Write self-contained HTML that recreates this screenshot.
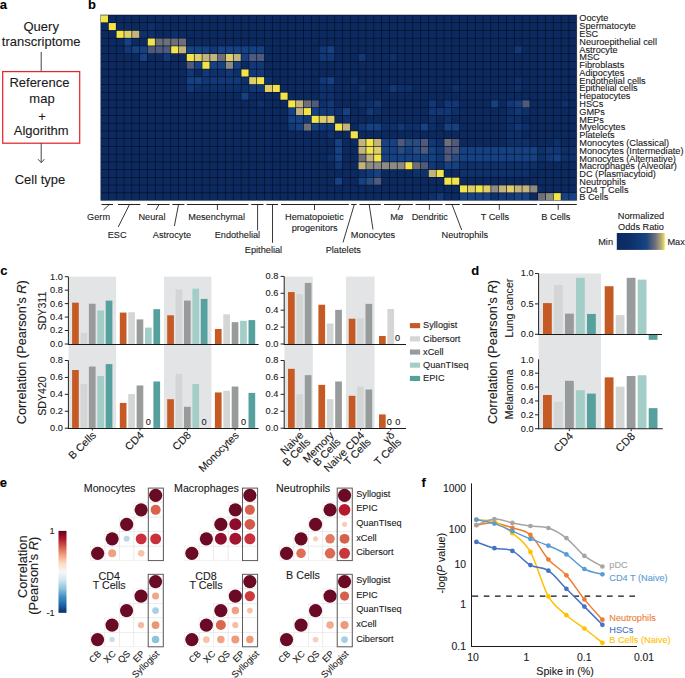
<!DOCTYPE html>
<html><head><meta charset="utf-8"><style>
html,body{margin:0;padding:0;background:#fff;}
body{width:685px;height:678px;overflow:hidden;}
svg{display:block;font-family:"Liberation Sans", sans-serif;}
</style></head><body>
<svg width="685" height="678" viewBox="0 0 685 678">
<rect width="685" height="678" fill="#fff"/>
<text x="-0.30" y="9.30" font-size="13" text-anchor="start" fill="#000" stroke="#000" stroke-width="0.1" font-weight="bold">a</text>
<text x="41.20" y="30.70" font-size="13.0" text-anchor="middle" fill="#1a1a1a" stroke="#1a1a1a" stroke-width="0.1">Query</text>
<text x="41.20" y="46.40" font-size="13.0" text-anchor="middle" fill="#1a1a1a" stroke="#1a1a1a" stroke-width="0.1">transcriptome</text>
<line x1="41.20" y1="51.90" x2="41.20" y2="71.50" stroke="#444" stroke-width="1"/>
<rect x="2.7" y="71.6" width="77.0" height="71.6" fill="none" stroke="#e3262b" stroke-width="1.25"/>
<text x="39.40" y="87.30" font-size="13.0" text-anchor="middle" fill="#1a1a1a" stroke="#1a1a1a" stroke-width="0.1">Reference</text>
<text x="42.00" y="102.50" font-size="13.0" text-anchor="middle" fill="#1a1a1a" stroke="#1a1a1a" stroke-width="0.1">map</text>
<text x="42.00" y="120.60" font-size="13.0" text-anchor="middle" fill="#1a1a1a" stroke="#1a1a1a" stroke-width="0.1">+</text>
<text x="41.20" y="135.30" font-size="13.0" text-anchor="middle" fill="#1a1a1a" stroke="#1a1a1a" stroke-width="0.1">Algorithm</text>
<line x1="41.20" y1="143.00" x2="41.20" y2="162.50" stroke="#444" stroke-width="1"/>
<polyline points="38.00,159.2 41.20,162.6 44.40,159.2" fill="none" stroke="#444" stroke-width="1"/>
<text x="40.00" y="184.00" font-size="13.0" text-anchor="middle" fill="#1a1a1a" stroke="#1a1a1a" stroke-width="0.1">Cell type</text>
<text x="87.90" y="9.40" font-size="13" text-anchor="start" fill="#000" stroke="#000" stroke-width="0.1" font-weight="bold">b</text>
<rect x="100.30" y="14.70" width="476.70" height="186.12" fill="#050e24" stroke="#c4c8d4" stroke-width="0.6"/>
<rect x="100.92" y="15.32" width="7.17" height="7.09" fill="#f3e44a"/>
<rect x="108.72" y="15.32" width="7.17" height="7.09" fill="#0c2a60"/>
<rect x="116.53" y="15.32" width="7.17" height="7.09" fill="#0c2a60"/>
<rect x="124.33" y="15.32" width="7.17" height="7.09" fill="#0c2a60"/>
<rect x="132.14" y="15.32" width="7.17" height="7.09" fill="#0c2a60"/>
<rect x="139.94" y="15.32" width="7.17" height="7.09" fill="#0c2a60"/>
<rect x="147.75" y="15.32" width="7.17" height="7.09" fill="#0c2a60"/>
<rect x="155.55" y="15.32" width="7.17" height="7.09" fill="#0c2a60"/>
<rect x="163.36" y="15.32" width="7.17" height="7.09" fill="#0c2a60"/>
<rect x="171.16" y="15.32" width="7.17" height="7.09" fill="#0c2a60"/>
<rect x="178.97" y="15.32" width="7.17" height="7.09" fill="#0c2a60"/>
<rect x="186.77" y="15.32" width="7.17" height="7.09" fill="#0c2a60"/>
<rect x="194.58" y="15.32" width="7.17" height="7.09" fill="#0c2a60"/>
<rect x="202.38" y="15.32" width="7.17" height="7.09" fill="#0c2a60"/>
<rect x="210.19" y="15.32" width="7.17" height="7.09" fill="#0c2a60"/>
<rect x="217.99" y="15.32" width="7.17" height="7.09" fill="#0c2a60"/>
<rect x="225.80" y="15.32" width="7.17" height="7.09" fill="#0c2a60"/>
<rect x="233.60" y="15.32" width="7.17" height="7.09" fill="#0c2a60"/>
<rect x="241.41" y="15.32" width="7.17" height="7.09" fill="#0c2a60"/>
<rect x="249.21" y="15.32" width="7.17" height="7.09" fill="#0c2a60"/>
<rect x="257.02" y="15.32" width="7.17" height="7.09" fill="#0c2a60"/>
<rect x="264.82" y="15.32" width="7.17" height="7.09" fill="#0c2a60"/>
<rect x="272.63" y="15.32" width="7.17" height="7.09" fill="#0c2a60"/>
<rect x="280.44" y="15.32" width="7.17" height="7.09" fill="#0c2a60"/>
<rect x="288.24" y="15.32" width="7.17" height="7.09" fill="#0c2a60"/>
<rect x="296.05" y="15.32" width="7.17" height="7.09" fill="#0c2a60"/>
<rect x="303.85" y="15.32" width="7.17" height="7.09" fill="#0c2a60"/>
<rect x="311.65" y="15.32" width="7.17" height="7.09" fill="#0c2a60"/>
<rect x="319.46" y="15.32" width="7.17" height="7.09" fill="#0c2a60"/>
<rect x="327.26" y="15.32" width="7.17" height="7.09" fill="#0c2a60"/>
<rect x="335.07" y="15.32" width="7.17" height="7.09" fill="#0c2a60"/>
<rect x="342.87" y="15.32" width="7.17" height="7.09" fill="#0c2a60"/>
<rect x="350.68" y="15.32" width="7.17" height="7.09" fill="#0c2a60"/>
<rect x="358.48" y="15.32" width="7.17" height="7.09" fill="#0c2a60"/>
<rect x="366.29" y="15.32" width="7.17" height="7.09" fill="#0c2a60"/>
<rect x="374.09" y="15.32" width="7.17" height="7.09" fill="#0c2a60"/>
<rect x="381.90" y="15.32" width="7.17" height="7.09" fill="#0c2a60"/>
<rect x="389.70" y="15.32" width="7.17" height="7.09" fill="#0c2a60"/>
<rect x="397.51" y="15.32" width="7.17" height="7.09" fill="#0c2a60"/>
<rect x="405.31" y="15.32" width="7.17" height="7.09" fill="#0c2a60"/>
<rect x="413.12" y="15.32" width="7.17" height="7.09" fill="#0c2a60"/>
<rect x="420.93" y="15.32" width="7.17" height="7.09" fill="#0c2a60"/>
<rect x="428.73" y="15.32" width="7.17" height="7.09" fill="#0c2a60"/>
<rect x="436.54" y="15.32" width="7.17" height="7.09" fill="#0c2a60"/>
<rect x="444.34" y="15.32" width="7.17" height="7.09" fill="#0c2a60"/>
<rect x="452.14" y="15.32" width="7.17" height="7.09" fill="#0c2a60"/>
<rect x="459.95" y="15.32" width="7.17" height="7.09" fill="#0c2a60"/>
<rect x="467.75" y="15.32" width="7.17" height="7.09" fill="#0c2a60"/>
<rect x="475.56" y="15.32" width="7.17" height="7.09" fill="#0c2a60"/>
<rect x="483.36" y="15.32" width="7.17" height="7.09" fill="#0c2a60"/>
<rect x="491.17" y="15.32" width="7.17" height="7.09" fill="#0c2a60"/>
<rect x="498.97" y="15.32" width="7.17" height="7.09" fill="#0c2a60"/>
<rect x="506.78" y="15.32" width="7.17" height="7.09" fill="#0c2a60"/>
<rect x="514.59" y="15.32" width="7.17" height="7.09" fill="#0c2a60"/>
<rect x="522.39" y="15.32" width="7.17" height="7.09" fill="#0c2a60"/>
<rect x="530.20" y="15.32" width="7.17" height="7.09" fill="#0c2a60"/>
<rect x="538.00" y="15.32" width="7.17" height="7.09" fill="#0c2a60"/>
<rect x="545.81" y="15.32" width="7.17" height="7.09" fill="#0c2a60"/>
<rect x="553.61" y="15.32" width="7.17" height="7.09" fill="#0c2a60"/>
<rect x="561.42" y="15.32" width="7.17" height="7.09" fill="#0c2a60"/>
<rect x="569.22" y="15.32" width="7.17" height="7.09" fill="#0c2a60"/>
<rect x="100.92" y="23.05" width="7.17" height="7.09" fill="#0c2a60"/>
<rect x="108.72" y="23.05" width="7.17" height="7.09" fill="#f3e44a"/>
<rect x="116.53" y="23.05" width="7.17" height="7.09" fill="#0c2a60"/>
<rect x="124.33" y="23.05" width="7.17" height="7.09" fill="#0c2a60"/>
<rect x="132.14" y="23.05" width="7.17" height="7.09" fill="#0c2a60"/>
<rect x="139.94" y="23.05" width="7.17" height="7.09" fill="#0c2a60"/>
<rect x="147.75" y="23.05" width="7.17" height="7.09" fill="#0e306b"/>
<rect x="155.55" y="23.05" width="7.17" height="7.09" fill="#0c2a60"/>
<rect x="163.36" y="23.05" width="7.17" height="7.09" fill="#0c2a60"/>
<rect x="171.16" y="23.05" width="7.17" height="7.09" fill="#0c2a60"/>
<rect x="178.97" y="23.05" width="7.17" height="7.09" fill="#0c2a60"/>
<rect x="186.77" y="23.05" width="7.17" height="7.09" fill="#0c2a60"/>
<rect x="194.58" y="23.05" width="7.17" height="7.09" fill="#0c2a60"/>
<rect x="202.38" y="23.05" width="7.17" height="7.09" fill="#0c2a60"/>
<rect x="210.19" y="23.05" width="7.17" height="7.09" fill="#0c2a60"/>
<rect x="217.99" y="23.05" width="7.17" height="7.09" fill="#0c2a60"/>
<rect x="225.80" y="23.05" width="7.17" height="7.09" fill="#0c2a60"/>
<rect x="233.60" y="23.05" width="7.17" height="7.09" fill="#0c2a60"/>
<rect x="241.41" y="23.05" width="7.17" height="7.09" fill="#0c2a60"/>
<rect x="249.21" y="23.05" width="7.17" height="7.09" fill="#0c2a60"/>
<rect x="257.02" y="23.05" width="7.17" height="7.09" fill="#0c2a60"/>
<rect x="264.82" y="23.05" width="7.17" height="7.09" fill="#0c2a60"/>
<rect x="272.63" y="23.05" width="7.17" height="7.09" fill="#0c2a60"/>
<rect x="280.44" y="23.05" width="7.17" height="7.09" fill="#0c2a60"/>
<rect x="288.24" y="23.05" width="7.17" height="7.09" fill="#0c2a60"/>
<rect x="296.05" y="23.05" width="7.17" height="7.09" fill="#0c2a60"/>
<rect x="303.85" y="23.05" width="7.17" height="7.09" fill="#0c2a60"/>
<rect x="311.65" y="23.05" width="7.17" height="7.09" fill="#0c2a60"/>
<rect x="319.46" y="23.05" width="7.17" height="7.09" fill="#0c2a60"/>
<rect x="327.26" y="23.05" width="7.17" height="7.09" fill="#0c2a60"/>
<rect x="335.07" y="23.05" width="7.17" height="7.09" fill="#0c2a60"/>
<rect x="342.87" y="23.05" width="7.17" height="7.09" fill="#0c2a60"/>
<rect x="350.68" y="23.05" width="7.17" height="7.09" fill="#0c2a60"/>
<rect x="358.48" y="23.05" width="7.17" height="7.09" fill="#0c2a60"/>
<rect x="366.29" y="23.05" width="7.17" height="7.09" fill="#0c2a60"/>
<rect x="374.09" y="23.05" width="7.17" height="7.09" fill="#0c2a60"/>
<rect x="381.90" y="23.05" width="7.17" height="7.09" fill="#0c2a60"/>
<rect x="389.70" y="23.05" width="7.17" height="7.09" fill="#0c2a60"/>
<rect x="397.51" y="23.05" width="7.17" height="7.09" fill="#0c2a60"/>
<rect x="405.31" y="23.05" width="7.17" height="7.09" fill="#0c2a60"/>
<rect x="413.12" y="23.05" width="7.17" height="7.09" fill="#0c2a60"/>
<rect x="420.93" y="23.05" width="7.17" height="7.09" fill="#0c2a60"/>
<rect x="428.73" y="23.05" width="7.17" height="7.09" fill="#0c2a60"/>
<rect x="436.54" y="23.05" width="7.17" height="7.09" fill="#0c2a60"/>
<rect x="444.34" y="23.05" width="7.17" height="7.09" fill="#0c2a60"/>
<rect x="452.14" y="23.05" width="7.17" height="7.09" fill="#0c2a60"/>
<rect x="459.95" y="23.05" width="7.17" height="7.09" fill="#0c2a60"/>
<rect x="467.75" y="23.05" width="7.17" height="7.09" fill="#0c2a60"/>
<rect x="475.56" y="23.05" width="7.17" height="7.09" fill="#0c2a60"/>
<rect x="483.36" y="23.05" width="7.17" height="7.09" fill="#0c2a60"/>
<rect x="491.17" y="23.05" width="7.17" height="7.09" fill="#0c2a60"/>
<rect x="498.97" y="23.05" width="7.17" height="7.09" fill="#0c2a60"/>
<rect x="506.78" y="23.05" width="7.17" height="7.09" fill="#0c2a60"/>
<rect x="514.59" y="23.05" width="7.17" height="7.09" fill="#0c2a60"/>
<rect x="522.39" y="23.05" width="7.17" height="7.09" fill="#0c2a60"/>
<rect x="530.20" y="23.05" width="7.17" height="7.09" fill="#0c2a60"/>
<rect x="538.00" y="23.05" width="7.17" height="7.09" fill="#0c2a60"/>
<rect x="545.81" y="23.05" width="7.17" height="7.09" fill="#0c2a60"/>
<rect x="553.61" y="23.05" width="7.17" height="7.09" fill="#0c2a60"/>
<rect x="561.42" y="23.05" width="7.17" height="7.09" fill="#0c2a60"/>
<rect x="569.22" y="23.05" width="7.17" height="7.09" fill="#0c2a60"/>
<rect x="100.92" y="30.78" width="7.17" height="7.09" fill="#0c2a60"/>
<rect x="108.72" y="30.78" width="7.17" height="7.09" fill="#0c2a60"/>
<rect x="116.53" y="30.78" width="7.17" height="7.09" fill="#f3e44a"/>
<rect x="124.33" y="30.78" width="7.17" height="7.09" fill="#e0ce68"/>
<rect x="132.14" y="30.78" width="7.17" height="7.09" fill="#c2b47a"/>
<rect x="139.94" y="30.78" width="7.17" height="7.09" fill="#0e306b"/>
<rect x="147.75" y="30.78" width="7.17" height="7.09" fill="#0e306b"/>
<rect x="155.55" y="30.78" width="7.17" height="7.09" fill="#0c2a60"/>
<rect x="163.36" y="30.78" width="7.17" height="7.09" fill="#0c2a60"/>
<rect x="171.16" y="30.78" width="7.17" height="7.09" fill="#0e306b"/>
<rect x="178.97" y="30.78" width="7.17" height="7.09" fill="#0c2a60"/>
<rect x="186.77" y="30.78" width="7.17" height="7.09" fill="#0c2a60"/>
<rect x="194.58" y="30.78" width="7.17" height="7.09" fill="#0c2a60"/>
<rect x="202.38" y="30.78" width="7.17" height="7.09" fill="#0c2a60"/>
<rect x="210.19" y="30.78" width="7.17" height="7.09" fill="#0c2a60"/>
<rect x="217.99" y="30.78" width="7.17" height="7.09" fill="#0c2a60"/>
<rect x="225.80" y="30.78" width="7.17" height="7.09" fill="#0c2a60"/>
<rect x="233.60" y="30.78" width="7.17" height="7.09" fill="#0c2a60"/>
<rect x="241.41" y="30.78" width="7.17" height="7.09" fill="#0c2a60"/>
<rect x="249.21" y="30.78" width="7.17" height="7.09" fill="#0c2a60"/>
<rect x="257.02" y="30.78" width="7.17" height="7.09" fill="#0c2a60"/>
<rect x="264.82" y="30.78" width="7.17" height="7.09" fill="#0c2a60"/>
<rect x="272.63" y="30.78" width="7.17" height="7.09" fill="#0c2a60"/>
<rect x="280.44" y="30.78" width="7.17" height="7.09" fill="#0c2a60"/>
<rect x="288.24" y="30.78" width="7.17" height="7.09" fill="#0c2a60"/>
<rect x="296.05" y="30.78" width="7.17" height="7.09" fill="#0c2a60"/>
<rect x="303.85" y="30.78" width="7.17" height="7.09" fill="#0c2a60"/>
<rect x="311.65" y="30.78" width="7.17" height="7.09" fill="#0c2a60"/>
<rect x="319.46" y="30.78" width="7.17" height="7.09" fill="#0c2a60"/>
<rect x="327.26" y="30.78" width="7.17" height="7.09" fill="#0c2a60"/>
<rect x="335.07" y="30.78" width="7.17" height="7.09" fill="#0c2a60"/>
<rect x="342.87" y="30.78" width="7.17" height="7.09" fill="#0c2a60"/>
<rect x="350.68" y="30.78" width="7.17" height="7.09" fill="#0c2a60"/>
<rect x="358.48" y="30.78" width="7.17" height="7.09" fill="#0c2a60"/>
<rect x="366.29" y="30.78" width="7.17" height="7.09" fill="#0c2a60"/>
<rect x="374.09" y="30.78" width="7.17" height="7.09" fill="#0c2a60"/>
<rect x="381.90" y="30.78" width="7.17" height="7.09" fill="#0c2a60"/>
<rect x="389.70" y="30.78" width="7.17" height="7.09" fill="#0c2a60"/>
<rect x="397.51" y="30.78" width="7.17" height="7.09" fill="#0c2a60"/>
<rect x="405.31" y="30.78" width="7.17" height="7.09" fill="#0c2a60"/>
<rect x="413.12" y="30.78" width="7.17" height="7.09" fill="#0c2a60"/>
<rect x="420.93" y="30.78" width="7.17" height="7.09" fill="#0c2a60"/>
<rect x="428.73" y="30.78" width="7.17" height="7.09" fill="#0c2a60"/>
<rect x="436.54" y="30.78" width="7.17" height="7.09" fill="#0c2a60"/>
<rect x="444.34" y="30.78" width="7.17" height="7.09" fill="#0c2a60"/>
<rect x="452.14" y="30.78" width="7.17" height="7.09" fill="#0c2a60"/>
<rect x="459.95" y="30.78" width="7.17" height="7.09" fill="#0c2a60"/>
<rect x="467.75" y="30.78" width="7.17" height="7.09" fill="#0c2a60"/>
<rect x="475.56" y="30.78" width="7.17" height="7.09" fill="#0c2a60"/>
<rect x="483.36" y="30.78" width="7.17" height="7.09" fill="#0c2a60"/>
<rect x="491.17" y="30.78" width="7.17" height="7.09" fill="#0c2a60"/>
<rect x="498.97" y="30.78" width="7.17" height="7.09" fill="#0c2a60"/>
<rect x="506.78" y="30.78" width="7.17" height="7.09" fill="#0c2a60"/>
<rect x="514.59" y="30.78" width="7.17" height="7.09" fill="#0c2a60"/>
<rect x="522.39" y="30.78" width="7.17" height="7.09" fill="#0c2a60"/>
<rect x="530.20" y="30.78" width="7.17" height="7.09" fill="#0c2a60"/>
<rect x="538.00" y="30.78" width="7.17" height="7.09" fill="#0c2a60"/>
<rect x="545.81" y="30.78" width="7.17" height="7.09" fill="#0c2a60"/>
<rect x="553.61" y="30.78" width="7.17" height="7.09" fill="#0c2a60"/>
<rect x="561.42" y="30.78" width="7.17" height="7.09" fill="#0c2a60"/>
<rect x="569.22" y="30.78" width="7.17" height="7.09" fill="#0c2a60"/>
<rect x="100.92" y="38.51" width="7.17" height="7.09" fill="#0c2a60"/>
<rect x="108.72" y="38.51" width="7.17" height="7.09" fill="#0c2a60"/>
<rect x="116.53" y="38.51" width="7.17" height="7.09" fill="#0c2a60"/>
<rect x="124.33" y="38.51" width="7.17" height="7.09" fill="#164283"/>
<rect x="132.14" y="38.51" width="7.17" height="7.09" fill="#0c2a60"/>
<rect x="139.94" y="38.51" width="7.17" height="7.09" fill="#0c2a60"/>
<rect x="147.75" y="38.51" width="7.17" height="7.09" fill="#f3e44a"/>
<rect x="155.55" y="38.51" width="7.17" height="7.09" fill="#6e7079"/>
<rect x="163.36" y="38.51" width="7.17" height="7.09" fill="#6e7079"/>
<rect x="171.16" y="38.51" width="7.17" height="7.09" fill="#6e7079"/>
<rect x="178.97" y="38.51" width="7.17" height="7.09" fill="#6e7079"/>
<rect x="186.77" y="38.51" width="7.17" height="7.09" fill="#0c2a60"/>
<rect x="194.58" y="38.51" width="7.17" height="7.09" fill="#0c2a60"/>
<rect x="202.38" y="38.51" width="7.17" height="7.09" fill="#0c2a60"/>
<rect x="210.19" y="38.51" width="7.17" height="7.09" fill="#0c2a60"/>
<rect x="217.99" y="38.51" width="7.17" height="7.09" fill="#0c2a60"/>
<rect x="225.80" y="38.51" width="7.17" height="7.09" fill="#0c2a60"/>
<rect x="233.60" y="38.51" width="7.17" height="7.09" fill="#0c2a60"/>
<rect x="241.41" y="38.51" width="7.17" height="7.09" fill="#0c2a60"/>
<rect x="249.21" y="38.51" width="7.17" height="7.09" fill="#0c2a60"/>
<rect x="257.02" y="38.51" width="7.17" height="7.09" fill="#0c2a60"/>
<rect x="264.82" y="38.51" width="7.17" height="7.09" fill="#0c2a60"/>
<rect x="272.63" y="38.51" width="7.17" height="7.09" fill="#0c2a60"/>
<rect x="280.44" y="38.51" width="7.17" height="7.09" fill="#0c2a60"/>
<rect x="288.24" y="38.51" width="7.17" height="7.09" fill="#0c2a60"/>
<rect x="296.05" y="38.51" width="7.17" height="7.09" fill="#0c2a60"/>
<rect x="303.85" y="38.51" width="7.17" height="7.09" fill="#0c2a60"/>
<rect x="311.65" y="38.51" width="7.17" height="7.09" fill="#0c2a60"/>
<rect x="319.46" y="38.51" width="7.17" height="7.09" fill="#0c2a60"/>
<rect x="327.26" y="38.51" width="7.17" height="7.09" fill="#0c2a60"/>
<rect x="335.07" y="38.51" width="7.17" height="7.09" fill="#0c2a60"/>
<rect x="342.87" y="38.51" width="7.17" height="7.09" fill="#0c2a60"/>
<rect x="350.68" y="38.51" width="7.17" height="7.09" fill="#0c2a60"/>
<rect x="358.48" y="38.51" width="7.17" height="7.09" fill="#0c2a60"/>
<rect x="366.29" y="38.51" width="7.17" height="7.09" fill="#0c2a60"/>
<rect x="374.09" y="38.51" width="7.17" height="7.09" fill="#0c2a60"/>
<rect x="381.90" y="38.51" width="7.17" height="7.09" fill="#0c2a60"/>
<rect x="389.70" y="38.51" width="7.17" height="7.09" fill="#0c2a60"/>
<rect x="397.51" y="38.51" width="7.17" height="7.09" fill="#0c2a60"/>
<rect x="405.31" y="38.51" width="7.17" height="7.09" fill="#0c2a60"/>
<rect x="413.12" y="38.51" width="7.17" height="7.09" fill="#0c2a60"/>
<rect x="420.93" y="38.51" width="7.17" height="7.09" fill="#0c2a60"/>
<rect x="428.73" y="38.51" width="7.17" height="7.09" fill="#0c2a60"/>
<rect x="436.54" y="38.51" width="7.17" height="7.09" fill="#0c2a60"/>
<rect x="444.34" y="38.51" width="7.17" height="7.09" fill="#0c2a60"/>
<rect x="452.14" y="38.51" width="7.17" height="7.09" fill="#0c2a60"/>
<rect x="459.95" y="38.51" width="7.17" height="7.09" fill="#0c2a60"/>
<rect x="467.75" y="38.51" width="7.17" height="7.09" fill="#0c2a60"/>
<rect x="475.56" y="38.51" width="7.17" height="7.09" fill="#0c2a60"/>
<rect x="483.36" y="38.51" width="7.17" height="7.09" fill="#0c2a60"/>
<rect x="491.17" y="38.51" width="7.17" height="7.09" fill="#0c2a60"/>
<rect x="498.97" y="38.51" width="7.17" height="7.09" fill="#0c2a60"/>
<rect x="506.78" y="38.51" width="7.17" height="7.09" fill="#0c2a60"/>
<rect x="514.59" y="38.51" width="7.17" height="7.09" fill="#0c2a60"/>
<rect x="522.39" y="38.51" width="7.17" height="7.09" fill="#0c2a60"/>
<rect x="530.20" y="38.51" width="7.17" height="7.09" fill="#0c2a60"/>
<rect x="538.00" y="38.51" width="7.17" height="7.09" fill="#0c2a60"/>
<rect x="545.81" y="38.51" width="7.17" height="7.09" fill="#0c2a60"/>
<rect x="553.61" y="38.51" width="7.17" height="7.09" fill="#0c2a60"/>
<rect x="561.42" y="38.51" width="7.17" height="7.09" fill="#0c2a60"/>
<rect x="569.22" y="38.51" width="7.17" height="7.09" fill="#0c2a60"/>
<rect x="100.92" y="46.24" width="7.17" height="7.09" fill="#0c2a60"/>
<rect x="108.72" y="46.24" width="7.17" height="7.09" fill="#0c2a60"/>
<rect x="116.53" y="46.24" width="7.17" height="7.09" fill="#0c2a60"/>
<rect x="124.33" y="46.24" width="7.17" height="7.09" fill="#123877"/>
<rect x="132.14" y="46.24" width="7.17" height="7.09" fill="#164283"/>
<rect x="139.94" y="46.24" width="7.17" height="7.09" fill="#164283"/>
<rect x="147.75" y="46.24" width="7.17" height="7.09" fill="#4f5b7e"/>
<rect x="155.55" y="46.24" width="7.17" height="7.09" fill="#4f5b7e"/>
<rect x="163.36" y="46.24" width="7.17" height="7.09" fill="#4f5b7e"/>
<rect x="171.16" y="46.24" width="7.17" height="7.09" fill="#f3e44a"/>
<rect x="178.97" y="46.24" width="7.17" height="7.09" fill="#c2b47a"/>
<rect x="186.77" y="46.24" width="7.17" height="7.09" fill="#164283"/>
<rect x="194.58" y="46.24" width="7.17" height="7.09" fill="#164283"/>
<rect x="202.38" y="46.24" width="7.17" height="7.09" fill="#164283"/>
<rect x="210.19" y="46.24" width="7.17" height="7.09" fill="#123877"/>
<rect x="217.99" y="46.24" width="7.17" height="7.09" fill="#164283"/>
<rect x="225.80" y="46.24" width="7.17" height="7.09" fill="#164283"/>
<rect x="233.60" y="46.24" width="7.17" height="7.09" fill="#164283"/>
<rect x="241.41" y="46.24" width="7.17" height="7.09" fill="#164283"/>
<rect x="249.21" y="46.24" width="7.17" height="7.09" fill="#164283"/>
<rect x="257.02" y="46.24" width="7.17" height="7.09" fill="#164283"/>
<rect x="264.82" y="46.24" width="7.17" height="7.09" fill="#0c2a60"/>
<rect x="272.63" y="46.24" width="7.17" height="7.09" fill="#0c2a60"/>
<rect x="280.44" y="46.24" width="7.17" height="7.09" fill="#0c2a60"/>
<rect x="288.24" y="46.24" width="7.17" height="7.09" fill="#0c2a60"/>
<rect x="296.05" y="46.24" width="7.17" height="7.09" fill="#0c2a60"/>
<rect x="303.85" y="46.24" width="7.17" height="7.09" fill="#0c2a60"/>
<rect x="311.65" y="46.24" width="7.17" height="7.09" fill="#0c2a60"/>
<rect x="319.46" y="46.24" width="7.17" height="7.09" fill="#123877"/>
<rect x="327.26" y="46.24" width="7.17" height="7.09" fill="#164283"/>
<rect x="335.07" y="46.24" width="7.17" height="7.09" fill="#0c2a60"/>
<rect x="342.87" y="46.24" width="7.17" height="7.09" fill="#0c2a60"/>
<rect x="350.68" y="46.24" width="7.17" height="7.09" fill="#0c2a60"/>
<rect x="358.48" y="46.24" width="7.17" height="7.09" fill="#0c2a60"/>
<rect x="366.29" y="46.24" width="7.17" height="7.09" fill="#0c2a60"/>
<rect x="374.09" y="46.24" width="7.17" height="7.09" fill="#0c2a60"/>
<rect x="381.90" y="46.24" width="7.17" height="7.09" fill="#0c2a60"/>
<rect x="389.70" y="46.24" width="7.17" height="7.09" fill="#0c2a60"/>
<rect x="397.51" y="46.24" width="7.17" height="7.09" fill="#0c2a60"/>
<rect x="405.31" y="46.24" width="7.17" height="7.09" fill="#0c2a60"/>
<rect x="413.12" y="46.24" width="7.17" height="7.09" fill="#0c2a60"/>
<rect x="420.93" y="46.24" width="7.17" height="7.09" fill="#0c2a60"/>
<rect x="428.73" y="46.24" width="7.17" height="7.09" fill="#0c2a60"/>
<rect x="436.54" y="46.24" width="7.17" height="7.09" fill="#0c2a60"/>
<rect x="444.34" y="46.24" width="7.17" height="7.09" fill="#0c2a60"/>
<rect x="452.14" y="46.24" width="7.17" height="7.09" fill="#0c2a60"/>
<rect x="459.95" y="46.24" width="7.17" height="7.09" fill="#0c2a60"/>
<rect x="467.75" y="46.24" width="7.17" height="7.09" fill="#0c2a60"/>
<rect x="475.56" y="46.24" width="7.17" height="7.09" fill="#0c2a60"/>
<rect x="483.36" y="46.24" width="7.17" height="7.09" fill="#0c2a60"/>
<rect x="491.17" y="46.24" width="7.17" height="7.09" fill="#0c2a60"/>
<rect x="498.97" y="46.24" width="7.17" height="7.09" fill="#0c2a60"/>
<rect x="506.78" y="46.24" width="7.17" height="7.09" fill="#0c2a60"/>
<rect x="514.59" y="46.24" width="7.17" height="7.09" fill="#123877"/>
<rect x="522.39" y="46.24" width="7.17" height="7.09" fill="#0c2a60"/>
<rect x="530.20" y="46.24" width="7.17" height="7.09" fill="#0c2a60"/>
<rect x="538.00" y="46.24" width="7.17" height="7.09" fill="#0c2a60"/>
<rect x="545.81" y="46.24" width="7.17" height="7.09" fill="#0c2a60"/>
<rect x="553.61" y="46.24" width="7.17" height="7.09" fill="#0c2a60"/>
<rect x="561.42" y="46.24" width="7.17" height="7.09" fill="#0c2a60"/>
<rect x="569.22" y="46.24" width="7.17" height="7.09" fill="#0c2a60"/>
<rect x="100.92" y="53.97" width="7.17" height="7.09" fill="#0c2a60"/>
<rect x="108.72" y="53.97" width="7.17" height="7.09" fill="#0c2a60"/>
<rect x="116.53" y="53.97" width="7.17" height="7.09" fill="#0c2a60"/>
<rect x="124.33" y="53.97" width="7.17" height="7.09" fill="#0c2a60"/>
<rect x="132.14" y="53.97" width="7.17" height="7.09" fill="#0c2a60"/>
<rect x="139.94" y="53.97" width="7.17" height="7.09" fill="#164283"/>
<rect x="147.75" y="53.97" width="7.17" height="7.09" fill="#0c2a60"/>
<rect x="155.55" y="53.97" width="7.17" height="7.09" fill="#0c2a60"/>
<rect x="163.36" y="53.97" width="7.17" height="7.09" fill="#123877"/>
<rect x="171.16" y="53.97" width="7.17" height="7.09" fill="#0c2a60"/>
<rect x="178.97" y="53.97" width="7.17" height="7.09" fill="#0c2a60"/>
<rect x="186.77" y="53.97" width="7.17" height="7.09" fill="#f3e44a"/>
<rect x="194.58" y="53.97" width="7.17" height="7.09" fill="#e0ce68"/>
<rect x="202.38" y="53.97" width="7.17" height="7.09" fill="#c2b47a"/>
<rect x="210.19" y="53.97" width="7.17" height="7.09" fill="#c2b47a"/>
<rect x="217.99" y="53.97" width="7.17" height="7.09" fill="#6e7079"/>
<rect x="225.80" y="53.97" width="7.17" height="7.09" fill="#e0ce68"/>
<rect x="233.60" y="53.97" width="7.17" height="7.09" fill="#c2b47a"/>
<rect x="241.41" y="53.97" width="7.17" height="7.09" fill="#164283"/>
<rect x="249.21" y="53.97" width="7.17" height="7.09" fill="#4f5b7e"/>
<rect x="257.02" y="53.97" width="7.17" height="7.09" fill="#4f5b7e"/>
<rect x="264.82" y="53.97" width="7.17" height="7.09" fill="#0c2a60"/>
<rect x="272.63" y="53.97" width="7.17" height="7.09" fill="#0c2a60"/>
<rect x="280.44" y="53.97" width="7.17" height="7.09" fill="#0c2a60"/>
<rect x="288.24" y="53.97" width="7.17" height="7.09" fill="#0c2a60"/>
<rect x="296.05" y="53.97" width="7.17" height="7.09" fill="#0c2a60"/>
<rect x="303.85" y="53.97" width="7.17" height="7.09" fill="#0c2a60"/>
<rect x="311.65" y="53.97" width="7.17" height="7.09" fill="#0c2a60"/>
<rect x="319.46" y="53.97" width="7.17" height="7.09" fill="#123877"/>
<rect x="327.26" y="53.97" width="7.17" height="7.09" fill="#123877"/>
<rect x="335.07" y="53.97" width="7.17" height="7.09" fill="#0c2a60"/>
<rect x="342.87" y="53.97" width="7.17" height="7.09" fill="#0c2a60"/>
<rect x="350.68" y="53.97" width="7.17" height="7.09" fill="#0c2a60"/>
<rect x="358.48" y="53.97" width="7.17" height="7.09" fill="#123877"/>
<rect x="366.29" y="53.97" width="7.17" height="7.09" fill="#0c2a60"/>
<rect x="374.09" y="53.97" width="7.17" height="7.09" fill="#0c2a60"/>
<rect x="381.90" y="53.97" width="7.17" height="7.09" fill="#0c2a60"/>
<rect x="389.70" y="53.97" width="7.17" height="7.09" fill="#0e306b"/>
<rect x="397.51" y="53.97" width="7.17" height="7.09" fill="#0c2a60"/>
<rect x="405.31" y="53.97" width="7.17" height="7.09" fill="#0c2a60"/>
<rect x="413.12" y="53.97" width="7.17" height="7.09" fill="#0c2a60"/>
<rect x="420.93" y="53.97" width="7.17" height="7.09" fill="#0c2a60"/>
<rect x="428.73" y="53.97" width="7.17" height="7.09" fill="#0c2a60"/>
<rect x="436.54" y="53.97" width="7.17" height="7.09" fill="#0c2a60"/>
<rect x="444.34" y="53.97" width="7.17" height="7.09" fill="#0c2a60"/>
<rect x="452.14" y="53.97" width="7.17" height="7.09" fill="#0c2a60"/>
<rect x="459.95" y="53.97" width="7.17" height="7.09" fill="#0c2a60"/>
<rect x="467.75" y="53.97" width="7.17" height="7.09" fill="#0c2a60"/>
<rect x="475.56" y="53.97" width="7.17" height="7.09" fill="#0c2a60"/>
<rect x="483.36" y="53.97" width="7.17" height="7.09" fill="#0c2a60"/>
<rect x="491.17" y="53.97" width="7.17" height="7.09" fill="#0c2a60"/>
<rect x="498.97" y="53.97" width="7.17" height="7.09" fill="#0c2a60"/>
<rect x="506.78" y="53.97" width="7.17" height="7.09" fill="#0c2a60"/>
<rect x="514.59" y="53.97" width="7.17" height="7.09" fill="#0c2a60"/>
<rect x="522.39" y="53.97" width="7.17" height="7.09" fill="#0c2a60"/>
<rect x="530.20" y="53.97" width="7.17" height="7.09" fill="#0c2a60"/>
<rect x="538.00" y="53.97" width="7.17" height="7.09" fill="#0c2a60"/>
<rect x="545.81" y="53.97" width="7.17" height="7.09" fill="#0c2a60"/>
<rect x="553.61" y="53.97" width="7.17" height="7.09" fill="#0c2a60"/>
<rect x="561.42" y="53.97" width="7.17" height="7.09" fill="#0c2a60"/>
<rect x="569.22" y="53.97" width="7.17" height="7.09" fill="#0c2a60"/>
<rect x="100.92" y="61.70" width="7.17" height="7.09" fill="#0c2a60"/>
<rect x="108.72" y="61.70" width="7.17" height="7.09" fill="#0c2a60"/>
<rect x="116.53" y="61.70" width="7.17" height="7.09" fill="#0c2a60"/>
<rect x="124.33" y="61.70" width="7.17" height="7.09" fill="#0c2a60"/>
<rect x="132.14" y="61.70" width="7.17" height="7.09" fill="#0c2a60"/>
<rect x="139.94" y="61.70" width="7.17" height="7.09" fill="#0c2a60"/>
<rect x="147.75" y="61.70" width="7.17" height="7.09" fill="#0c2a60"/>
<rect x="155.55" y="61.70" width="7.17" height="7.09" fill="#0c2a60"/>
<rect x="163.36" y="61.70" width="7.17" height="7.09" fill="#0c2a60"/>
<rect x="171.16" y="61.70" width="7.17" height="7.09" fill="#0c2a60"/>
<rect x="178.97" y="61.70" width="7.17" height="7.09" fill="#0c2a60"/>
<rect x="186.77" y="61.70" width="7.17" height="7.09" fill="#4f5b7e"/>
<rect x="194.58" y="61.70" width="7.17" height="7.09" fill="#164283"/>
<rect x="202.38" y="61.70" width="7.17" height="7.09" fill="#f3e44a"/>
<rect x="210.19" y="61.70" width="7.17" height="7.09" fill="#164283"/>
<rect x="217.99" y="61.70" width="7.17" height="7.09" fill="#164283"/>
<rect x="225.80" y="61.70" width="7.17" height="7.09" fill="#8c8b84"/>
<rect x="233.60" y="61.70" width="7.17" height="7.09" fill="#164283"/>
<rect x="241.41" y="61.70" width="7.17" height="7.09" fill="#0c2a60"/>
<rect x="249.21" y="61.70" width="7.17" height="7.09" fill="#123877"/>
<rect x="257.02" y="61.70" width="7.17" height="7.09" fill="#123877"/>
<rect x="264.82" y="61.70" width="7.17" height="7.09" fill="#0c2a60"/>
<rect x="272.63" y="61.70" width="7.17" height="7.09" fill="#0c2a60"/>
<rect x="280.44" y="61.70" width="7.17" height="7.09" fill="#0c2a60"/>
<rect x="288.24" y="61.70" width="7.17" height="7.09" fill="#0c2a60"/>
<rect x="296.05" y="61.70" width="7.17" height="7.09" fill="#0c2a60"/>
<rect x="303.85" y="61.70" width="7.17" height="7.09" fill="#0c2a60"/>
<rect x="311.65" y="61.70" width="7.17" height="7.09" fill="#0c2a60"/>
<rect x="319.46" y="61.70" width="7.17" height="7.09" fill="#0c2a60"/>
<rect x="327.26" y="61.70" width="7.17" height="7.09" fill="#0c2a60"/>
<rect x="335.07" y="61.70" width="7.17" height="7.09" fill="#0c2a60"/>
<rect x="342.87" y="61.70" width="7.17" height="7.09" fill="#0c2a60"/>
<rect x="350.68" y="61.70" width="7.17" height="7.09" fill="#0c2a60"/>
<rect x="358.48" y="61.70" width="7.17" height="7.09" fill="#0c2a60"/>
<rect x="366.29" y="61.70" width="7.17" height="7.09" fill="#0c2a60"/>
<rect x="374.09" y="61.70" width="7.17" height="7.09" fill="#0c2a60"/>
<rect x="381.90" y="61.70" width="7.17" height="7.09" fill="#0c2a60"/>
<rect x="389.70" y="61.70" width="7.17" height="7.09" fill="#0c2a60"/>
<rect x="397.51" y="61.70" width="7.17" height="7.09" fill="#0c2a60"/>
<rect x="405.31" y="61.70" width="7.17" height="7.09" fill="#0c2a60"/>
<rect x="413.12" y="61.70" width="7.17" height="7.09" fill="#0c2a60"/>
<rect x="420.93" y="61.70" width="7.17" height="7.09" fill="#0c2a60"/>
<rect x="428.73" y="61.70" width="7.17" height="7.09" fill="#0c2a60"/>
<rect x="436.54" y="61.70" width="7.17" height="7.09" fill="#0c2a60"/>
<rect x="444.34" y="61.70" width="7.17" height="7.09" fill="#0c2a60"/>
<rect x="452.14" y="61.70" width="7.17" height="7.09" fill="#0c2a60"/>
<rect x="459.95" y="61.70" width="7.17" height="7.09" fill="#0c2a60"/>
<rect x="467.75" y="61.70" width="7.17" height="7.09" fill="#0c2a60"/>
<rect x="475.56" y="61.70" width="7.17" height="7.09" fill="#0c2a60"/>
<rect x="483.36" y="61.70" width="7.17" height="7.09" fill="#0c2a60"/>
<rect x="491.17" y="61.70" width="7.17" height="7.09" fill="#0c2a60"/>
<rect x="498.97" y="61.70" width="7.17" height="7.09" fill="#0c2a60"/>
<rect x="506.78" y="61.70" width="7.17" height="7.09" fill="#0c2a60"/>
<rect x="514.59" y="61.70" width="7.17" height="7.09" fill="#0c2a60"/>
<rect x="522.39" y="61.70" width="7.17" height="7.09" fill="#0c2a60"/>
<rect x="530.20" y="61.70" width="7.17" height="7.09" fill="#0c2a60"/>
<rect x="538.00" y="61.70" width="7.17" height="7.09" fill="#0c2a60"/>
<rect x="545.81" y="61.70" width="7.17" height="7.09" fill="#0c2a60"/>
<rect x="553.61" y="61.70" width="7.17" height="7.09" fill="#0c2a60"/>
<rect x="561.42" y="61.70" width="7.17" height="7.09" fill="#0c2a60"/>
<rect x="569.22" y="61.70" width="7.17" height="7.09" fill="#0c2a60"/>
<rect x="100.92" y="69.43" width="7.17" height="7.09" fill="#0c2a60"/>
<rect x="108.72" y="69.43" width="7.17" height="7.09" fill="#0c2a60"/>
<rect x="116.53" y="69.43" width="7.17" height="7.09" fill="#0c2a60"/>
<rect x="124.33" y="69.43" width="7.17" height="7.09" fill="#0c2a60"/>
<rect x="132.14" y="69.43" width="7.17" height="7.09" fill="#0c2a60"/>
<rect x="139.94" y="69.43" width="7.17" height="7.09" fill="#0c2a60"/>
<rect x="147.75" y="69.43" width="7.17" height="7.09" fill="#0c2a60"/>
<rect x="155.55" y="69.43" width="7.17" height="7.09" fill="#0c2a60"/>
<rect x="163.36" y="69.43" width="7.17" height="7.09" fill="#0c2a60"/>
<rect x="171.16" y="69.43" width="7.17" height="7.09" fill="#0c2a60"/>
<rect x="178.97" y="69.43" width="7.17" height="7.09" fill="#0c2a60"/>
<rect x="186.77" y="69.43" width="7.17" height="7.09" fill="#123877"/>
<rect x="194.58" y="69.43" width="7.17" height="7.09" fill="#0c2a60"/>
<rect x="202.38" y="69.43" width="7.17" height="7.09" fill="#123877"/>
<rect x="210.19" y="69.43" width="7.17" height="7.09" fill="#0e306b"/>
<rect x="217.99" y="69.43" width="7.17" height="7.09" fill="#0e306b"/>
<rect x="225.80" y="69.43" width="7.17" height="7.09" fill="#123877"/>
<rect x="233.60" y="69.43" width="7.17" height="7.09" fill="#0e306b"/>
<rect x="241.41" y="69.43" width="7.17" height="7.09" fill="#f3e44a"/>
<rect x="249.21" y="69.43" width="7.17" height="7.09" fill="#123877"/>
<rect x="257.02" y="69.43" width="7.17" height="7.09" fill="#123877"/>
<rect x="264.82" y="69.43" width="7.17" height="7.09" fill="#0c2a60"/>
<rect x="272.63" y="69.43" width="7.17" height="7.09" fill="#0c2a60"/>
<rect x="280.44" y="69.43" width="7.17" height="7.09" fill="#0c2a60"/>
<rect x="288.24" y="69.43" width="7.17" height="7.09" fill="#0c2a60"/>
<rect x="296.05" y="69.43" width="7.17" height="7.09" fill="#0c2a60"/>
<rect x="303.85" y="69.43" width="7.17" height="7.09" fill="#0c2a60"/>
<rect x="311.65" y="69.43" width="7.17" height="7.09" fill="#0c2a60"/>
<rect x="319.46" y="69.43" width="7.17" height="7.09" fill="#0c2a60"/>
<rect x="327.26" y="69.43" width="7.17" height="7.09" fill="#0c2a60"/>
<rect x="335.07" y="69.43" width="7.17" height="7.09" fill="#0c2a60"/>
<rect x="342.87" y="69.43" width="7.17" height="7.09" fill="#0c2a60"/>
<rect x="350.68" y="69.43" width="7.17" height="7.09" fill="#0c2a60"/>
<rect x="358.48" y="69.43" width="7.17" height="7.09" fill="#0c2a60"/>
<rect x="366.29" y="69.43" width="7.17" height="7.09" fill="#0c2a60"/>
<rect x="374.09" y="69.43" width="7.17" height="7.09" fill="#0c2a60"/>
<rect x="381.90" y="69.43" width="7.17" height="7.09" fill="#0c2a60"/>
<rect x="389.70" y="69.43" width="7.17" height="7.09" fill="#0c2a60"/>
<rect x="397.51" y="69.43" width="7.17" height="7.09" fill="#0c2a60"/>
<rect x="405.31" y="69.43" width="7.17" height="7.09" fill="#0c2a60"/>
<rect x="413.12" y="69.43" width="7.17" height="7.09" fill="#0c2a60"/>
<rect x="420.93" y="69.43" width="7.17" height="7.09" fill="#0c2a60"/>
<rect x="428.73" y="69.43" width="7.17" height="7.09" fill="#0c2a60"/>
<rect x="436.54" y="69.43" width="7.17" height="7.09" fill="#0c2a60"/>
<rect x="444.34" y="69.43" width="7.17" height="7.09" fill="#0c2a60"/>
<rect x="452.14" y="69.43" width="7.17" height="7.09" fill="#0c2a60"/>
<rect x="459.95" y="69.43" width="7.17" height="7.09" fill="#0c2a60"/>
<rect x="467.75" y="69.43" width="7.17" height="7.09" fill="#0c2a60"/>
<rect x="475.56" y="69.43" width="7.17" height="7.09" fill="#0c2a60"/>
<rect x="483.36" y="69.43" width="7.17" height="7.09" fill="#0c2a60"/>
<rect x="491.17" y="69.43" width="7.17" height="7.09" fill="#0c2a60"/>
<rect x="498.97" y="69.43" width="7.17" height="7.09" fill="#0c2a60"/>
<rect x="506.78" y="69.43" width="7.17" height="7.09" fill="#0c2a60"/>
<rect x="514.59" y="69.43" width="7.17" height="7.09" fill="#0c2a60"/>
<rect x="522.39" y="69.43" width="7.17" height="7.09" fill="#0c2a60"/>
<rect x="530.20" y="69.43" width="7.17" height="7.09" fill="#0c2a60"/>
<rect x="538.00" y="69.43" width="7.17" height="7.09" fill="#0c2a60"/>
<rect x="545.81" y="69.43" width="7.17" height="7.09" fill="#0c2a60"/>
<rect x="553.61" y="69.43" width="7.17" height="7.09" fill="#0c2a60"/>
<rect x="561.42" y="69.43" width="7.17" height="7.09" fill="#0c2a60"/>
<rect x="569.22" y="69.43" width="7.17" height="7.09" fill="#0c2a60"/>
<rect x="100.92" y="77.16" width="7.17" height="7.09" fill="#0c2a60"/>
<rect x="108.72" y="77.16" width="7.17" height="7.09" fill="#0c2a60"/>
<rect x="116.53" y="77.16" width="7.17" height="7.09" fill="#0c2a60"/>
<rect x="124.33" y="77.16" width="7.17" height="7.09" fill="#0c2a60"/>
<rect x="132.14" y="77.16" width="7.17" height="7.09" fill="#0c2a60"/>
<rect x="139.94" y="77.16" width="7.17" height="7.09" fill="#0c2a60"/>
<rect x="147.75" y="77.16" width="7.17" height="7.09" fill="#0c2a60"/>
<rect x="155.55" y="77.16" width="7.17" height="7.09" fill="#0c2a60"/>
<rect x="163.36" y="77.16" width="7.17" height="7.09" fill="#0c2a60"/>
<rect x="171.16" y="77.16" width="7.17" height="7.09" fill="#0c2a60"/>
<rect x="178.97" y="77.16" width="7.17" height="7.09" fill="#0c2a60"/>
<rect x="186.77" y="77.16" width="7.17" height="7.09" fill="#164283"/>
<rect x="194.58" y="77.16" width="7.17" height="7.09" fill="#164283"/>
<rect x="202.38" y="77.16" width="7.17" height="7.09" fill="#123877"/>
<rect x="210.19" y="77.16" width="7.17" height="7.09" fill="#123877"/>
<rect x="217.99" y="77.16" width="7.17" height="7.09" fill="#123877"/>
<rect x="225.80" y="77.16" width="7.17" height="7.09" fill="#123877"/>
<rect x="233.60" y="77.16" width="7.17" height="7.09" fill="#123877"/>
<rect x="241.41" y="77.16" width="7.17" height="7.09" fill="#0e306b"/>
<rect x="249.21" y="77.16" width="7.17" height="7.09" fill="#e0ce68"/>
<rect x="257.02" y="77.16" width="7.17" height="7.09" fill="#f3e44a"/>
<rect x="264.82" y="77.16" width="7.17" height="7.09" fill="#0e306b"/>
<rect x="272.63" y="77.16" width="7.17" height="7.09" fill="#0c2a60"/>
<rect x="280.44" y="77.16" width="7.17" height="7.09" fill="#0c2a60"/>
<rect x="288.24" y="77.16" width="7.17" height="7.09" fill="#0c2a60"/>
<rect x="296.05" y="77.16" width="7.17" height="7.09" fill="#0c2a60"/>
<rect x="303.85" y="77.16" width="7.17" height="7.09" fill="#0c2a60"/>
<rect x="311.65" y="77.16" width="7.17" height="7.09" fill="#0c2a60"/>
<rect x="319.46" y="77.16" width="7.17" height="7.09" fill="#123877"/>
<rect x="327.26" y="77.16" width="7.17" height="7.09" fill="#164283"/>
<rect x="335.07" y="77.16" width="7.17" height="7.09" fill="#0c2a60"/>
<rect x="342.87" y="77.16" width="7.17" height="7.09" fill="#0c2a60"/>
<rect x="350.68" y="77.16" width="7.17" height="7.09" fill="#0e306b"/>
<rect x="358.48" y="77.16" width="7.17" height="7.09" fill="#0c2a60"/>
<rect x="366.29" y="77.16" width="7.17" height="7.09" fill="#0c2a60"/>
<rect x="374.09" y="77.16" width="7.17" height="7.09" fill="#0c2a60"/>
<rect x="381.90" y="77.16" width="7.17" height="7.09" fill="#0c2a60"/>
<rect x="389.70" y="77.16" width="7.17" height="7.09" fill="#0c2a60"/>
<rect x="397.51" y="77.16" width="7.17" height="7.09" fill="#0c2a60"/>
<rect x="405.31" y="77.16" width="7.17" height="7.09" fill="#0c2a60"/>
<rect x="413.12" y="77.16" width="7.17" height="7.09" fill="#0c2a60"/>
<rect x="420.93" y="77.16" width="7.17" height="7.09" fill="#0c2a60"/>
<rect x="428.73" y="77.16" width="7.17" height="7.09" fill="#0c2a60"/>
<rect x="436.54" y="77.16" width="7.17" height="7.09" fill="#0c2a60"/>
<rect x="444.34" y="77.16" width="7.17" height="7.09" fill="#0c2a60"/>
<rect x="452.14" y="77.16" width="7.17" height="7.09" fill="#0c2a60"/>
<rect x="459.95" y="77.16" width="7.17" height="7.09" fill="#0c2a60"/>
<rect x="467.75" y="77.16" width="7.17" height="7.09" fill="#0c2a60"/>
<rect x="475.56" y="77.16" width="7.17" height="7.09" fill="#0c2a60"/>
<rect x="483.36" y="77.16" width="7.17" height="7.09" fill="#0c2a60"/>
<rect x="491.17" y="77.16" width="7.17" height="7.09" fill="#0c2a60"/>
<rect x="498.97" y="77.16" width="7.17" height="7.09" fill="#0c2a60"/>
<rect x="506.78" y="77.16" width="7.17" height="7.09" fill="#0c2a60"/>
<rect x="514.59" y="77.16" width="7.17" height="7.09" fill="#0e306b"/>
<rect x="522.39" y="77.16" width="7.17" height="7.09" fill="#0c2a60"/>
<rect x="530.20" y="77.16" width="7.17" height="7.09" fill="#0c2a60"/>
<rect x="538.00" y="77.16" width="7.17" height="7.09" fill="#0c2a60"/>
<rect x="545.81" y="77.16" width="7.17" height="7.09" fill="#0c2a60"/>
<rect x="553.61" y="77.16" width="7.17" height="7.09" fill="#0c2a60"/>
<rect x="561.42" y="77.16" width="7.17" height="7.09" fill="#0c2a60"/>
<rect x="569.22" y="77.16" width="7.17" height="7.09" fill="#0c2a60"/>
<rect x="100.92" y="84.89" width="7.17" height="7.09" fill="#0c2a60"/>
<rect x="108.72" y="84.89" width="7.17" height="7.09" fill="#0c2a60"/>
<rect x="116.53" y="84.89" width="7.17" height="7.09" fill="#0c2a60"/>
<rect x="124.33" y="84.89" width="7.17" height="7.09" fill="#0c2a60"/>
<rect x="132.14" y="84.89" width="7.17" height="7.09" fill="#0c2a60"/>
<rect x="139.94" y="84.89" width="7.17" height="7.09" fill="#0c2a60"/>
<rect x="147.75" y="84.89" width="7.17" height="7.09" fill="#0c2a60"/>
<rect x="155.55" y="84.89" width="7.17" height="7.09" fill="#0c2a60"/>
<rect x="163.36" y="84.89" width="7.17" height="7.09" fill="#0c2a60"/>
<rect x="171.16" y="84.89" width="7.17" height="7.09" fill="#0c2a60"/>
<rect x="178.97" y="84.89" width="7.17" height="7.09" fill="#0c2a60"/>
<rect x="186.77" y="84.89" width="7.17" height="7.09" fill="#123877"/>
<rect x="194.58" y="84.89" width="7.17" height="7.09" fill="#0e306b"/>
<rect x="202.38" y="84.89" width="7.17" height="7.09" fill="#0e306b"/>
<rect x="210.19" y="84.89" width="7.17" height="7.09" fill="#0e306b"/>
<rect x="217.99" y="84.89" width="7.17" height="7.09" fill="#0e306b"/>
<rect x="225.80" y="84.89" width="7.17" height="7.09" fill="#0e306b"/>
<rect x="233.60" y="84.89" width="7.17" height="7.09" fill="#0e306b"/>
<rect x="241.41" y="84.89" width="7.17" height="7.09" fill="#0e306b"/>
<rect x="249.21" y="84.89" width="7.17" height="7.09" fill="#123877"/>
<rect x="257.02" y="84.89" width="7.17" height="7.09" fill="#123877"/>
<rect x="264.82" y="84.89" width="7.17" height="7.09" fill="#e0ce68"/>
<rect x="272.63" y="84.89" width="7.17" height="7.09" fill="#f3e44a"/>
<rect x="280.44" y="84.89" width="7.17" height="7.09" fill="#0c2a60"/>
<rect x="288.24" y="84.89" width="7.17" height="7.09" fill="#0c2a60"/>
<rect x="296.05" y="84.89" width="7.17" height="7.09" fill="#0c2a60"/>
<rect x="303.85" y="84.89" width="7.17" height="7.09" fill="#0c2a60"/>
<rect x="311.65" y="84.89" width="7.17" height="7.09" fill="#0c2a60"/>
<rect x="319.46" y="84.89" width="7.17" height="7.09" fill="#0e306b"/>
<rect x="327.26" y="84.89" width="7.17" height="7.09" fill="#0e306b"/>
<rect x="335.07" y="84.89" width="7.17" height="7.09" fill="#0c2a60"/>
<rect x="342.87" y="84.89" width="7.17" height="7.09" fill="#0c2a60"/>
<rect x="350.68" y="84.89" width="7.17" height="7.09" fill="#0c2a60"/>
<rect x="358.48" y="84.89" width="7.17" height="7.09" fill="#0e306b"/>
<rect x="366.29" y="84.89" width="7.17" height="7.09" fill="#0c2a60"/>
<rect x="374.09" y="84.89" width="7.17" height="7.09" fill="#0c2a60"/>
<rect x="381.90" y="84.89" width="7.17" height="7.09" fill="#0c2a60"/>
<rect x="389.70" y="84.89" width="7.17" height="7.09" fill="#123877"/>
<rect x="397.51" y="84.89" width="7.17" height="7.09" fill="#0e306b"/>
<rect x="405.31" y="84.89" width="7.17" height="7.09" fill="#0e306b"/>
<rect x="413.12" y="84.89" width="7.17" height="7.09" fill="#0c2a60"/>
<rect x="420.93" y="84.89" width="7.17" height="7.09" fill="#0c2a60"/>
<rect x="428.73" y="84.89" width="7.17" height="7.09" fill="#0c2a60"/>
<rect x="436.54" y="84.89" width="7.17" height="7.09" fill="#0c2a60"/>
<rect x="444.34" y="84.89" width="7.17" height="7.09" fill="#0c2a60"/>
<rect x="452.14" y="84.89" width="7.17" height="7.09" fill="#0e306b"/>
<rect x="459.95" y="84.89" width="7.17" height="7.09" fill="#0c2a60"/>
<rect x="467.75" y="84.89" width="7.17" height="7.09" fill="#0c2a60"/>
<rect x="475.56" y="84.89" width="7.17" height="7.09" fill="#0c2a60"/>
<rect x="483.36" y="84.89" width="7.17" height="7.09" fill="#0c2a60"/>
<rect x="491.17" y="84.89" width="7.17" height="7.09" fill="#0c2a60"/>
<rect x="498.97" y="84.89" width="7.17" height="7.09" fill="#0c2a60"/>
<rect x="506.78" y="84.89" width="7.17" height="7.09" fill="#0c2a60"/>
<rect x="514.59" y="84.89" width="7.17" height="7.09" fill="#0e306b"/>
<rect x="522.39" y="84.89" width="7.17" height="7.09" fill="#0c2a60"/>
<rect x="530.20" y="84.89" width="7.17" height="7.09" fill="#0c2a60"/>
<rect x="538.00" y="84.89" width="7.17" height="7.09" fill="#0c2a60"/>
<rect x="545.81" y="84.89" width="7.17" height="7.09" fill="#0c2a60"/>
<rect x="553.61" y="84.89" width="7.17" height="7.09" fill="#0c2a60"/>
<rect x="561.42" y="84.89" width="7.17" height="7.09" fill="#0c2a60"/>
<rect x="569.22" y="84.89" width="7.17" height="7.09" fill="#0c2a60"/>
<rect x="100.92" y="92.62" width="7.17" height="7.09" fill="#0c2a60"/>
<rect x="108.72" y="92.62" width="7.17" height="7.09" fill="#0c2a60"/>
<rect x="116.53" y="92.62" width="7.17" height="7.09" fill="#0c2a60"/>
<rect x="124.33" y="92.62" width="7.17" height="7.09" fill="#0c2a60"/>
<rect x="132.14" y="92.62" width="7.17" height="7.09" fill="#0c2a60"/>
<rect x="139.94" y="92.62" width="7.17" height="7.09" fill="#0c2a60"/>
<rect x="147.75" y="92.62" width="7.17" height="7.09" fill="#0c2a60"/>
<rect x="155.55" y="92.62" width="7.17" height="7.09" fill="#0c2a60"/>
<rect x="163.36" y="92.62" width="7.17" height="7.09" fill="#0c2a60"/>
<rect x="171.16" y="92.62" width="7.17" height="7.09" fill="#0c2a60"/>
<rect x="178.97" y="92.62" width="7.17" height="7.09" fill="#0c2a60"/>
<rect x="186.77" y="92.62" width="7.17" height="7.09" fill="#0c2a60"/>
<rect x="194.58" y="92.62" width="7.17" height="7.09" fill="#0c2a60"/>
<rect x="202.38" y="92.62" width="7.17" height="7.09" fill="#0c2a60"/>
<rect x="210.19" y="92.62" width="7.17" height="7.09" fill="#0c2a60"/>
<rect x="217.99" y="92.62" width="7.17" height="7.09" fill="#0c2a60"/>
<rect x="225.80" y="92.62" width="7.17" height="7.09" fill="#0c2a60"/>
<rect x="233.60" y="92.62" width="7.17" height="7.09" fill="#0c2a60"/>
<rect x="241.41" y="92.62" width="7.17" height="7.09" fill="#164283"/>
<rect x="249.21" y="92.62" width="7.17" height="7.09" fill="#0c2a60"/>
<rect x="257.02" y="92.62" width="7.17" height="7.09" fill="#0c2a60"/>
<rect x="264.82" y="92.62" width="7.17" height="7.09" fill="#0c2a60"/>
<rect x="272.63" y="92.62" width="7.17" height="7.09" fill="#0c2a60"/>
<rect x="280.44" y="92.62" width="7.17" height="7.09" fill="#f3e44a"/>
<rect x="288.24" y="92.62" width="7.17" height="7.09" fill="#0c2a60"/>
<rect x="296.05" y="92.62" width="7.17" height="7.09" fill="#0c2a60"/>
<rect x="303.85" y="92.62" width="7.17" height="7.09" fill="#0c2a60"/>
<rect x="311.65" y="92.62" width="7.17" height="7.09" fill="#0c2a60"/>
<rect x="319.46" y="92.62" width="7.17" height="7.09" fill="#0e306b"/>
<rect x="327.26" y="92.62" width="7.17" height="7.09" fill="#0e306b"/>
<rect x="335.07" y="92.62" width="7.17" height="7.09" fill="#0c2a60"/>
<rect x="342.87" y="92.62" width="7.17" height="7.09" fill="#0c2a60"/>
<rect x="350.68" y="92.62" width="7.17" height="7.09" fill="#0c2a60"/>
<rect x="358.48" y="92.62" width="7.17" height="7.09" fill="#0c2a60"/>
<rect x="366.29" y="92.62" width="7.17" height="7.09" fill="#0c2a60"/>
<rect x="374.09" y="92.62" width="7.17" height="7.09" fill="#0c2a60"/>
<rect x="381.90" y="92.62" width="7.17" height="7.09" fill="#0c2a60"/>
<rect x="389.70" y="92.62" width="7.17" height="7.09" fill="#0c2a60"/>
<rect x="397.51" y="92.62" width="7.17" height="7.09" fill="#0c2a60"/>
<rect x="405.31" y="92.62" width="7.17" height="7.09" fill="#0c2a60"/>
<rect x="413.12" y="92.62" width="7.17" height="7.09" fill="#0c2a60"/>
<rect x="420.93" y="92.62" width="7.17" height="7.09" fill="#0c2a60"/>
<rect x="428.73" y="92.62" width="7.17" height="7.09" fill="#0c2a60"/>
<rect x="436.54" y="92.62" width="7.17" height="7.09" fill="#0c2a60"/>
<rect x="444.34" y="92.62" width="7.17" height="7.09" fill="#0c2a60"/>
<rect x="452.14" y="92.62" width="7.17" height="7.09" fill="#0c2a60"/>
<rect x="459.95" y="92.62" width="7.17" height="7.09" fill="#0c2a60"/>
<rect x="467.75" y="92.62" width="7.17" height="7.09" fill="#0c2a60"/>
<rect x="475.56" y="92.62" width="7.17" height="7.09" fill="#0c2a60"/>
<rect x="483.36" y="92.62" width="7.17" height="7.09" fill="#0c2a60"/>
<rect x="491.17" y="92.62" width="7.17" height="7.09" fill="#0c2a60"/>
<rect x="498.97" y="92.62" width="7.17" height="7.09" fill="#0c2a60"/>
<rect x="506.78" y="92.62" width="7.17" height="7.09" fill="#0c2a60"/>
<rect x="514.59" y="92.62" width="7.17" height="7.09" fill="#0c2a60"/>
<rect x="522.39" y="92.62" width="7.17" height="7.09" fill="#0c2a60"/>
<rect x="530.20" y="92.62" width="7.17" height="7.09" fill="#0c2a60"/>
<rect x="538.00" y="92.62" width="7.17" height="7.09" fill="#0c2a60"/>
<rect x="545.81" y="92.62" width="7.17" height="7.09" fill="#0c2a60"/>
<rect x="553.61" y="92.62" width="7.17" height="7.09" fill="#0c2a60"/>
<rect x="561.42" y="92.62" width="7.17" height="7.09" fill="#0c2a60"/>
<rect x="569.22" y="92.62" width="7.17" height="7.09" fill="#0c2a60"/>
<rect x="100.92" y="100.35" width="7.17" height="7.09" fill="#0c2a60"/>
<rect x="108.72" y="100.35" width="7.17" height="7.09" fill="#0c2a60"/>
<rect x="116.53" y="100.35" width="7.17" height="7.09" fill="#0c2a60"/>
<rect x="124.33" y="100.35" width="7.17" height="7.09" fill="#0c2a60"/>
<rect x="132.14" y="100.35" width="7.17" height="7.09" fill="#0c2a60"/>
<rect x="139.94" y="100.35" width="7.17" height="7.09" fill="#0c2a60"/>
<rect x="147.75" y="100.35" width="7.17" height="7.09" fill="#0c2a60"/>
<rect x="155.55" y="100.35" width="7.17" height="7.09" fill="#0c2a60"/>
<rect x="163.36" y="100.35" width="7.17" height="7.09" fill="#0c2a60"/>
<rect x="171.16" y="100.35" width="7.17" height="7.09" fill="#0c2a60"/>
<rect x="178.97" y="100.35" width="7.17" height="7.09" fill="#0c2a60"/>
<rect x="186.77" y="100.35" width="7.17" height="7.09" fill="#0c2a60"/>
<rect x="194.58" y="100.35" width="7.17" height="7.09" fill="#0c2a60"/>
<rect x="202.38" y="100.35" width="7.17" height="7.09" fill="#0c2a60"/>
<rect x="210.19" y="100.35" width="7.17" height="7.09" fill="#0c2a60"/>
<rect x="217.99" y="100.35" width="7.17" height="7.09" fill="#0c2a60"/>
<rect x="225.80" y="100.35" width="7.17" height="7.09" fill="#0c2a60"/>
<rect x="233.60" y="100.35" width="7.17" height="7.09" fill="#0c2a60"/>
<rect x="241.41" y="100.35" width="7.17" height="7.09" fill="#0c2a60"/>
<rect x="249.21" y="100.35" width="7.17" height="7.09" fill="#0c2a60"/>
<rect x="257.02" y="100.35" width="7.17" height="7.09" fill="#0e306b"/>
<rect x="264.82" y="100.35" width="7.17" height="7.09" fill="#0c2a60"/>
<rect x="272.63" y="100.35" width="7.17" height="7.09" fill="#0c2a60"/>
<rect x="280.44" y="100.35" width="7.17" height="7.09" fill="#0c2a60"/>
<rect x="288.24" y="100.35" width="7.17" height="7.09" fill="#f3e44a"/>
<rect x="296.05" y="100.35" width="7.17" height="7.09" fill="#c2b47a"/>
<rect x="303.85" y="100.35" width="7.17" height="7.09" fill="#6e7079"/>
<rect x="311.65" y="100.35" width="7.17" height="7.09" fill="#4f5b7e"/>
<rect x="319.46" y="100.35" width="7.17" height="7.09" fill="#0e306b"/>
<rect x="327.26" y="100.35" width="7.17" height="7.09" fill="#123877"/>
<rect x="335.07" y="100.35" width="7.17" height="7.09" fill="#0c2a60"/>
<rect x="342.87" y="100.35" width="7.17" height="7.09" fill="#0c2a60"/>
<rect x="350.68" y="100.35" width="7.17" height="7.09" fill="#0c2a60"/>
<rect x="358.48" y="100.35" width="7.17" height="7.09" fill="#0e306b"/>
<rect x="366.29" y="100.35" width="7.17" height="7.09" fill="#0e306b"/>
<rect x="374.09" y="100.35" width="7.17" height="7.09" fill="#123877"/>
<rect x="381.90" y="100.35" width="7.17" height="7.09" fill="#0c2a60"/>
<rect x="389.70" y="100.35" width="7.17" height="7.09" fill="#0c2a60"/>
<rect x="397.51" y="100.35" width="7.17" height="7.09" fill="#0c2a60"/>
<rect x="405.31" y="100.35" width="7.17" height="7.09" fill="#0c2a60"/>
<rect x="413.12" y="100.35" width="7.17" height="7.09" fill="#0c2a60"/>
<rect x="420.93" y="100.35" width="7.17" height="7.09" fill="#0c2a60"/>
<rect x="428.73" y="100.35" width="7.17" height="7.09" fill="#123877"/>
<rect x="436.54" y="100.35" width="7.17" height="7.09" fill="#0c2a60"/>
<rect x="444.34" y="100.35" width="7.17" height="7.09" fill="#123877"/>
<rect x="452.14" y="100.35" width="7.17" height="7.09" fill="#123877"/>
<rect x="459.95" y="100.35" width="7.17" height="7.09" fill="#0c2a60"/>
<rect x="467.75" y="100.35" width="7.17" height="7.09" fill="#0c2a60"/>
<rect x="475.56" y="100.35" width="7.17" height="7.09" fill="#0c2a60"/>
<rect x="483.36" y="100.35" width="7.17" height="7.09" fill="#0c2a60"/>
<rect x="491.17" y="100.35" width="7.17" height="7.09" fill="#164283"/>
<rect x="498.97" y="100.35" width="7.17" height="7.09" fill="#0c2a60"/>
<rect x="506.78" y="100.35" width="7.17" height="7.09" fill="#123877"/>
<rect x="514.59" y="100.35" width="7.17" height="7.09" fill="#164283"/>
<rect x="522.39" y="100.35" width="7.17" height="7.09" fill="#4f5b7e"/>
<rect x="530.20" y="100.35" width="7.17" height="7.09" fill="#0c2a60"/>
<rect x="538.00" y="100.35" width="7.17" height="7.09" fill="#0c2a60"/>
<rect x="545.81" y="100.35" width="7.17" height="7.09" fill="#0c2a60"/>
<rect x="553.61" y="100.35" width="7.17" height="7.09" fill="#0c2a60"/>
<rect x="561.42" y="100.35" width="7.17" height="7.09" fill="#0e306b"/>
<rect x="569.22" y="100.35" width="7.17" height="7.09" fill="#0c2a60"/>
<rect x="100.92" y="108.08" width="7.17" height="7.09" fill="#0c2a60"/>
<rect x="108.72" y="108.08" width="7.17" height="7.09" fill="#0c2a60"/>
<rect x="116.53" y="108.08" width="7.17" height="7.09" fill="#0c2a60"/>
<rect x="124.33" y="108.08" width="7.17" height="7.09" fill="#0c2a60"/>
<rect x="132.14" y="108.08" width="7.17" height="7.09" fill="#0c2a60"/>
<rect x="139.94" y="108.08" width="7.17" height="7.09" fill="#0c2a60"/>
<rect x="147.75" y="108.08" width="7.17" height="7.09" fill="#0c2a60"/>
<rect x="155.55" y="108.08" width="7.17" height="7.09" fill="#0c2a60"/>
<rect x="163.36" y="108.08" width="7.17" height="7.09" fill="#0c2a60"/>
<rect x="171.16" y="108.08" width="7.17" height="7.09" fill="#0c2a60"/>
<rect x="178.97" y="108.08" width="7.17" height="7.09" fill="#0c2a60"/>
<rect x="186.77" y="108.08" width="7.17" height="7.09" fill="#0c2a60"/>
<rect x="194.58" y="108.08" width="7.17" height="7.09" fill="#0c2a60"/>
<rect x="202.38" y="108.08" width="7.17" height="7.09" fill="#0c2a60"/>
<rect x="210.19" y="108.08" width="7.17" height="7.09" fill="#0c2a60"/>
<rect x="217.99" y="108.08" width="7.17" height="7.09" fill="#0c2a60"/>
<rect x="225.80" y="108.08" width="7.17" height="7.09" fill="#0c2a60"/>
<rect x="233.60" y="108.08" width="7.17" height="7.09" fill="#0c2a60"/>
<rect x="241.41" y="108.08" width="7.17" height="7.09" fill="#0c2a60"/>
<rect x="249.21" y="108.08" width="7.17" height="7.09" fill="#0c2a60"/>
<rect x="257.02" y="108.08" width="7.17" height="7.09" fill="#0c2a60"/>
<rect x="264.82" y="108.08" width="7.17" height="7.09" fill="#0c2a60"/>
<rect x="272.63" y="108.08" width="7.17" height="7.09" fill="#0c2a60"/>
<rect x="280.44" y="108.08" width="7.17" height="7.09" fill="#0c2a60"/>
<rect x="288.24" y="108.08" width="7.17" height="7.09" fill="#164283"/>
<rect x="296.05" y="108.08" width="7.17" height="7.09" fill="#c2b47a"/>
<rect x="303.85" y="108.08" width="7.17" height="7.09" fill="#f3e44a"/>
<rect x="311.65" y="108.08" width="7.17" height="7.09" fill="#164283"/>
<rect x="319.46" y="108.08" width="7.17" height="7.09" fill="#123877"/>
<rect x="327.26" y="108.08" width="7.17" height="7.09" fill="#123877"/>
<rect x="335.07" y="108.08" width="7.17" height="7.09" fill="#0e306b"/>
<rect x="342.87" y="108.08" width="7.17" height="7.09" fill="#164283"/>
<rect x="350.68" y="108.08" width="7.17" height="7.09" fill="#0c2a60"/>
<rect x="358.48" y="108.08" width="7.17" height="7.09" fill="#0c2a60"/>
<rect x="366.29" y="108.08" width="7.17" height="7.09" fill="#123877"/>
<rect x="374.09" y="108.08" width="7.17" height="7.09" fill="#0e306b"/>
<rect x="381.90" y="108.08" width="7.17" height="7.09" fill="#0c2a60"/>
<rect x="389.70" y="108.08" width="7.17" height="7.09" fill="#0c2a60"/>
<rect x="397.51" y="108.08" width="7.17" height="7.09" fill="#0c2a60"/>
<rect x="405.31" y="108.08" width="7.17" height="7.09" fill="#0c2a60"/>
<rect x="413.12" y="108.08" width="7.17" height="7.09" fill="#0c2a60"/>
<rect x="420.93" y="108.08" width="7.17" height="7.09" fill="#0c2a60"/>
<rect x="428.73" y="108.08" width="7.17" height="7.09" fill="#123877"/>
<rect x="436.54" y="108.08" width="7.17" height="7.09" fill="#123877"/>
<rect x="444.34" y="108.08" width="7.17" height="7.09" fill="#123877"/>
<rect x="452.14" y="108.08" width="7.17" height="7.09" fill="#0e306b"/>
<rect x="459.95" y="108.08" width="7.17" height="7.09" fill="#0c2a60"/>
<rect x="467.75" y="108.08" width="7.17" height="7.09" fill="#0c2a60"/>
<rect x="475.56" y="108.08" width="7.17" height="7.09" fill="#0c2a60"/>
<rect x="483.36" y="108.08" width="7.17" height="7.09" fill="#0c2a60"/>
<rect x="491.17" y="108.08" width="7.17" height="7.09" fill="#0c2a60"/>
<rect x="498.97" y="108.08" width="7.17" height="7.09" fill="#0c2a60"/>
<rect x="506.78" y="108.08" width="7.17" height="7.09" fill="#0e306b"/>
<rect x="514.59" y="108.08" width="7.17" height="7.09" fill="#123877"/>
<rect x="522.39" y="108.08" width="7.17" height="7.09" fill="#0e306b"/>
<rect x="530.20" y="108.08" width="7.17" height="7.09" fill="#0c2a60"/>
<rect x="538.00" y="108.08" width="7.17" height="7.09" fill="#0c2a60"/>
<rect x="545.81" y="108.08" width="7.17" height="7.09" fill="#0c2a60"/>
<rect x="553.61" y="108.08" width="7.17" height="7.09" fill="#0c2a60"/>
<rect x="561.42" y="108.08" width="7.17" height="7.09" fill="#0c2a60"/>
<rect x="569.22" y="108.08" width="7.17" height="7.09" fill="#0c2a60"/>
<rect x="100.92" y="115.81" width="7.17" height="7.09" fill="#0c2a60"/>
<rect x="108.72" y="115.81" width="7.17" height="7.09" fill="#0c2a60"/>
<rect x="116.53" y="115.81" width="7.17" height="7.09" fill="#0c2a60"/>
<rect x="124.33" y="115.81" width="7.17" height="7.09" fill="#0c2a60"/>
<rect x="132.14" y="115.81" width="7.17" height="7.09" fill="#0c2a60"/>
<rect x="139.94" y="115.81" width="7.17" height="7.09" fill="#0c2a60"/>
<rect x="147.75" y="115.81" width="7.17" height="7.09" fill="#0c2a60"/>
<rect x="155.55" y="115.81" width="7.17" height="7.09" fill="#0c2a60"/>
<rect x="163.36" y="115.81" width="7.17" height="7.09" fill="#0c2a60"/>
<rect x="171.16" y="115.81" width="7.17" height="7.09" fill="#0c2a60"/>
<rect x="178.97" y="115.81" width="7.17" height="7.09" fill="#0c2a60"/>
<rect x="186.77" y="115.81" width="7.17" height="7.09" fill="#0c2a60"/>
<rect x="194.58" y="115.81" width="7.17" height="7.09" fill="#0c2a60"/>
<rect x="202.38" y="115.81" width="7.17" height="7.09" fill="#0c2a60"/>
<rect x="210.19" y="115.81" width="7.17" height="7.09" fill="#0c2a60"/>
<rect x="217.99" y="115.81" width="7.17" height="7.09" fill="#0c2a60"/>
<rect x="225.80" y="115.81" width="7.17" height="7.09" fill="#0c2a60"/>
<rect x="233.60" y="115.81" width="7.17" height="7.09" fill="#0c2a60"/>
<rect x="241.41" y="115.81" width="7.17" height="7.09" fill="#0c2a60"/>
<rect x="249.21" y="115.81" width="7.17" height="7.09" fill="#0c2a60"/>
<rect x="257.02" y="115.81" width="7.17" height="7.09" fill="#0c2a60"/>
<rect x="264.82" y="115.81" width="7.17" height="7.09" fill="#0c2a60"/>
<rect x="272.63" y="115.81" width="7.17" height="7.09" fill="#0c2a60"/>
<rect x="280.44" y="115.81" width="7.17" height="7.09" fill="#0c2a60"/>
<rect x="288.24" y="115.81" width="7.17" height="7.09" fill="#164283"/>
<rect x="296.05" y="115.81" width="7.17" height="7.09" fill="#164283"/>
<rect x="303.85" y="115.81" width="7.17" height="7.09" fill="#123877"/>
<rect x="311.65" y="115.81" width="7.17" height="7.09" fill="#f3e44a"/>
<rect x="319.46" y="115.81" width="7.17" height="7.09" fill="#e0ce68"/>
<rect x="327.26" y="115.81" width="7.17" height="7.09" fill="#e0ce68"/>
<rect x="335.07" y="115.81" width="7.17" height="7.09" fill="#0c2a60"/>
<rect x="342.87" y="115.81" width="7.17" height="7.09" fill="#0e306b"/>
<rect x="350.68" y="115.81" width="7.17" height="7.09" fill="#0c2a60"/>
<rect x="358.48" y="115.81" width="7.17" height="7.09" fill="#0c2a60"/>
<rect x="366.29" y="115.81" width="7.17" height="7.09" fill="#0c2a60"/>
<rect x="374.09" y="115.81" width="7.17" height="7.09" fill="#0c2a60"/>
<rect x="381.90" y="115.81" width="7.17" height="7.09" fill="#0c2a60"/>
<rect x="389.70" y="115.81" width="7.17" height="7.09" fill="#0c2a60"/>
<rect x="397.51" y="115.81" width="7.17" height="7.09" fill="#0c2a60"/>
<rect x="405.31" y="115.81" width="7.17" height="7.09" fill="#0c2a60"/>
<rect x="413.12" y="115.81" width="7.17" height="7.09" fill="#0c2a60"/>
<rect x="420.93" y="115.81" width="7.17" height="7.09" fill="#0c2a60"/>
<rect x="428.73" y="115.81" width="7.17" height="7.09" fill="#0e306b"/>
<rect x="436.54" y="115.81" width="7.17" height="7.09" fill="#0c2a60"/>
<rect x="444.34" y="115.81" width="7.17" height="7.09" fill="#0e306b"/>
<rect x="452.14" y="115.81" width="7.17" height="7.09" fill="#0c2a60"/>
<rect x="459.95" y="115.81" width="7.17" height="7.09" fill="#0c2a60"/>
<rect x="467.75" y="115.81" width="7.17" height="7.09" fill="#0c2a60"/>
<rect x="475.56" y="115.81" width="7.17" height="7.09" fill="#0c2a60"/>
<rect x="483.36" y="115.81" width="7.17" height="7.09" fill="#0c2a60"/>
<rect x="491.17" y="115.81" width="7.17" height="7.09" fill="#0c2a60"/>
<rect x="498.97" y="115.81" width="7.17" height="7.09" fill="#0c2a60"/>
<rect x="506.78" y="115.81" width="7.17" height="7.09" fill="#0e306b"/>
<rect x="514.59" y="115.81" width="7.17" height="7.09" fill="#0e306b"/>
<rect x="522.39" y="115.81" width="7.17" height="7.09" fill="#0c2a60"/>
<rect x="530.20" y="115.81" width="7.17" height="7.09" fill="#0c2a60"/>
<rect x="538.00" y="115.81" width="7.17" height="7.09" fill="#0c2a60"/>
<rect x="545.81" y="115.81" width="7.17" height="7.09" fill="#0c2a60"/>
<rect x="553.61" y="115.81" width="7.17" height="7.09" fill="#0c2a60"/>
<rect x="561.42" y="115.81" width="7.17" height="7.09" fill="#0c2a60"/>
<rect x="569.22" y="115.81" width="7.17" height="7.09" fill="#0c2a60"/>
<rect x="100.92" y="123.54" width="7.17" height="7.09" fill="#0c2a60"/>
<rect x="108.72" y="123.54" width="7.17" height="7.09" fill="#0c2a60"/>
<rect x="116.53" y="123.54" width="7.17" height="7.09" fill="#0c2a60"/>
<rect x="124.33" y="123.54" width="7.17" height="7.09" fill="#0c2a60"/>
<rect x="132.14" y="123.54" width="7.17" height="7.09" fill="#0c2a60"/>
<rect x="139.94" y="123.54" width="7.17" height="7.09" fill="#0c2a60"/>
<rect x="147.75" y="123.54" width="7.17" height="7.09" fill="#0c2a60"/>
<rect x="155.55" y="123.54" width="7.17" height="7.09" fill="#0c2a60"/>
<rect x="163.36" y="123.54" width="7.17" height="7.09" fill="#0c2a60"/>
<rect x="171.16" y="123.54" width="7.17" height="7.09" fill="#0c2a60"/>
<rect x="178.97" y="123.54" width="7.17" height="7.09" fill="#0c2a60"/>
<rect x="186.77" y="123.54" width="7.17" height="7.09" fill="#0c2a60"/>
<rect x="194.58" y="123.54" width="7.17" height="7.09" fill="#0c2a60"/>
<rect x="202.38" y="123.54" width="7.17" height="7.09" fill="#0c2a60"/>
<rect x="210.19" y="123.54" width="7.17" height="7.09" fill="#0c2a60"/>
<rect x="217.99" y="123.54" width="7.17" height="7.09" fill="#0c2a60"/>
<rect x="225.80" y="123.54" width="7.17" height="7.09" fill="#0c2a60"/>
<rect x="233.60" y="123.54" width="7.17" height="7.09" fill="#0c2a60"/>
<rect x="241.41" y="123.54" width="7.17" height="7.09" fill="#0c2a60"/>
<rect x="249.21" y="123.54" width="7.17" height="7.09" fill="#0c2a60"/>
<rect x="257.02" y="123.54" width="7.17" height="7.09" fill="#0c2a60"/>
<rect x="264.82" y="123.54" width="7.17" height="7.09" fill="#0c2a60"/>
<rect x="272.63" y="123.54" width="7.17" height="7.09" fill="#0c2a60"/>
<rect x="280.44" y="123.54" width="7.17" height="7.09" fill="#0c2a60"/>
<rect x="288.24" y="123.54" width="7.17" height="7.09" fill="#123877"/>
<rect x="296.05" y="123.54" width="7.17" height="7.09" fill="#164283"/>
<rect x="303.85" y="123.54" width="7.17" height="7.09" fill="#6e7079"/>
<rect x="311.65" y="123.54" width="7.17" height="7.09" fill="#164283"/>
<rect x="319.46" y="123.54" width="7.17" height="7.09" fill="#123877"/>
<rect x="327.26" y="123.54" width="7.17" height="7.09" fill="#123877"/>
<rect x="335.07" y="123.54" width="7.17" height="7.09" fill="#f3e44a"/>
<rect x="342.87" y="123.54" width="7.17" height="7.09" fill="#c2b47a"/>
<rect x="350.68" y="123.54" width="7.17" height="7.09" fill="#0c2a60"/>
<rect x="358.48" y="123.54" width="7.17" height="7.09" fill="#123877"/>
<rect x="366.29" y="123.54" width="7.17" height="7.09" fill="#164283"/>
<rect x="374.09" y="123.54" width="7.17" height="7.09" fill="#164283"/>
<rect x="381.90" y="123.54" width="7.17" height="7.09" fill="#0e306b"/>
<rect x="389.70" y="123.54" width="7.17" height="7.09" fill="#0e306b"/>
<rect x="397.51" y="123.54" width="7.17" height="7.09" fill="#123877"/>
<rect x="405.31" y="123.54" width="7.17" height="7.09" fill="#0e306b"/>
<rect x="413.12" y="123.54" width="7.17" height="7.09" fill="#0e306b"/>
<rect x="420.93" y="123.54" width="7.17" height="7.09" fill="#164283"/>
<rect x="428.73" y="123.54" width="7.17" height="7.09" fill="#0e306b"/>
<rect x="436.54" y="123.54" width="7.17" height="7.09" fill="#0c2a60"/>
<rect x="444.34" y="123.54" width="7.17" height="7.09" fill="#164283"/>
<rect x="452.14" y="123.54" width="7.17" height="7.09" fill="#164283"/>
<rect x="459.95" y="123.54" width="7.17" height="7.09" fill="#0c2a60"/>
<rect x="467.75" y="123.54" width="7.17" height="7.09" fill="#0c2a60"/>
<rect x="475.56" y="123.54" width="7.17" height="7.09" fill="#0c2a60"/>
<rect x="483.36" y="123.54" width="7.17" height="7.09" fill="#0c2a60"/>
<rect x="491.17" y="123.54" width="7.17" height="7.09" fill="#0c2a60"/>
<rect x="498.97" y="123.54" width="7.17" height="7.09" fill="#0c2a60"/>
<rect x="506.78" y="123.54" width="7.17" height="7.09" fill="#0e306b"/>
<rect x="514.59" y="123.54" width="7.17" height="7.09" fill="#123877"/>
<rect x="522.39" y="123.54" width="7.17" height="7.09" fill="#0e306b"/>
<rect x="530.20" y="123.54" width="7.17" height="7.09" fill="#0c2a60"/>
<rect x="538.00" y="123.54" width="7.17" height="7.09" fill="#0c2a60"/>
<rect x="545.81" y="123.54" width="7.17" height="7.09" fill="#0c2a60"/>
<rect x="553.61" y="123.54" width="7.17" height="7.09" fill="#0c2a60"/>
<rect x="561.42" y="123.54" width="7.17" height="7.09" fill="#0c2a60"/>
<rect x="569.22" y="123.54" width="7.17" height="7.09" fill="#0c2a60"/>
<rect x="100.92" y="131.27" width="7.17" height="7.09" fill="#0c2a60"/>
<rect x="108.72" y="131.27" width="7.17" height="7.09" fill="#0c2a60"/>
<rect x="116.53" y="131.27" width="7.17" height="7.09" fill="#0c2a60"/>
<rect x="124.33" y="131.27" width="7.17" height="7.09" fill="#0c2a60"/>
<rect x="132.14" y="131.27" width="7.17" height="7.09" fill="#0c2a60"/>
<rect x="139.94" y="131.27" width="7.17" height="7.09" fill="#0c2a60"/>
<rect x="147.75" y="131.27" width="7.17" height="7.09" fill="#0c2a60"/>
<rect x="155.55" y="131.27" width="7.17" height="7.09" fill="#0c2a60"/>
<rect x="163.36" y="131.27" width="7.17" height="7.09" fill="#0c2a60"/>
<rect x="171.16" y="131.27" width="7.17" height="7.09" fill="#0c2a60"/>
<rect x="178.97" y="131.27" width="7.17" height="7.09" fill="#0c2a60"/>
<rect x="186.77" y="131.27" width="7.17" height="7.09" fill="#0c2a60"/>
<rect x="194.58" y="131.27" width="7.17" height="7.09" fill="#0c2a60"/>
<rect x="202.38" y="131.27" width="7.17" height="7.09" fill="#0c2a60"/>
<rect x="210.19" y="131.27" width="7.17" height="7.09" fill="#0c2a60"/>
<rect x="217.99" y="131.27" width="7.17" height="7.09" fill="#0c2a60"/>
<rect x="225.80" y="131.27" width="7.17" height="7.09" fill="#0c2a60"/>
<rect x="233.60" y="131.27" width="7.17" height="7.09" fill="#0c2a60"/>
<rect x="241.41" y="131.27" width="7.17" height="7.09" fill="#0c2a60"/>
<rect x="249.21" y="131.27" width="7.17" height="7.09" fill="#0c2a60"/>
<rect x="257.02" y="131.27" width="7.17" height="7.09" fill="#0c2a60"/>
<rect x="264.82" y="131.27" width="7.17" height="7.09" fill="#0c2a60"/>
<rect x="272.63" y="131.27" width="7.17" height="7.09" fill="#0c2a60"/>
<rect x="280.44" y="131.27" width="7.17" height="7.09" fill="#0c2a60"/>
<rect x="288.24" y="131.27" width="7.17" height="7.09" fill="#0c2a60"/>
<rect x="296.05" y="131.27" width="7.17" height="7.09" fill="#0c2a60"/>
<rect x="303.85" y="131.27" width="7.17" height="7.09" fill="#0c2a60"/>
<rect x="311.65" y="131.27" width="7.17" height="7.09" fill="#0c2a60"/>
<rect x="319.46" y="131.27" width="7.17" height="7.09" fill="#0c2a60"/>
<rect x="327.26" y="131.27" width="7.17" height="7.09" fill="#0e306b"/>
<rect x="335.07" y="131.27" width="7.17" height="7.09" fill="#0c2a60"/>
<rect x="342.87" y="131.27" width="7.17" height="7.09" fill="#0c2a60"/>
<rect x="350.68" y="131.27" width="7.17" height="7.09" fill="#f3e44a"/>
<rect x="358.48" y="131.27" width="7.17" height="7.09" fill="#0c2a60"/>
<rect x="366.29" y="131.27" width="7.17" height="7.09" fill="#0c2a60"/>
<rect x="374.09" y="131.27" width="7.17" height="7.09" fill="#0c2a60"/>
<rect x="381.90" y="131.27" width="7.17" height="7.09" fill="#0c2a60"/>
<rect x="389.70" y="131.27" width="7.17" height="7.09" fill="#0c2a60"/>
<rect x="397.51" y="131.27" width="7.17" height="7.09" fill="#0c2a60"/>
<rect x="405.31" y="131.27" width="7.17" height="7.09" fill="#0c2a60"/>
<rect x="413.12" y="131.27" width="7.17" height="7.09" fill="#0c2a60"/>
<rect x="420.93" y="131.27" width="7.17" height="7.09" fill="#0c2a60"/>
<rect x="428.73" y="131.27" width="7.17" height="7.09" fill="#0c2a60"/>
<rect x="436.54" y="131.27" width="7.17" height="7.09" fill="#0c2a60"/>
<rect x="444.34" y="131.27" width="7.17" height="7.09" fill="#0c2a60"/>
<rect x="452.14" y="131.27" width="7.17" height="7.09" fill="#0c2a60"/>
<rect x="459.95" y="131.27" width="7.17" height="7.09" fill="#0c2a60"/>
<rect x="467.75" y="131.27" width="7.17" height="7.09" fill="#0c2a60"/>
<rect x="475.56" y="131.27" width="7.17" height="7.09" fill="#0c2a60"/>
<rect x="483.36" y="131.27" width="7.17" height="7.09" fill="#0c2a60"/>
<rect x="491.17" y="131.27" width="7.17" height="7.09" fill="#0c2a60"/>
<rect x="498.97" y="131.27" width="7.17" height="7.09" fill="#0c2a60"/>
<rect x="506.78" y="131.27" width="7.17" height="7.09" fill="#0e306b"/>
<rect x="514.59" y="131.27" width="7.17" height="7.09" fill="#0e306b"/>
<rect x="522.39" y="131.27" width="7.17" height="7.09" fill="#0c2a60"/>
<rect x="530.20" y="131.27" width="7.17" height="7.09" fill="#0c2a60"/>
<rect x="538.00" y="131.27" width="7.17" height="7.09" fill="#0c2a60"/>
<rect x="545.81" y="131.27" width="7.17" height="7.09" fill="#0c2a60"/>
<rect x="553.61" y="131.27" width="7.17" height="7.09" fill="#0c2a60"/>
<rect x="561.42" y="131.27" width="7.17" height="7.09" fill="#0c2a60"/>
<rect x="569.22" y="131.27" width="7.17" height="7.09" fill="#0c2a60"/>
<rect x="100.92" y="139.00" width="7.17" height="7.09" fill="#0c2a60"/>
<rect x="108.72" y="139.00" width="7.17" height="7.09" fill="#0c2a60"/>
<rect x="116.53" y="139.00" width="7.17" height="7.09" fill="#0c2a60"/>
<rect x="124.33" y="139.00" width="7.17" height="7.09" fill="#0c2a60"/>
<rect x="132.14" y="139.00" width="7.17" height="7.09" fill="#0c2a60"/>
<rect x="139.94" y="139.00" width="7.17" height="7.09" fill="#0c2a60"/>
<rect x="147.75" y="139.00" width="7.17" height="7.09" fill="#0c2a60"/>
<rect x="155.55" y="139.00" width="7.17" height="7.09" fill="#0c2a60"/>
<rect x="163.36" y="139.00" width="7.17" height="7.09" fill="#0c2a60"/>
<rect x="171.16" y="139.00" width="7.17" height="7.09" fill="#0c2a60"/>
<rect x="178.97" y="139.00" width="7.17" height="7.09" fill="#0c2a60"/>
<rect x="186.77" y="139.00" width="7.17" height="7.09" fill="#0c2a60"/>
<rect x="194.58" y="139.00" width="7.17" height="7.09" fill="#0c2a60"/>
<rect x="202.38" y="139.00" width="7.17" height="7.09" fill="#0c2a60"/>
<rect x="210.19" y="139.00" width="7.17" height="7.09" fill="#0c2a60"/>
<rect x="217.99" y="139.00" width="7.17" height="7.09" fill="#0c2a60"/>
<rect x="225.80" y="139.00" width="7.17" height="7.09" fill="#0c2a60"/>
<rect x="233.60" y="139.00" width="7.17" height="7.09" fill="#0c2a60"/>
<rect x="241.41" y="139.00" width="7.17" height="7.09" fill="#0c2a60"/>
<rect x="249.21" y="139.00" width="7.17" height="7.09" fill="#0c2a60"/>
<rect x="257.02" y="139.00" width="7.17" height="7.09" fill="#0c2a60"/>
<rect x="264.82" y="139.00" width="7.17" height="7.09" fill="#0c2a60"/>
<rect x="272.63" y="139.00" width="7.17" height="7.09" fill="#0c2a60"/>
<rect x="280.44" y="139.00" width="7.17" height="7.09" fill="#0c2a60"/>
<rect x="288.24" y="139.00" width="7.17" height="7.09" fill="#0c2a60"/>
<rect x="296.05" y="139.00" width="7.17" height="7.09" fill="#0c2a60"/>
<rect x="303.85" y="139.00" width="7.17" height="7.09" fill="#0c2a60"/>
<rect x="311.65" y="139.00" width="7.17" height="7.09" fill="#0c2a60"/>
<rect x="319.46" y="139.00" width="7.17" height="7.09" fill="#0c2a60"/>
<rect x="327.26" y="139.00" width="7.17" height="7.09" fill="#0c2a60"/>
<rect x="335.07" y="139.00" width="7.17" height="7.09" fill="#164283"/>
<rect x="342.87" y="139.00" width="7.17" height="7.09" fill="#0c2a60"/>
<rect x="350.68" y="139.00" width="7.17" height="7.09" fill="#0c2a60"/>
<rect x="358.48" y="139.00" width="7.17" height="7.09" fill="#c2b47a"/>
<rect x="366.29" y="139.00" width="7.17" height="7.09" fill="#f3e44a"/>
<rect x="374.09" y="139.00" width="7.17" height="7.09" fill="#c2b47a"/>
<rect x="381.90" y="139.00" width="7.17" height="7.09" fill="#164283"/>
<rect x="389.70" y="139.00" width="7.17" height="7.09" fill="#164283"/>
<rect x="397.51" y="139.00" width="7.17" height="7.09" fill="#4f5b7e"/>
<rect x="405.31" y="139.00" width="7.17" height="7.09" fill="#284d80"/>
<rect x="413.12" y="139.00" width="7.17" height="7.09" fill="#284d80"/>
<rect x="420.93" y="139.00" width="7.17" height="7.09" fill="#4f5b7e"/>
<rect x="428.73" y="139.00" width="7.17" height="7.09" fill="#123877"/>
<rect x="436.54" y="139.00" width="7.17" height="7.09" fill="#0e306b"/>
<rect x="444.34" y="139.00" width="7.17" height="7.09" fill="#6e7079"/>
<rect x="452.14" y="139.00" width="7.17" height="7.09" fill="#4f5b7e"/>
<rect x="459.95" y="139.00" width="7.17" height="7.09" fill="#0c2a60"/>
<rect x="467.75" y="139.00" width="7.17" height="7.09" fill="#0c2a60"/>
<rect x="475.56" y="139.00" width="7.17" height="7.09" fill="#0c2a60"/>
<rect x="483.36" y="139.00" width="7.17" height="7.09" fill="#0c2a60"/>
<rect x="491.17" y="139.00" width="7.17" height="7.09" fill="#0c2a60"/>
<rect x="498.97" y="139.00" width="7.17" height="7.09" fill="#0c2a60"/>
<rect x="506.78" y="139.00" width="7.17" height="7.09" fill="#0e306b"/>
<rect x="514.59" y="139.00" width="7.17" height="7.09" fill="#0e306b"/>
<rect x="522.39" y="139.00" width="7.17" height="7.09" fill="#0e306b"/>
<rect x="530.20" y="139.00" width="7.17" height="7.09" fill="#0c2a60"/>
<rect x="538.00" y="139.00" width="7.17" height="7.09" fill="#0c2a60"/>
<rect x="545.81" y="139.00" width="7.17" height="7.09" fill="#0c2a60"/>
<rect x="553.61" y="139.00" width="7.17" height="7.09" fill="#0e306b"/>
<rect x="561.42" y="139.00" width="7.17" height="7.09" fill="#0c2a60"/>
<rect x="569.22" y="139.00" width="7.17" height="7.09" fill="#0c2a60"/>
<rect x="100.92" y="146.73" width="7.17" height="7.09" fill="#0c2a60"/>
<rect x="108.72" y="146.73" width="7.17" height="7.09" fill="#0c2a60"/>
<rect x="116.53" y="146.73" width="7.17" height="7.09" fill="#0c2a60"/>
<rect x="124.33" y="146.73" width="7.17" height="7.09" fill="#0c2a60"/>
<rect x="132.14" y="146.73" width="7.17" height="7.09" fill="#0c2a60"/>
<rect x="139.94" y="146.73" width="7.17" height="7.09" fill="#0c2a60"/>
<rect x="147.75" y="146.73" width="7.17" height="7.09" fill="#0c2a60"/>
<rect x="155.55" y="146.73" width="7.17" height="7.09" fill="#0c2a60"/>
<rect x="163.36" y="146.73" width="7.17" height="7.09" fill="#0c2a60"/>
<rect x="171.16" y="146.73" width="7.17" height="7.09" fill="#0c2a60"/>
<rect x="178.97" y="146.73" width="7.17" height="7.09" fill="#0c2a60"/>
<rect x="186.77" y="146.73" width="7.17" height="7.09" fill="#0c2a60"/>
<rect x="194.58" y="146.73" width="7.17" height="7.09" fill="#0c2a60"/>
<rect x="202.38" y="146.73" width="7.17" height="7.09" fill="#0c2a60"/>
<rect x="210.19" y="146.73" width="7.17" height="7.09" fill="#0c2a60"/>
<rect x="217.99" y="146.73" width="7.17" height="7.09" fill="#0c2a60"/>
<rect x="225.80" y="146.73" width="7.17" height="7.09" fill="#0c2a60"/>
<rect x="233.60" y="146.73" width="7.17" height="7.09" fill="#0c2a60"/>
<rect x="241.41" y="146.73" width="7.17" height="7.09" fill="#0c2a60"/>
<rect x="249.21" y="146.73" width="7.17" height="7.09" fill="#0c2a60"/>
<rect x="257.02" y="146.73" width="7.17" height="7.09" fill="#0c2a60"/>
<rect x="264.82" y="146.73" width="7.17" height="7.09" fill="#0c2a60"/>
<rect x="272.63" y="146.73" width="7.17" height="7.09" fill="#0c2a60"/>
<rect x="280.44" y="146.73" width="7.17" height="7.09" fill="#0c2a60"/>
<rect x="288.24" y="146.73" width="7.17" height="7.09" fill="#0c2a60"/>
<rect x="296.05" y="146.73" width="7.17" height="7.09" fill="#0c2a60"/>
<rect x="303.85" y="146.73" width="7.17" height="7.09" fill="#0c2a60"/>
<rect x="311.65" y="146.73" width="7.17" height="7.09" fill="#0c2a60"/>
<rect x="319.46" y="146.73" width="7.17" height="7.09" fill="#0c2a60"/>
<rect x="327.26" y="146.73" width="7.17" height="7.09" fill="#0c2a60"/>
<rect x="335.07" y="146.73" width="7.17" height="7.09" fill="#164283"/>
<rect x="342.87" y="146.73" width="7.17" height="7.09" fill="#0c2a60"/>
<rect x="350.68" y="146.73" width="7.17" height="7.09" fill="#0c2a60"/>
<rect x="358.48" y="146.73" width="7.17" height="7.09" fill="#c2b47a"/>
<rect x="366.29" y="146.73" width="7.17" height="7.09" fill="#f3e44a"/>
<rect x="374.09" y="146.73" width="7.17" height="7.09" fill="#e0ce68"/>
<rect x="381.90" y="146.73" width="7.17" height="7.09" fill="#164283"/>
<rect x="389.70" y="146.73" width="7.17" height="7.09" fill="#164283"/>
<rect x="397.51" y="146.73" width="7.17" height="7.09" fill="#284d80"/>
<rect x="405.31" y="146.73" width="7.17" height="7.09" fill="#164283"/>
<rect x="413.12" y="146.73" width="7.17" height="7.09" fill="#284d80"/>
<rect x="420.93" y="146.73" width="7.17" height="7.09" fill="#4f5b7e"/>
<rect x="428.73" y="146.73" width="7.17" height="7.09" fill="#164283"/>
<rect x="436.54" y="146.73" width="7.17" height="7.09" fill="#123877"/>
<rect x="444.34" y="146.73" width="7.17" height="7.09" fill="#4f5b7e"/>
<rect x="452.14" y="146.73" width="7.17" height="7.09" fill="#4f5b7e"/>
<rect x="459.95" y="146.73" width="7.17" height="7.09" fill="#164283"/>
<rect x="467.75" y="146.73" width="7.17" height="7.09" fill="#164283"/>
<rect x="475.56" y="146.73" width="7.17" height="7.09" fill="#164283"/>
<rect x="483.36" y="146.73" width="7.17" height="7.09" fill="#164283"/>
<rect x="491.17" y="146.73" width="7.17" height="7.09" fill="#164283"/>
<rect x="498.97" y="146.73" width="7.17" height="7.09" fill="#164283"/>
<rect x="506.78" y="146.73" width="7.17" height="7.09" fill="#164283"/>
<rect x="514.59" y="146.73" width="7.17" height="7.09" fill="#164283"/>
<rect x="522.39" y="146.73" width="7.17" height="7.09" fill="#164283"/>
<rect x="530.20" y="146.73" width="7.17" height="7.09" fill="#164283"/>
<rect x="538.00" y="146.73" width="7.17" height="7.09" fill="#0e306b"/>
<rect x="545.81" y="146.73" width="7.17" height="7.09" fill="#123877"/>
<rect x="553.61" y="146.73" width="7.17" height="7.09" fill="#123877"/>
<rect x="561.42" y="146.73" width="7.17" height="7.09" fill="#0e306b"/>
<rect x="569.22" y="146.73" width="7.17" height="7.09" fill="#0e306b"/>
<rect x="100.92" y="154.46" width="7.17" height="7.09" fill="#0c2a60"/>
<rect x="108.72" y="154.46" width="7.17" height="7.09" fill="#0c2a60"/>
<rect x="116.53" y="154.46" width="7.17" height="7.09" fill="#0c2a60"/>
<rect x="124.33" y="154.46" width="7.17" height="7.09" fill="#0c2a60"/>
<rect x="132.14" y="154.46" width="7.17" height="7.09" fill="#0c2a60"/>
<rect x="139.94" y="154.46" width="7.17" height="7.09" fill="#0c2a60"/>
<rect x="147.75" y="154.46" width="7.17" height="7.09" fill="#0c2a60"/>
<rect x="155.55" y="154.46" width="7.17" height="7.09" fill="#0c2a60"/>
<rect x="163.36" y="154.46" width="7.17" height="7.09" fill="#0c2a60"/>
<rect x="171.16" y="154.46" width="7.17" height="7.09" fill="#0c2a60"/>
<rect x="178.97" y="154.46" width="7.17" height="7.09" fill="#0c2a60"/>
<rect x="186.77" y="154.46" width="7.17" height="7.09" fill="#0c2a60"/>
<rect x="194.58" y="154.46" width="7.17" height="7.09" fill="#0c2a60"/>
<rect x="202.38" y="154.46" width="7.17" height="7.09" fill="#0c2a60"/>
<rect x="210.19" y="154.46" width="7.17" height="7.09" fill="#0c2a60"/>
<rect x="217.99" y="154.46" width="7.17" height="7.09" fill="#0c2a60"/>
<rect x="225.80" y="154.46" width="7.17" height="7.09" fill="#0c2a60"/>
<rect x="233.60" y="154.46" width="7.17" height="7.09" fill="#0c2a60"/>
<rect x="241.41" y="154.46" width="7.17" height="7.09" fill="#0c2a60"/>
<rect x="249.21" y="154.46" width="7.17" height="7.09" fill="#0c2a60"/>
<rect x="257.02" y="154.46" width="7.17" height="7.09" fill="#0c2a60"/>
<rect x="264.82" y="154.46" width="7.17" height="7.09" fill="#0c2a60"/>
<rect x="272.63" y="154.46" width="7.17" height="7.09" fill="#0c2a60"/>
<rect x="280.44" y="154.46" width="7.17" height="7.09" fill="#0c2a60"/>
<rect x="288.24" y="154.46" width="7.17" height="7.09" fill="#0c2a60"/>
<rect x="296.05" y="154.46" width="7.17" height="7.09" fill="#0c2a60"/>
<rect x="303.85" y="154.46" width="7.17" height="7.09" fill="#0c2a60"/>
<rect x="311.65" y="154.46" width="7.17" height="7.09" fill="#0c2a60"/>
<rect x="319.46" y="154.46" width="7.17" height="7.09" fill="#0c2a60"/>
<rect x="327.26" y="154.46" width="7.17" height="7.09" fill="#0e306b"/>
<rect x="335.07" y="154.46" width="7.17" height="7.09" fill="#164283"/>
<rect x="342.87" y="154.46" width="7.17" height="7.09" fill="#0c2a60"/>
<rect x="350.68" y="154.46" width="7.17" height="7.09" fill="#0c2a60"/>
<rect x="358.48" y="154.46" width="7.17" height="7.09" fill="#6e7079"/>
<rect x="366.29" y="154.46" width="7.17" height="7.09" fill="#c2b47a"/>
<rect x="374.09" y="154.46" width="7.17" height="7.09" fill="#f3e44a"/>
<rect x="381.90" y="154.46" width="7.17" height="7.09" fill="#164283"/>
<rect x="389.70" y="154.46" width="7.17" height="7.09" fill="#164283"/>
<rect x="397.51" y="154.46" width="7.17" height="7.09" fill="#164283"/>
<rect x="405.31" y="154.46" width="7.17" height="7.09" fill="#164283"/>
<rect x="413.12" y="154.46" width="7.17" height="7.09" fill="#164283"/>
<rect x="420.93" y="154.46" width="7.17" height="7.09" fill="#164283"/>
<rect x="428.73" y="154.46" width="7.17" height="7.09" fill="#164283"/>
<rect x="436.54" y="154.46" width="7.17" height="7.09" fill="#123877"/>
<rect x="444.34" y="154.46" width="7.17" height="7.09" fill="#4f5b7e"/>
<rect x="452.14" y="154.46" width="7.17" height="7.09" fill="#284d80"/>
<rect x="459.95" y="154.46" width="7.17" height="7.09" fill="#164283"/>
<rect x="467.75" y="154.46" width="7.17" height="7.09" fill="#164283"/>
<rect x="475.56" y="154.46" width="7.17" height="7.09" fill="#164283"/>
<rect x="483.36" y="154.46" width="7.17" height="7.09" fill="#164283"/>
<rect x="491.17" y="154.46" width="7.17" height="7.09" fill="#164283"/>
<rect x="498.97" y="154.46" width="7.17" height="7.09" fill="#164283"/>
<rect x="506.78" y="154.46" width="7.17" height="7.09" fill="#164283"/>
<rect x="514.59" y="154.46" width="7.17" height="7.09" fill="#164283"/>
<rect x="522.39" y="154.46" width="7.17" height="7.09" fill="#164283"/>
<rect x="530.20" y="154.46" width="7.17" height="7.09" fill="#164283"/>
<rect x="538.00" y="154.46" width="7.17" height="7.09" fill="#0e306b"/>
<rect x="545.81" y="154.46" width="7.17" height="7.09" fill="#123877"/>
<rect x="553.61" y="154.46" width="7.17" height="7.09" fill="#164283"/>
<rect x="561.42" y="154.46" width="7.17" height="7.09" fill="#0e306b"/>
<rect x="569.22" y="154.46" width="7.17" height="7.09" fill="#0e306b"/>
<rect x="100.92" y="162.19" width="7.17" height="7.09" fill="#0c2a60"/>
<rect x="108.72" y="162.19" width="7.17" height="7.09" fill="#0c2a60"/>
<rect x="116.53" y="162.19" width="7.17" height="7.09" fill="#0c2a60"/>
<rect x="124.33" y="162.19" width="7.17" height="7.09" fill="#0c2a60"/>
<rect x="132.14" y="162.19" width="7.17" height="7.09" fill="#0c2a60"/>
<rect x="139.94" y="162.19" width="7.17" height="7.09" fill="#0c2a60"/>
<rect x="147.75" y="162.19" width="7.17" height="7.09" fill="#0c2a60"/>
<rect x="155.55" y="162.19" width="7.17" height="7.09" fill="#0c2a60"/>
<rect x="163.36" y="162.19" width="7.17" height="7.09" fill="#0c2a60"/>
<rect x="171.16" y="162.19" width="7.17" height="7.09" fill="#0c2a60"/>
<rect x="178.97" y="162.19" width="7.17" height="7.09" fill="#0c2a60"/>
<rect x="186.77" y="162.19" width="7.17" height="7.09" fill="#0c2a60"/>
<rect x="194.58" y="162.19" width="7.17" height="7.09" fill="#0c2a60"/>
<rect x="202.38" y="162.19" width="7.17" height="7.09" fill="#0c2a60"/>
<rect x="210.19" y="162.19" width="7.17" height="7.09" fill="#0c2a60"/>
<rect x="217.99" y="162.19" width="7.17" height="7.09" fill="#0c2a60"/>
<rect x="225.80" y="162.19" width="7.17" height="7.09" fill="#0c2a60"/>
<rect x="233.60" y="162.19" width="7.17" height="7.09" fill="#0c2a60"/>
<rect x="241.41" y="162.19" width="7.17" height="7.09" fill="#0c2a60"/>
<rect x="249.21" y="162.19" width="7.17" height="7.09" fill="#0c2a60"/>
<rect x="257.02" y="162.19" width="7.17" height="7.09" fill="#0c2a60"/>
<rect x="264.82" y="162.19" width="7.17" height="7.09" fill="#0c2a60"/>
<rect x="272.63" y="162.19" width="7.17" height="7.09" fill="#0c2a60"/>
<rect x="280.44" y="162.19" width="7.17" height="7.09" fill="#0c2a60"/>
<rect x="288.24" y="162.19" width="7.17" height="7.09" fill="#0c2a60"/>
<rect x="296.05" y="162.19" width="7.17" height="7.09" fill="#0c2a60"/>
<rect x="303.85" y="162.19" width="7.17" height="7.09" fill="#0c2a60"/>
<rect x="311.65" y="162.19" width="7.17" height="7.09" fill="#0c2a60"/>
<rect x="319.46" y="162.19" width="7.17" height="7.09" fill="#0c2a60"/>
<rect x="327.26" y="162.19" width="7.17" height="7.09" fill="#0c2a60"/>
<rect x="335.07" y="162.19" width="7.17" height="7.09" fill="#123877"/>
<rect x="342.87" y="162.19" width="7.17" height="7.09" fill="#0c2a60"/>
<rect x="350.68" y="162.19" width="7.17" height="7.09" fill="#0c2a60"/>
<rect x="358.48" y="162.19" width="7.17" height="7.09" fill="#c2b47a"/>
<rect x="366.29" y="162.19" width="7.17" height="7.09" fill="#8c8b84"/>
<rect x="374.09" y="162.19" width="7.17" height="7.09" fill="#8c8b84"/>
<rect x="381.90" y="162.19" width="7.17" height="7.09" fill="#8c8b84"/>
<rect x="389.70" y="162.19" width="7.17" height="7.09" fill="#8c8b84"/>
<rect x="397.51" y="162.19" width="7.17" height="7.09" fill="#8c8b84"/>
<rect x="405.31" y="162.19" width="7.17" height="7.09" fill="#f3e44a"/>
<rect x="413.12" y="162.19" width="7.17" height="7.09" fill="#6e7079"/>
<rect x="420.93" y="162.19" width="7.17" height="7.09" fill="#4f5b7e"/>
<rect x="428.73" y="162.19" width="7.17" height="7.09" fill="#123877"/>
<rect x="436.54" y="162.19" width="7.17" height="7.09" fill="#0e306b"/>
<rect x="444.34" y="162.19" width="7.17" height="7.09" fill="#164283"/>
<rect x="452.14" y="162.19" width="7.17" height="7.09" fill="#164283"/>
<rect x="459.95" y="162.19" width="7.17" height="7.09" fill="#0e306b"/>
<rect x="467.75" y="162.19" width="7.17" height="7.09" fill="#0e306b"/>
<rect x="475.56" y="162.19" width="7.17" height="7.09" fill="#0e306b"/>
<rect x="483.36" y="162.19" width="7.17" height="7.09" fill="#0e306b"/>
<rect x="491.17" y="162.19" width="7.17" height="7.09" fill="#0e306b"/>
<rect x="498.97" y="162.19" width="7.17" height="7.09" fill="#0e306b"/>
<rect x="506.78" y="162.19" width="7.17" height="7.09" fill="#0e306b"/>
<rect x="514.59" y="162.19" width="7.17" height="7.09" fill="#0e306b"/>
<rect x="522.39" y="162.19" width="7.17" height="7.09" fill="#0e306b"/>
<rect x="530.20" y="162.19" width="7.17" height="7.09" fill="#0e306b"/>
<rect x="538.00" y="162.19" width="7.17" height="7.09" fill="#0c2a60"/>
<rect x="545.81" y="162.19" width="7.17" height="7.09" fill="#0c2a60"/>
<rect x="553.61" y="162.19" width="7.17" height="7.09" fill="#0c2a60"/>
<rect x="561.42" y="162.19" width="7.17" height="7.09" fill="#0c2a60"/>
<rect x="569.22" y="162.19" width="7.17" height="7.09" fill="#0c2a60"/>
<rect x="100.92" y="169.92" width="7.17" height="7.09" fill="#0c2a60"/>
<rect x="108.72" y="169.92" width="7.17" height="7.09" fill="#0c2a60"/>
<rect x="116.53" y="169.92" width="7.17" height="7.09" fill="#0c2a60"/>
<rect x="124.33" y="169.92" width="7.17" height="7.09" fill="#0c2a60"/>
<rect x="132.14" y="169.92" width="7.17" height="7.09" fill="#0c2a60"/>
<rect x="139.94" y="169.92" width="7.17" height="7.09" fill="#0c2a60"/>
<rect x="147.75" y="169.92" width="7.17" height="7.09" fill="#0c2a60"/>
<rect x="155.55" y="169.92" width="7.17" height="7.09" fill="#0c2a60"/>
<rect x="163.36" y="169.92" width="7.17" height="7.09" fill="#0c2a60"/>
<rect x="171.16" y="169.92" width="7.17" height="7.09" fill="#0c2a60"/>
<rect x="178.97" y="169.92" width="7.17" height="7.09" fill="#0c2a60"/>
<rect x="186.77" y="169.92" width="7.17" height="7.09" fill="#0c2a60"/>
<rect x="194.58" y="169.92" width="7.17" height="7.09" fill="#0c2a60"/>
<rect x="202.38" y="169.92" width="7.17" height="7.09" fill="#0c2a60"/>
<rect x="210.19" y="169.92" width="7.17" height="7.09" fill="#0c2a60"/>
<rect x="217.99" y="169.92" width="7.17" height="7.09" fill="#0c2a60"/>
<rect x="225.80" y="169.92" width="7.17" height="7.09" fill="#0c2a60"/>
<rect x="233.60" y="169.92" width="7.17" height="7.09" fill="#0c2a60"/>
<rect x="241.41" y="169.92" width="7.17" height="7.09" fill="#0c2a60"/>
<rect x="249.21" y="169.92" width="7.17" height="7.09" fill="#0c2a60"/>
<rect x="257.02" y="169.92" width="7.17" height="7.09" fill="#0c2a60"/>
<rect x="264.82" y="169.92" width="7.17" height="7.09" fill="#0c2a60"/>
<rect x="272.63" y="169.92" width="7.17" height="7.09" fill="#0c2a60"/>
<rect x="280.44" y="169.92" width="7.17" height="7.09" fill="#0c2a60"/>
<rect x="288.24" y="169.92" width="7.17" height="7.09" fill="#0c2a60"/>
<rect x="296.05" y="169.92" width="7.17" height="7.09" fill="#0c2a60"/>
<rect x="303.85" y="169.92" width="7.17" height="7.09" fill="#0c2a60"/>
<rect x="311.65" y="169.92" width="7.17" height="7.09" fill="#0c2a60"/>
<rect x="319.46" y="169.92" width="7.17" height="7.09" fill="#0c2a60"/>
<rect x="327.26" y="169.92" width="7.17" height="7.09" fill="#0c2a60"/>
<rect x="335.07" y="169.92" width="7.17" height="7.09" fill="#0c2a60"/>
<rect x="342.87" y="169.92" width="7.17" height="7.09" fill="#0c2a60"/>
<rect x="350.68" y="169.92" width="7.17" height="7.09" fill="#0c2a60"/>
<rect x="358.48" y="169.92" width="7.17" height="7.09" fill="#0e306b"/>
<rect x="366.29" y="169.92" width="7.17" height="7.09" fill="#123877"/>
<rect x="374.09" y="169.92" width="7.17" height="7.09" fill="#164283"/>
<rect x="381.90" y="169.92" width="7.17" height="7.09" fill="#0c2a60"/>
<rect x="389.70" y="169.92" width="7.17" height="7.09" fill="#0c2a60"/>
<rect x="397.51" y="169.92" width="7.17" height="7.09" fill="#0c2a60"/>
<rect x="405.31" y="169.92" width="7.17" height="7.09" fill="#0c2a60"/>
<rect x="413.12" y="169.92" width="7.17" height="7.09" fill="#0e306b"/>
<rect x="420.93" y="169.92" width="7.17" height="7.09" fill="#0e306b"/>
<rect x="428.73" y="169.92" width="7.17" height="7.09" fill="#c2b47a"/>
<rect x="436.54" y="169.92" width="7.17" height="7.09" fill="#f3e44a"/>
<rect x="444.34" y="169.92" width="7.17" height="7.09" fill="#0c2a60"/>
<rect x="452.14" y="169.92" width="7.17" height="7.09" fill="#0c2a60"/>
<rect x="459.95" y="169.92" width="7.17" height="7.09" fill="#0e306b"/>
<rect x="467.75" y="169.92" width="7.17" height="7.09" fill="#0e306b"/>
<rect x="475.56" y="169.92" width="7.17" height="7.09" fill="#0e306b"/>
<rect x="483.36" y="169.92" width="7.17" height="7.09" fill="#0e306b"/>
<rect x="491.17" y="169.92" width="7.17" height="7.09" fill="#0e306b"/>
<rect x="498.97" y="169.92" width="7.17" height="7.09" fill="#0e306b"/>
<rect x="506.78" y="169.92" width="7.17" height="7.09" fill="#0e306b"/>
<rect x="514.59" y="169.92" width="7.17" height="7.09" fill="#0e306b"/>
<rect x="522.39" y="169.92" width="7.17" height="7.09" fill="#0e306b"/>
<rect x="530.20" y="169.92" width="7.17" height="7.09" fill="#0c2a60"/>
<rect x="538.00" y="169.92" width="7.17" height="7.09" fill="#0c2a60"/>
<rect x="545.81" y="169.92" width="7.17" height="7.09" fill="#0c2a60"/>
<rect x="553.61" y="169.92" width="7.17" height="7.09" fill="#0c2a60"/>
<rect x="561.42" y="169.92" width="7.17" height="7.09" fill="#0c2a60"/>
<rect x="569.22" y="169.92" width="7.17" height="7.09" fill="#0c2a60"/>
<rect x="100.92" y="177.65" width="7.17" height="7.09" fill="#0c2a60"/>
<rect x="108.72" y="177.65" width="7.17" height="7.09" fill="#0c2a60"/>
<rect x="116.53" y="177.65" width="7.17" height="7.09" fill="#0c2a60"/>
<rect x="124.33" y="177.65" width="7.17" height="7.09" fill="#0c2a60"/>
<rect x="132.14" y="177.65" width="7.17" height="7.09" fill="#0c2a60"/>
<rect x="139.94" y="177.65" width="7.17" height="7.09" fill="#0c2a60"/>
<rect x="147.75" y="177.65" width="7.17" height="7.09" fill="#0c2a60"/>
<rect x="155.55" y="177.65" width="7.17" height="7.09" fill="#0c2a60"/>
<rect x="163.36" y="177.65" width="7.17" height="7.09" fill="#0c2a60"/>
<rect x="171.16" y="177.65" width="7.17" height="7.09" fill="#0c2a60"/>
<rect x="178.97" y="177.65" width="7.17" height="7.09" fill="#0c2a60"/>
<rect x="186.77" y="177.65" width="7.17" height="7.09" fill="#0c2a60"/>
<rect x="194.58" y="177.65" width="7.17" height="7.09" fill="#0c2a60"/>
<rect x="202.38" y="177.65" width="7.17" height="7.09" fill="#0c2a60"/>
<rect x="210.19" y="177.65" width="7.17" height="7.09" fill="#0c2a60"/>
<rect x="217.99" y="177.65" width="7.17" height="7.09" fill="#0c2a60"/>
<rect x="225.80" y="177.65" width="7.17" height="7.09" fill="#0c2a60"/>
<rect x="233.60" y="177.65" width="7.17" height="7.09" fill="#0c2a60"/>
<rect x="241.41" y="177.65" width="7.17" height="7.09" fill="#0c2a60"/>
<rect x="249.21" y="177.65" width="7.17" height="7.09" fill="#0c2a60"/>
<rect x="257.02" y="177.65" width="7.17" height="7.09" fill="#0c2a60"/>
<rect x="264.82" y="177.65" width="7.17" height="7.09" fill="#0c2a60"/>
<rect x="272.63" y="177.65" width="7.17" height="7.09" fill="#0c2a60"/>
<rect x="280.44" y="177.65" width="7.17" height="7.09" fill="#0c2a60"/>
<rect x="288.24" y="177.65" width="7.17" height="7.09" fill="#0c2a60"/>
<rect x="296.05" y="177.65" width="7.17" height="7.09" fill="#0c2a60"/>
<rect x="303.85" y="177.65" width="7.17" height="7.09" fill="#0c2a60"/>
<rect x="311.65" y="177.65" width="7.17" height="7.09" fill="#0c2a60"/>
<rect x="319.46" y="177.65" width="7.17" height="7.09" fill="#0c2a60"/>
<rect x="327.26" y="177.65" width="7.17" height="7.09" fill="#0c2a60"/>
<rect x="335.07" y="177.65" width="7.17" height="7.09" fill="#164283"/>
<rect x="342.87" y="177.65" width="7.17" height="7.09" fill="#0c2a60"/>
<rect x="350.68" y="177.65" width="7.17" height="7.09" fill="#0c2a60"/>
<rect x="358.48" y="177.65" width="7.17" height="7.09" fill="#164283"/>
<rect x="366.29" y="177.65" width="7.17" height="7.09" fill="#284d80"/>
<rect x="374.09" y="177.65" width="7.17" height="7.09" fill="#4f5b7e"/>
<rect x="381.90" y="177.65" width="7.17" height="7.09" fill="#0c2a60"/>
<rect x="389.70" y="177.65" width="7.17" height="7.09" fill="#0c2a60"/>
<rect x="397.51" y="177.65" width="7.17" height="7.09" fill="#0c2a60"/>
<rect x="405.31" y="177.65" width="7.17" height="7.09" fill="#0c2a60"/>
<rect x="413.12" y="177.65" width="7.17" height="7.09" fill="#0c2a60"/>
<rect x="420.93" y="177.65" width="7.17" height="7.09" fill="#0c2a60"/>
<rect x="428.73" y="177.65" width="7.17" height="7.09" fill="#0c2a60"/>
<rect x="436.54" y="177.65" width="7.17" height="7.09" fill="#0c2a60"/>
<rect x="444.34" y="177.65" width="7.17" height="7.09" fill="#f3e44a"/>
<rect x="452.14" y="177.65" width="7.17" height="7.09" fill="#f3e44a"/>
<rect x="459.95" y="177.65" width="7.17" height="7.09" fill="#0c2a60"/>
<rect x="467.75" y="177.65" width="7.17" height="7.09" fill="#0c2a60"/>
<rect x="475.56" y="177.65" width="7.17" height="7.09" fill="#0c2a60"/>
<rect x="483.36" y="177.65" width="7.17" height="7.09" fill="#0c2a60"/>
<rect x="491.17" y="177.65" width="7.17" height="7.09" fill="#0c2a60"/>
<rect x="498.97" y="177.65" width="7.17" height="7.09" fill="#0c2a60"/>
<rect x="506.78" y="177.65" width="7.17" height="7.09" fill="#0c2a60"/>
<rect x="514.59" y="177.65" width="7.17" height="7.09" fill="#0c2a60"/>
<rect x="522.39" y="177.65" width="7.17" height="7.09" fill="#0c2a60"/>
<rect x="530.20" y="177.65" width="7.17" height="7.09" fill="#0c2a60"/>
<rect x="538.00" y="177.65" width="7.17" height="7.09" fill="#0c2a60"/>
<rect x="545.81" y="177.65" width="7.17" height="7.09" fill="#0c2a60"/>
<rect x="553.61" y="177.65" width="7.17" height="7.09" fill="#0c2a60"/>
<rect x="561.42" y="177.65" width="7.17" height="7.09" fill="#0c2a60"/>
<rect x="569.22" y="177.65" width="7.17" height="7.09" fill="#0c2a60"/>
<rect x="100.92" y="185.38" width="7.17" height="7.09" fill="#0c2a60"/>
<rect x="108.72" y="185.38" width="7.17" height="7.09" fill="#0c2a60"/>
<rect x="116.53" y="185.38" width="7.17" height="7.09" fill="#0c2a60"/>
<rect x="124.33" y="185.38" width="7.17" height="7.09" fill="#0c2a60"/>
<rect x="132.14" y="185.38" width="7.17" height="7.09" fill="#0c2a60"/>
<rect x="139.94" y="185.38" width="7.17" height="7.09" fill="#0c2a60"/>
<rect x="147.75" y="185.38" width="7.17" height="7.09" fill="#0c2a60"/>
<rect x="155.55" y="185.38" width="7.17" height="7.09" fill="#0c2a60"/>
<rect x="163.36" y="185.38" width="7.17" height="7.09" fill="#0c2a60"/>
<rect x="171.16" y="185.38" width="7.17" height="7.09" fill="#0c2a60"/>
<rect x="178.97" y="185.38" width="7.17" height="7.09" fill="#0c2a60"/>
<rect x="186.77" y="185.38" width="7.17" height="7.09" fill="#0c2a60"/>
<rect x="194.58" y="185.38" width="7.17" height="7.09" fill="#0c2a60"/>
<rect x="202.38" y="185.38" width="7.17" height="7.09" fill="#0c2a60"/>
<rect x="210.19" y="185.38" width="7.17" height="7.09" fill="#0c2a60"/>
<rect x="217.99" y="185.38" width="7.17" height="7.09" fill="#0c2a60"/>
<rect x="225.80" y="185.38" width="7.17" height="7.09" fill="#0c2a60"/>
<rect x="233.60" y="185.38" width="7.17" height="7.09" fill="#0c2a60"/>
<rect x="241.41" y="185.38" width="7.17" height="7.09" fill="#0c2a60"/>
<rect x="249.21" y="185.38" width="7.17" height="7.09" fill="#0c2a60"/>
<rect x="257.02" y="185.38" width="7.17" height="7.09" fill="#0c2a60"/>
<rect x="264.82" y="185.38" width="7.17" height="7.09" fill="#0c2a60"/>
<rect x="272.63" y="185.38" width="7.17" height="7.09" fill="#0c2a60"/>
<rect x="280.44" y="185.38" width="7.17" height="7.09" fill="#0c2a60"/>
<rect x="288.24" y="185.38" width="7.17" height="7.09" fill="#0c2a60"/>
<rect x="296.05" y="185.38" width="7.17" height="7.09" fill="#0c2a60"/>
<rect x="303.85" y="185.38" width="7.17" height="7.09" fill="#0c2a60"/>
<rect x="311.65" y="185.38" width="7.17" height="7.09" fill="#0c2a60"/>
<rect x="319.46" y="185.38" width="7.17" height="7.09" fill="#0c2a60"/>
<rect x="327.26" y="185.38" width="7.17" height="7.09" fill="#0c2a60"/>
<rect x="335.07" y="185.38" width="7.17" height="7.09" fill="#0c2a60"/>
<rect x="342.87" y="185.38" width="7.17" height="7.09" fill="#0c2a60"/>
<rect x="350.68" y="185.38" width="7.17" height="7.09" fill="#0c2a60"/>
<rect x="358.48" y="185.38" width="7.17" height="7.09" fill="#0c2a60"/>
<rect x="366.29" y="185.38" width="7.17" height="7.09" fill="#0c2a60"/>
<rect x="374.09" y="185.38" width="7.17" height="7.09" fill="#0c2a60"/>
<rect x="381.90" y="185.38" width="7.17" height="7.09" fill="#0c2a60"/>
<rect x="389.70" y="185.38" width="7.17" height="7.09" fill="#0c2a60"/>
<rect x="397.51" y="185.38" width="7.17" height="7.09" fill="#0c2a60"/>
<rect x="405.31" y="185.38" width="7.17" height="7.09" fill="#0c2a60"/>
<rect x="413.12" y="185.38" width="7.17" height="7.09" fill="#0c2a60"/>
<rect x="420.93" y="185.38" width="7.17" height="7.09" fill="#0c2a60"/>
<rect x="428.73" y="185.38" width="7.17" height="7.09" fill="#0c2a60"/>
<rect x="436.54" y="185.38" width="7.17" height="7.09" fill="#0c2a60"/>
<rect x="444.34" y="185.38" width="7.17" height="7.09" fill="#0c2a60"/>
<rect x="452.14" y="185.38" width="7.17" height="7.09" fill="#0c2a60"/>
<rect x="459.95" y="185.38" width="7.17" height="7.09" fill="#f3e44a"/>
<rect x="467.75" y="185.38" width="7.17" height="7.09" fill="#e0ce68"/>
<rect x="475.56" y="185.38" width="7.17" height="7.09" fill="#f3e44a"/>
<rect x="483.36" y="185.38" width="7.17" height="7.09" fill="#e0ce68"/>
<rect x="491.17" y="185.38" width="7.17" height="7.09" fill="#8c8b84"/>
<rect x="498.97" y="185.38" width="7.17" height="7.09" fill="#c2b47a"/>
<rect x="506.78" y="185.38" width="7.17" height="7.09" fill="#e0ce68"/>
<rect x="514.59" y="185.38" width="7.17" height="7.09" fill="#c2b47a"/>
<rect x="522.39" y="185.38" width="7.17" height="7.09" fill="#c2b47a"/>
<rect x="530.20" y="185.38" width="7.17" height="7.09" fill="#8c8b84"/>
<rect x="538.00" y="185.38" width="7.17" height="7.09" fill="#0c2a60"/>
<rect x="545.81" y="185.38" width="7.17" height="7.09" fill="#0c2a60"/>
<rect x="553.61" y="185.38" width="7.17" height="7.09" fill="#0c2a60"/>
<rect x="561.42" y="185.38" width="7.17" height="7.09" fill="#0c2a60"/>
<rect x="569.22" y="185.38" width="7.17" height="7.09" fill="#0c2a60"/>
<rect x="100.92" y="193.11" width="7.17" height="7.09" fill="#0c2a60"/>
<rect x="108.72" y="193.11" width="7.17" height="7.09" fill="#0c2a60"/>
<rect x="116.53" y="193.11" width="7.17" height="7.09" fill="#0c2a60"/>
<rect x="124.33" y="193.11" width="7.17" height="7.09" fill="#0c2a60"/>
<rect x="132.14" y="193.11" width="7.17" height="7.09" fill="#0c2a60"/>
<rect x="139.94" y="193.11" width="7.17" height="7.09" fill="#0c2a60"/>
<rect x="147.75" y="193.11" width="7.17" height="7.09" fill="#0c2a60"/>
<rect x="155.55" y="193.11" width="7.17" height="7.09" fill="#0c2a60"/>
<rect x="163.36" y="193.11" width="7.17" height="7.09" fill="#0c2a60"/>
<rect x="171.16" y="193.11" width="7.17" height="7.09" fill="#0c2a60"/>
<rect x="178.97" y="193.11" width="7.17" height="7.09" fill="#0c2a60"/>
<rect x="186.77" y="193.11" width="7.17" height="7.09" fill="#0c2a60"/>
<rect x="194.58" y="193.11" width="7.17" height="7.09" fill="#0c2a60"/>
<rect x="202.38" y="193.11" width="7.17" height="7.09" fill="#0c2a60"/>
<rect x="210.19" y="193.11" width="7.17" height="7.09" fill="#0c2a60"/>
<rect x="217.99" y="193.11" width="7.17" height="7.09" fill="#0c2a60"/>
<rect x="225.80" y="193.11" width="7.17" height="7.09" fill="#0c2a60"/>
<rect x="233.60" y="193.11" width="7.17" height="7.09" fill="#0c2a60"/>
<rect x="241.41" y="193.11" width="7.17" height="7.09" fill="#0c2a60"/>
<rect x="249.21" y="193.11" width="7.17" height="7.09" fill="#0c2a60"/>
<rect x="257.02" y="193.11" width="7.17" height="7.09" fill="#0c2a60"/>
<rect x="264.82" y="193.11" width="7.17" height="7.09" fill="#0c2a60"/>
<rect x="272.63" y="193.11" width="7.17" height="7.09" fill="#0c2a60"/>
<rect x="280.44" y="193.11" width="7.17" height="7.09" fill="#0c2a60"/>
<rect x="288.24" y="193.11" width="7.17" height="7.09" fill="#0c2a60"/>
<rect x="296.05" y="193.11" width="7.17" height="7.09" fill="#0c2a60"/>
<rect x="303.85" y="193.11" width="7.17" height="7.09" fill="#0c2a60"/>
<rect x="311.65" y="193.11" width="7.17" height="7.09" fill="#0c2a60"/>
<rect x="319.46" y="193.11" width="7.17" height="7.09" fill="#0c2a60"/>
<rect x="327.26" y="193.11" width="7.17" height="7.09" fill="#0c2a60"/>
<rect x="335.07" y="193.11" width="7.17" height="7.09" fill="#0c2a60"/>
<rect x="342.87" y="193.11" width="7.17" height="7.09" fill="#0c2a60"/>
<rect x="350.68" y="193.11" width="7.17" height="7.09" fill="#0c2a60"/>
<rect x="358.48" y="193.11" width="7.17" height="7.09" fill="#0c2a60"/>
<rect x="366.29" y="193.11" width="7.17" height="7.09" fill="#0c2a60"/>
<rect x="374.09" y="193.11" width="7.17" height="7.09" fill="#0c2a60"/>
<rect x="381.90" y="193.11" width="7.17" height="7.09" fill="#0c2a60"/>
<rect x="389.70" y="193.11" width="7.17" height="7.09" fill="#0c2a60"/>
<rect x="397.51" y="193.11" width="7.17" height="7.09" fill="#0c2a60"/>
<rect x="405.31" y="193.11" width="7.17" height="7.09" fill="#0c2a60"/>
<rect x="413.12" y="193.11" width="7.17" height="7.09" fill="#0c2a60"/>
<rect x="420.93" y="193.11" width="7.17" height="7.09" fill="#0c2a60"/>
<rect x="428.73" y="193.11" width="7.17" height="7.09" fill="#0e306b"/>
<rect x="436.54" y="193.11" width="7.17" height="7.09" fill="#123877"/>
<rect x="444.34" y="193.11" width="7.17" height="7.09" fill="#0c2a60"/>
<rect x="452.14" y="193.11" width="7.17" height="7.09" fill="#0c2a60"/>
<rect x="459.95" y="193.11" width="7.17" height="7.09" fill="#164283"/>
<rect x="467.75" y="193.11" width="7.17" height="7.09" fill="#164283"/>
<rect x="475.56" y="193.11" width="7.17" height="7.09" fill="#164283"/>
<rect x="483.36" y="193.11" width="7.17" height="7.09" fill="#164283"/>
<rect x="491.17" y="193.11" width="7.17" height="7.09" fill="#0e306b"/>
<rect x="498.97" y="193.11" width="7.17" height="7.09" fill="#123877"/>
<rect x="506.78" y="193.11" width="7.17" height="7.09" fill="#123877"/>
<rect x="514.59" y="193.11" width="7.17" height="7.09" fill="#164283"/>
<rect x="522.39" y="193.11" width="7.17" height="7.09" fill="#164283"/>
<rect x="530.20" y="193.11" width="7.17" height="7.09" fill="#0c2a60"/>
<rect x="538.00" y="193.11" width="7.17" height="7.09" fill="#6e7079"/>
<rect x="545.81" y="193.11" width="7.17" height="7.09" fill="#8c8b84"/>
<rect x="553.61" y="193.11" width="7.17" height="7.09" fill="#f3e44a"/>
<rect x="561.42" y="193.11" width="7.17" height="7.09" fill="#164283"/>
<rect x="569.22" y="193.11" width="7.17" height="7.09" fill="#164283"/>
<text x="579.30" y="21.40" font-size="9.2" text-anchor="start" fill="#1a1a1a" stroke="#1a1a1a" stroke-width="0.1">Oocyte</text>
<text x="579.30" y="29.18" font-size="9.2" text-anchor="start" fill="#1a1a1a" stroke="#1a1a1a" stroke-width="0.1">Spermatocyte</text>
<text x="579.30" y="36.97" font-size="9.2" text-anchor="start" fill="#1a1a1a" stroke="#1a1a1a" stroke-width="0.1">ESC</text>
<text x="579.30" y="44.75" font-size="9.2" text-anchor="start" fill="#1a1a1a" stroke="#1a1a1a" stroke-width="0.1">Neuroepithelial cell</text>
<text x="579.30" y="52.54" font-size="9.2" text-anchor="start" fill="#1a1a1a" stroke="#1a1a1a" stroke-width="0.1">Astrocyte</text>
<text x="579.30" y="60.32" font-size="9.2" text-anchor="start" fill="#1a1a1a" stroke="#1a1a1a" stroke-width="0.1">MSC</text>
<text x="579.30" y="68.11" font-size="9.2" text-anchor="start" fill="#1a1a1a" stroke="#1a1a1a" stroke-width="0.1">Fibroblasts</text>
<text x="579.30" y="75.90" font-size="9.2" text-anchor="start" fill="#1a1a1a" stroke="#1a1a1a" stroke-width="0.1">Adipocytes</text>
<text x="579.30" y="83.68" font-size="9.2" text-anchor="start" fill="#1a1a1a" stroke="#1a1a1a" stroke-width="0.1">Endothelial cells</text>
<text x="579.30" y="91.47" font-size="9.2" text-anchor="start" fill="#1a1a1a" stroke="#1a1a1a" stroke-width="0.1">Epithelial cells</text>
<text x="579.30" y="99.25" font-size="9.2" text-anchor="start" fill="#1a1a1a" stroke="#1a1a1a" stroke-width="0.1">Hepatocytes</text>
<text x="579.30" y="107.03" font-size="9.2" text-anchor="start" fill="#1a1a1a" stroke="#1a1a1a" stroke-width="0.1">HSCs</text>
<text x="579.30" y="114.82" font-size="9.2" text-anchor="start" fill="#1a1a1a" stroke="#1a1a1a" stroke-width="0.1">GMPs</text>
<text x="579.30" y="122.60" font-size="9.2" text-anchor="start" fill="#1a1a1a" stroke="#1a1a1a" stroke-width="0.1">MEPs</text>
<text x="579.30" y="130.39" font-size="9.2" text-anchor="start" fill="#1a1a1a" stroke="#1a1a1a" stroke-width="0.1">Myelocytes</text>
<text x="579.30" y="138.18" font-size="9.2" text-anchor="start" fill="#1a1a1a" stroke="#1a1a1a" stroke-width="0.1">Platelets</text>
<text x="579.30" y="145.96" font-size="9.2" text-anchor="start" fill="#1a1a1a" stroke="#1a1a1a" stroke-width="0.1">Monocytes (Classical)</text>
<text x="579.30" y="153.75" font-size="9.2" text-anchor="start" fill="#1a1a1a" stroke="#1a1a1a" stroke-width="0.1">Monocytes (Intermediate)</text>
<text x="579.30" y="161.53" font-size="9.2" text-anchor="start" fill="#1a1a1a" stroke="#1a1a1a" stroke-width="0.1">Monocytes (Alternative)</text>
<text x="579.30" y="169.31" font-size="9.2" text-anchor="start" fill="#1a1a1a" stroke="#1a1a1a" stroke-width="0.1">Macrophages (Alveolar)</text>
<text x="579.30" y="177.10" font-size="9.2" text-anchor="start" fill="#1a1a1a" stroke="#1a1a1a" stroke-width="0.1">DC (Plasmacytoid)</text>
<text x="579.30" y="184.89" font-size="9.2" text-anchor="start" fill="#1a1a1a" stroke="#1a1a1a" stroke-width="0.1">Neutrophils</text>
<text x="579.30" y="192.67" font-size="9.2" text-anchor="start" fill="#1a1a1a" stroke="#1a1a1a" stroke-width="0.1">CD4 T Cells</text>
<text x="579.30" y="200.46" font-size="9.2" text-anchor="start" fill="#1a1a1a" stroke="#1a1a1a" stroke-width="0.1">B Cells</text>
<line x1="101.50" y1="204.50" x2="113.00" y2="204.50" stroke="#222" stroke-width="1.0"/>
<line x1="109.20" y1="204.50" x2="103.50" y2="210.00" stroke="#222" stroke-width="0.9"/>
<text x="98.60" y="219.70" font-size="9.2" text-anchor="middle" fill="#1a1a1a" stroke="#1a1a1a" stroke-width="0.1">Germ</text>
<line x1="118.00" y1="204.50" x2="140.30" y2="204.50" stroke="#222" stroke-width="1.0"/>
<line x1="129.50" y1="204.50" x2="118.20" y2="227.00" stroke="#222" stroke-width="0.9"/>
<text x="117.20" y="238.10" font-size="9.2" text-anchor="middle" fill="#1a1a1a" stroke="#1a1a1a" stroke-width="0.1">ESC</text>
<line x1="147.20" y1="204.50" x2="169.60" y2="204.50" stroke="#222" stroke-width="1.0"/>
<line x1="159.00" y1="204.50" x2="156.00" y2="210.00" stroke="#222" stroke-width="0.9"/>
<text x="152.00" y="219.70" font-size="9.2" text-anchor="middle" fill="#1a1a1a" stroke="#1a1a1a" stroke-width="0.1">Neural</text>
<line x1="172.30" y1="204.50" x2="184.40" y2="204.50" stroke="#222" stroke-width="1.0"/>
<line x1="178.50" y1="204.50" x2="174.40" y2="226.00" stroke="#222" stroke-width="0.9"/>
<text x="171.90" y="238.10" font-size="9.2" text-anchor="middle" fill="#1a1a1a" stroke="#1a1a1a" stroke-width="0.1">Astrocyte</text>
<line x1="186.80" y1="204.50" x2="248.40" y2="204.50" stroke="#222" stroke-width="1.0"/>
<line x1="217.40" y1="204.50" x2="217.40" y2="210.00" stroke="#222" stroke-width="0.9"/>
<text x="216.60" y="219.50" font-size="9.2" text-anchor="middle" fill="#1a1a1a" stroke="#1a1a1a" stroke-width="0.1">Mesenchymal</text>
<line x1="251.20" y1="204.50" x2="263.60" y2="204.50" stroke="#222" stroke-width="1.0"/>
<line x1="257.60" y1="204.50" x2="257.60" y2="230.50" stroke="#222" stroke-width="0.9"/>
<text x="237.40" y="238.00" font-size="9.2" text-anchor="middle" fill="#1a1a1a" stroke="#1a1a1a" stroke-width="0.1">Endothelial</text>
<line x1="266.40" y1="204.50" x2="278.10" y2="204.50" stroke="#222" stroke-width="1.0"/>
<line x1="272.50" y1="204.50" x2="272.50" y2="242.80" stroke="#222" stroke-width="0.9"/>
<text x="263.50" y="252.70" font-size="9.2" text-anchor="middle" fill="#1a1a1a" stroke="#1a1a1a" stroke-width="0.1">Epithelial</text>
<line x1="281.00" y1="204.50" x2="348.90" y2="204.50" stroke="#222" stroke-width="1.0"/>
<line x1="314.50" y1="204.50" x2="314.50" y2="210.00" stroke="#222" stroke-width="0.9"/>
<line x1="351.20" y1="204.50" x2="356.60" y2="204.50" stroke="#222" stroke-width="1.0"/>
<line x1="354.30" y1="204.50" x2="343.00" y2="242.40" stroke="#222" stroke-width="0.9"/>
<text x="343.30" y="252.50" font-size="9.2" text-anchor="middle" fill="#1a1a1a" stroke="#1a1a1a" stroke-width="0.1">Platelets</text>
<line x1="359.40" y1="204.50" x2="380.90" y2="204.50" stroke="#222" stroke-width="1.0"/>
<line x1="369.20" y1="204.50" x2="373.00" y2="229.50" stroke="#222" stroke-width="0.9"/>
<text x="373.00" y="238.00" font-size="9.2" text-anchor="middle" fill="#1a1a1a" stroke="#1a1a1a" stroke-width="0.1">Monocytes</text>
<line x1="384.00" y1="204.50" x2="412.90" y2="204.50" stroke="#222" stroke-width="1.0"/>
<line x1="400.30" y1="204.50" x2="398.00" y2="210.00" stroke="#222" stroke-width="0.9"/>
<text x="396.80" y="220.00" font-size="9.2" text-anchor="middle" fill="#1a1a1a" stroke="#1a1a1a" stroke-width="0.1">Mø</text>
<line x1="415.60" y1="204.50" x2="442.60" y2="204.50" stroke="#222" stroke-width="1.0"/>
<line x1="429.40" y1="204.50" x2="429.40" y2="209.80" stroke="#222" stroke-width="0.9"/>
<text x="429.80" y="219.70" font-size="9.2" text-anchor="middle" fill="#1a1a1a" stroke="#1a1a1a" stroke-width="0.1">Dendritic</text>
<line x1="445.20" y1="204.50" x2="459.90" y2="204.50" stroke="#222" stroke-width="1.0"/>
<line x1="452.00" y1="204.50" x2="461.70" y2="230.00" stroke="#222" stroke-width="0.9"/>
<text x="464.80" y="238.10" font-size="9.2" text-anchor="middle" fill="#1a1a1a" stroke="#1a1a1a" stroke-width="0.1">Neutrophils</text>
<line x1="462.30" y1="204.50" x2="537.20" y2="204.50" stroke="#222" stroke-width="1.0"/>
<line x1="499.30" y1="204.50" x2="499.30" y2="209.80" stroke="#222" stroke-width="0.9"/>
<text x="494.90" y="219.70" font-size="9.2" text-anchor="middle" fill="#1a1a1a" stroke="#1a1a1a" stroke-width="0.1">T Cells</text>
<line x1="539.30" y1="204.50" x2="576.80" y2="204.50" stroke="#222" stroke-width="1.0"/>
<line x1="558.20" y1="204.50" x2="558.20" y2="209.80" stroke="#222" stroke-width="0.9"/>
<text x="555.90" y="219.70" font-size="9.2" text-anchor="middle" fill="#1a1a1a" stroke="#1a1a1a" stroke-width="0.1">B Cells</text>
<text x="314.40" y="219.50" font-size="9.2" text-anchor="middle" fill="#1a1a1a" stroke="#1a1a1a" stroke-width="0.1">Hematopoietic</text>
<text x="314.70" y="231.00" font-size="9.2" text-anchor="middle" fill="#1a1a1a" stroke="#1a1a1a" stroke-width="0.1">progenitors</text>
<text x="641.00" y="219.00" font-size="9.2" text-anchor="middle" fill="#1a1a1a" stroke="#1a1a1a" stroke-width="0.1">Normalized</text>
<text x="641.00" y="229.80" font-size="9.2" text-anchor="middle" fill="#1a1a1a" stroke="#1a1a1a" stroke-width="0.1">Odds Ratio</text>
<defs><linearGradient id="gOR" x1="0" x2="1" y1="0" y2="0"><stop offset="0" stop-color="#0a2a62"/><stop offset="0.25" stop-color="#0d2e68"/><stop offset="0.5" stop-color="#123c7c"/><stop offset="0.62" stop-color="#1a4580"/><stop offset="0.8" stop-color="#6e7079"/><stop offset="0.93" stop-color="#b8ad7a"/><stop offset="1" stop-color="#f5e64a"/></linearGradient><linearGradient id="gRB" x1="0" x2="0" y1="0" y2="1"><stop offset="0" stop-color="#67001f"/><stop offset="0.1" stop-color="#b2182b"/><stop offset="0.2" stop-color="#d6604d"/><stop offset="0.3" stop-color="#f4a582"/><stop offset="0.4" stop-color="#fddbc7"/><stop offset="0.5" stop-color="#f7f7f7"/><stop offset="0.6" stop-color="#d1e5f0"/><stop offset="0.7" stop-color="#92c5de"/><stop offset="0.8" stop-color="#4393c3"/><stop offset="0.9" stop-color="#2166ac"/><stop offset="1" stop-color="#053061"/></linearGradient></defs>
<rect x="616.80" y="233.00" width="48.00" height="16.90" fill="url(#gOR)"/>
<text x="613.00" y="245.10" font-size="9.2" text-anchor="end" fill="#1a1a1a" stroke="#1a1a1a" stroke-width="0.1">Min</text>
<text x="667.40" y="245.10" font-size="9.2" text-anchor="start" fill="#1a1a1a" stroke="#1a1a1a" stroke-width="0.1">Max</text>
<text x="0.20" y="275.10" font-size="13" text-anchor="start" fill="#000" stroke="#000" stroke-width="0.1" font-weight="bold">c</text>
<rect x="68.60" y="276.60" width="47.50" height="151.40" fill="#e3e4e6"/>
<rect x="164.00" y="276.60" width="47.40" height="151.40" fill="#e3e4e6"/>
<rect x="284.40" y="276.60" width="28.40" height="151.40" fill="#e3e4e6"/>
<rect x="345.90" y="276.60" width="28.70" height="151.40" fill="#e3e4e6"/>
<rect x="72.10" y="302.68" width="6.70" height="41.32" fill="#c55a24"/>
<rect x="80.50" y="333.07" width="6.70" height="10.93" fill="#d4d5d5"/>
<rect x="88.90" y="303.70" width="6.70" height="40.30" fill="#989b9c"/>
<rect x="97.30" y="310.53" width="6.70" height="33.47" fill="#a3cdc7"/>
<rect x="105.70" y="300.63" width="6.70" height="43.37" fill="#56a09e"/>
<rect x="119.80" y="312.58" width="6.70" height="31.42" fill="#c55a24"/>
<rect x="128.20" y="312.24" width="6.70" height="31.76" fill="#d4d5d5"/>
<rect x="136.60" y="319.41" width="6.70" height="24.59" fill="#989b9c"/>
<rect x="145.00" y="327.61" width="6.70" height="16.39" fill="#a3cdc7"/>
<rect x="153.40" y="309.17" width="6.70" height="34.83" fill="#56a09e"/>
<rect x="167.20" y="315.31" width="6.70" height="28.69" fill="#c55a24"/>
<rect x="175.60" y="289.36" width="6.70" height="54.64" fill="#d4d5d5"/>
<rect x="184.00" y="300.63" width="6.70" height="43.37" fill="#989b9c"/>
<rect x="192.40" y="288.68" width="6.70" height="55.32" fill="#a3cdc7"/>
<rect x="200.80" y="298.92" width="6.70" height="45.08" fill="#56a09e"/>
<rect x="214.90" y="328.97" width="6.70" height="15.03" fill="#c55a24"/>
<rect x="223.30" y="314.29" width="6.70" height="29.71" fill="#d4d5d5"/>
<rect x="231.70" y="322.14" width="6.70" height="21.86" fill="#989b9c"/>
<rect x="240.10" y="320.78" width="6.70" height="23.22" fill="#a3cdc7"/>
<rect x="248.50" y="320.10" width="6.70" height="23.90" fill="#56a09e"/>
<line x1="68.40" y1="276.70" x2="68.40" y2="344.50" stroke="#222" stroke-width="1"/>
<line x1="64.80" y1="344.00" x2="68.40" y2="344.00" stroke="#222" stroke-width="1"/>
<text x="62.80" y="346.90" font-size="9.2" text-anchor="end" fill="#1a1a1a" stroke="#1a1a1a" stroke-width="0.1">0.0</text>
<line x1="64.80" y1="330.54" x2="68.40" y2="330.54" stroke="#222" stroke-width="1"/>
<text x="62.80" y="333.44" font-size="9.2" text-anchor="end" fill="#1a1a1a" stroke="#1a1a1a" stroke-width="0.1">0.2</text>
<line x1="64.80" y1="317.08" x2="68.40" y2="317.08" stroke="#222" stroke-width="1"/>
<text x="62.80" y="319.98" font-size="9.2" text-anchor="end" fill="#1a1a1a" stroke="#1a1a1a" stroke-width="0.1">0.4</text>
<line x1="64.80" y1="303.62" x2="68.40" y2="303.62" stroke="#222" stroke-width="1"/>
<text x="62.80" y="306.52" font-size="9.2" text-anchor="end" fill="#1a1a1a" stroke="#1a1a1a" stroke-width="0.1">0.6</text>
<line x1="64.80" y1="290.16" x2="68.40" y2="290.16" stroke="#222" stroke-width="1"/>
<text x="62.80" y="293.06" font-size="9.2" text-anchor="end" fill="#1a1a1a" stroke="#1a1a1a" stroke-width="0.1">0.8</text>
<line x1="64.80" y1="276.70" x2="68.40" y2="276.70" stroke="#222" stroke-width="1"/>
<text x="62.80" y="279.60" font-size="9.2" text-anchor="end" fill="#1a1a1a" stroke="#1a1a1a" stroke-width="0.1">1.0</text>
<line x1="67.90" y1="344.50" x2="258.60" y2="344.50" stroke="#1a1a1a" stroke-width="1.0"/>
<rect x="72.10" y="370.00" width="6.70" height="57.90" fill="#c55a24"/>
<rect x="80.50" y="384.01" width="6.70" height="43.89" fill="#d4d5d5"/>
<rect x="88.90" y="366.54" width="6.70" height="61.36" fill="#989b9c"/>
<rect x="97.30" y="376.08" width="6.70" height="51.82" fill="#a3cdc7"/>
<rect x="105.70" y="364.09" width="6.70" height="63.81" fill="#56a09e"/>
<rect x="119.80" y="402.92" width="6.70" height="24.98" fill="#c55a24"/>
<rect x="128.20" y="394.06" width="6.70" height="33.84" fill="#d4d5d5"/>
<rect x="136.60" y="385.45" width="6.70" height="42.45" fill="#989b9c"/>
<text x="148.35" y="425.30" font-size="9.2" text-anchor="middle" fill="#1a1a1a" stroke="#1a1a1a" stroke-width="0.1">0</text>
<rect x="153.40" y="381.48" width="6.70" height="46.42" fill="#56a09e"/>
<rect x="167.20" y="399.20" width="6.70" height="28.70" fill="#c55a24"/>
<rect x="175.60" y="373.88" width="6.70" height="54.02" fill="#d4d5d5"/>
<rect x="184.00" y="406.80" width="6.70" height="21.10" fill="#989b9c"/>
<rect x="192.40" y="384.01" width="6.70" height="43.89" fill="#a3cdc7"/>
<text x="204.15" y="425.30" font-size="9.2" text-anchor="middle" fill="#1a1a1a" stroke="#1a1a1a" stroke-width="0.1">0</text>
<rect x="214.90" y="392.45" width="6.70" height="35.45" fill="#c55a24"/>
<rect x="223.30" y="390.76" width="6.70" height="37.14" fill="#d4d5d5"/>
<rect x="231.70" y="386.54" width="6.70" height="41.36" fill="#989b9c"/>
<text x="243.45" y="425.30" font-size="9.2" text-anchor="middle" fill="#1a1a1a" stroke="#1a1a1a" stroke-width="0.1">0</text>
<rect x="248.50" y="392.87" width="6.70" height="35.03" fill="#56a09e"/>
<line x1="68.40" y1="360.50" x2="68.40" y2="428.70" stroke="#222" stroke-width="1"/>
<line x1="64.80" y1="428.20" x2="68.40" y2="428.20" stroke="#222" stroke-width="1"/>
<text x="62.80" y="431.10" font-size="9.2" text-anchor="end" fill="#1a1a1a" stroke="#1a1a1a" stroke-width="0.1">0.0</text>
<line x1="64.80" y1="411.28" x2="68.40" y2="411.28" stroke="#222" stroke-width="1"/>
<text x="62.80" y="414.18" font-size="9.2" text-anchor="end" fill="#1a1a1a" stroke="#1a1a1a" stroke-width="0.1">0.2</text>
<line x1="64.80" y1="394.36" x2="68.40" y2="394.36" stroke="#222" stroke-width="1"/>
<text x="62.80" y="397.26" font-size="9.2" text-anchor="end" fill="#1a1a1a" stroke="#1a1a1a" stroke-width="0.1">0.4</text>
<line x1="64.80" y1="377.44" x2="68.40" y2="377.44" stroke="#222" stroke-width="1"/>
<text x="62.80" y="380.34" font-size="9.2" text-anchor="end" fill="#1a1a1a" stroke="#1a1a1a" stroke-width="0.1">0.6</text>
<line x1="64.80" y1="360.52" x2="68.40" y2="360.52" stroke="#222" stroke-width="1"/>
<text x="62.80" y="363.42" font-size="9.2" text-anchor="end" fill="#1a1a1a" stroke="#1a1a1a" stroke-width="0.1">0.8</text>
<line x1="67.90" y1="428.50" x2="258.60" y2="428.50" stroke="#1a1a1a" stroke-width="1.0"/>
<rect x="288.00" y="292.08" width="6.70" height="51.92" fill="#c55a24"/>
<rect x="296.40" y="294.04" width="6.70" height="49.96" fill="#d4d5d5"/>
<rect x="304.80" y="282.94" width="6.70" height="61.06" fill="#989b9c"/>
<rect x="318.40" y="304.72" width="6.70" height="39.28" fill="#c55a24"/>
<rect x="326.80" y="323.50" width="6.70" height="20.50" fill="#d4d5d5"/>
<rect x="335.20" y="309.84" width="6.70" height="34.16" fill="#989b9c"/>
<rect x="348.70" y="318.72" width="6.70" height="25.28" fill="#c55a24"/>
<rect x="357.10" y="318.38" width="6.70" height="25.62" fill="#d4d5d5"/>
<rect x="365.50" y="303.86" width="6.70" height="40.14" fill="#989b9c"/>
<rect x="379.00" y="335.97" width="6.70" height="8.03" fill="#c55a24"/>
<rect x="387.40" y="308.99" width="6.70" height="35.01" fill="#d4d5d5"/>
<text x="397.55" y="341.40" font-size="9.2" text-anchor="middle" fill="#1a1a1a" stroke="#1a1a1a" stroke-width="0.1">0</text>
<line x1="284.20" y1="276.40" x2="284.20" y2="344.50" stroke="#222" stroke-width="1"/>
<line x1="280.60" y1="344.00" x2="284.20" y2="344.00" stroke="#222" stroke-width="1"/>
<text x="278.40" y="346.90" font-size="9.2" text-anchor="end" fill="#1a1a1a" stroke="#1a1a1a" stroke-width="0.1">0.0</text>
<line x1="280.60" y1="327.10" x2="284.20" y2="327.10" stroke="#222" stroke-width="1"/>
<text x="278.40" y="330.00" font-size="9.2" text-anchor="end" fill="#1a1a1a" stroke="#1a1a1a" stroke-width="0.1">0.2</text>
<line x1="280.60" y1="310.20" x2="284.20" y2="310.20" stroke="#222" stroke-width="1"/>
<text x="278.40" y="313.10" font-size="9.2" text-anchor="end" fill="#1a1a1a" stroke="#1a1a1a" stroke-width="0.1">0.4</text>
<line x1="280.60" y1="293.30" x2="284.20" y2="293.30" stroke="#222" stroke-width="1"/>
<text x="278.40" y="296.20" font-size="9.2" text-anchor="end" fill="#1a1a1a" stroke="#1a1a1a" stroke-width="0.1">0.6</text>
<line x1="280.60" y1="276.40" x2="284.20" y2="276.40" stroke="#222" stroke-width="1"/>
<text x="278.40" y="279.30" font-size="9.2" text-anchor="end" fill="#1a1a1a" stroke="#1a1a1a" stroke-width="0.1">0.8</text>
<line x1="283.70" y1="344.50" x2="406.00" y2="344.50" stroke="#1a1a1a" stroke-width="1.0"/>
<rect x="288.00" y="368.82" width="6.70" height="59.08" fill="#c55a24"/>
<rect x="296.40" y="394.14" width="6.70" height="33.76" fill="#d4d5d5"/>
<rect x="304.80" y="375.15" width="6.70" height="52.75" fill="#989b9c"/>
<rect x="318.40" y="384.86" width="6.70" height="43.04" fill="#c55a24"/>
<rect x="326.80" y="399.20" width="6.70" height="28.70" fill="#d4d5d5"/>
<rect x="335.20" y="381.48" width="6.70" height="46.42" fill="#989b9c"/>
<rect x="348.70" y="395.83" width="6.70" height="32.07" fill="#c55a24"/>
<rect x="357.10" y="386.54" width="6.70" height="41.36" fill="#d4d5d5"/>
<rect x="365.50" y="389.50" width="6.70" height="38.40" fill="#989b9c"/>
<rect x="379.00" y="414.40" width="6.70" height="13.50" fill="#c55a24"/>
<text x="389.35" y="425.30" font-size="9.2" text-anchor="middle" fill="#1a1a1a" stroke="#1a1a1a" stroke-width="0.1">0</text>
<text x="397.75" y="425.30" font-size="9.2" text-anchor="middle" fill="#1a1a1a" stroke="#1a1a1a" stroke-width="0.1">0</text>
<line x1="284.20" y1="360.50" x2="284.20" y2="428.70" stroke="#222" stroke-width="1"/>
<line x1="280.60" y1="428.20" x2="284.20" y2="428.20" stroke="#222" stroke-width="1"/>
<text x="278.40" y="431.10" font-size="9.2" text-anchor="end" fill="#1a1a1a" stroke="#1a1a1a" stroke-width="0.1">0.0</text>
<line x1="280.60" y1="411.28" x2="284.20" y2="411.28" stroke="#222" stroke-width="1"/>
<text x="278.40" y="414.18" font-size="9.2" text-anchor="end" fill="#1a1a1a" stroke="#1a1a1a" stroke-width="0.1">0.2</text>
<line x1="280.60" y1="394.36" x2="284.20" y2="394.36" stroke="#222" stroke-width="1"/>
<text x="278.40" y="397.26" font-size="9.2" text-anchor="end" fill="#1a1a1a" stroke="#1a1a1a" stroke-width="0.1">0.4</text>
<line x1="280.60" y1="377.44" x2="284.20" y2="377.44" stroke="#222" stroke-width="1"/>
<text x="278.40" y="380.34" font-size="9.2" text-anchor="end" fill="#1a1a1a" stroke="#1a1a1a" stroke-width="0.1">0.6</text>
<line x1="280.60" y1="360.52" x2="284.20" y2="360.52" stroke="#222" stroke-width="1"/>
<text x="278.40" y="363.42" font-size="9.2" text-anchor="end" fill="#1a1a1a" stroke="#1a1a1a" stroke-width="0.1">0.8</text>
<line x1="283.70" y1="428.50" x2="406.00" y2="428.50" stroke="#1a1a1a" stroke-width="1.0"/>
<line x1="92.30" y1="428.40" x2="92.30" y2="430.40" stroke="#222" stroke-width="1"/>
<line x1="140.00" y1="428.40" x2="140.00" y2="430.40" stroke="#222" stroke-width="1"/>
<line x1="187.40" y1="428.40" x2="187.40" y2="430.40" stroke="#222" stroke-width="1"/>
<line x1="235.10" y1="428.40" x2="235.10" y2="430.40" stroke="#222" stroke-width="1"/>
<line x1="299.75" y1="428.40" x2="299.75" y2="430.40" stroke="#222" stroke-width="1"/>
<line x1="330.15" y1="428.40" x2="330.15" y2="430.40" stroke="#222" stroke-width="1"/>
<line x1="360.45" y1="428.40" x2="360.45" y2="430.40" stroke="#222" stroke-width="1"/>
<line x1="390.75" y1="428.40" x2="390.75" y2="430.40" stroke="#222" stroke-width="1"/>
<text x="0" y="0" font-size="10.7" text-anchor="end" fill="#1a1a1a" stroke="#1a1a1a" stroke-width="0.1" transform="translate(96.70 435.90) rotate(-45)">B Cells</text>
<text x="0" y="0" font-size="10.7" text-anchor="end" fill="#1a1a1a" stroke="#1a1a1a" stroke-width="0.1" transform="translate(144.40 435.90) rotate(-45)">CD4</text>
<text x="0" y="0" font-size="10.7" text-anchor="end" fill="#1a1a1a" stroke="#1a1a1a" stroke-width="0.1" transform="translate(191.80 435.90) rotate(-45)">CD8</text>
<text x="0" y="0" font-size="10.7" text-anchor="end" fill="#1a1a1a" stroke="#1a1a1a" stroke-width="0.1" transform="translate(239.50 435.90) rotate(-45)">Monocytes</text>
<text x="0" y="0" font-size="10.7" text-anchor="end" fill="#1a1a1a" stroke="#1a1a1a" stroke-width="0.1" transform="translate(304.15 435.90) rotate(-45)">Naive</text>
<text x="0" y="0" font-size="10.7" text-anchor="end" fill="#1a1a1a" stroke="#1a1a1a" stroke-width="0.1" transform="translate(310.94 442.69) rotate(-45)">B Cells</text>
<text x="0" y="0" font-size="10.7" text-anchor="end" fill="#1a1a1a" stroke="#1a1a1a" stroke-width="0.1" transform="translate(334.55 435.90) rotate(-45)">Memory</text>
<text x="0" y="0" font-size="10.7" text-anchor="end" fill="#1a1a1a" stroke="#1a1a1a" stroke-width="0.1" transform="translate(341.34 442.69) rotate(-45)">B Cells</text>
<text x="0" y="0" font-size="10.7" text-anchor="end" fill="#1a1a1a" stroke="#1a1a1a" stroke-width="0.1" transform="translate(364.85 435.90) rotate(-45)">Naive CD4</text>
<text x="0" y="0" font-size="10.7" text-anchor="end" fill="#1a1a1a" stroke="#1a1a1a" stroke-width="0.1" transform="translate(371.64 442.69) rotate(-45)">T Cells</text>
<text x="0" y="0" font-size="10.7" text-anchor="end" fill="#1a1a1a" stroke="#1a1a1a" stroke-width="0.1" transform="translate(395.15 435.90) rotate(-45)">γδ</text>
<text x="0" y="0" font-size="10.7" text-anchor="end" fill="#1a1a1a" stroke="#1a1a1a" stroke-width="0.1" transform="translate(401.94 442.69) rotate(-45)">T Cells</text>
<rect x="409.90" y="323.10" width="10.20" height="5.10" fill="#c55a24"/>
<text x="423.10" y="328.35" font-size="9.2" text-anchor="start" fill="#1a1a1a" stroke="#1a1a1a" stroke-width="0.1">Syllogist</text>
<rect x="409.90" y="336.30" width="10.20" height="5.10" fill="#d4d5d5"/>
<text x="423.10" y="341.55" font-size="9.2" text-anchor="start" fill="#1a1a1a" stroke="#1a1a1a" stroke-width="0.1">Cibersort</text>
<rect x="409.90" y="349.50" width="10.20" height="5.10" fill="#989b9c"/>
<text x="423.10" y="354.75" font-size="9.2" text-anchor="start" fill="#1a1a1a" stroke="#1a1a1a" stroke-width="0.1">xCell</text>
<rect x="409.90" y="362.60" width="10.20" height="5.10" fill="#a3cdc7"/>
<text x="423.10" y="367.85" font-size="9.2" text-anchor="start" fill="#1a1a1a" stroke="#1a1a1a" stroke-width="0.1">QuanTIseq</text>
<rect x="409.90" y="375.90" width="10.20" height="5.10" fill="#56a09e"/>
<text x="423.10" y="381.15" font-size="9.2" text-anchor="start" fill="#1a1a1a" stroke="#1a1a1a" stroke-width="0.1">EPIC</text>
<text x="26.50" y="352.20" font-size="12.8" text-anchor="middle" fill="#1a1a1a" stroke="#1a1a1a" stroke-width="0.1" transform="rotate(-90 26.50 352.20)">Correlation (Pearson’s <tspan font-style="italic">R</tspan>)</text>
<text x="46.00" y="311.00" font-size="10.6" text-anchor="middle" fill="#1a1a1a" stroke="#1a1a1a" stroke-width="0.1" transform="rotate(-90 46.00 311.00)">SDY311</text>
<text x="46.00" y="396.00" font-size="10.6" text-anchor="middle" fill="#1a1a1a" stroke="#1a1a1a" stroke-width="0.1" transform="rotate(-90 46.00 396.00)">SDY420</text>
<text x="471.20" y="275.10" font-size="13" text-anchor="start" fill="#000" stroke="#000" stroke-width="0.1" font-weight="bold">d</text>
<rect x="538.60" y="273.50" width="62.40" height="155.20" fill="#e3e4e6"/>
<rect x="543.00" y="303.10" width="8.80" height="31.30" fill="#c55a24"/>
<rect x="554.00" y="285.04" width="8.80" height="49.36" fill="#d4d5d5"/>
<rect x="565.00" y="313.63" width="8.80" height="20.77" fill="#989b9c"/>
<rect x="576.00" y="277.81" width="8.80" height="56.59" fill="#a3cdc7"/>
<rect x="587.00" y="313.93" width="8.80" height="20.47" fill="#56a09e"/>
<rect x="604.70" y="286.24" width="8.80" height="48.16" fill="#c55a24"/>
<rect x="615.70" y="315.14" width="8.80" height="19.26" fill="#d4d5d5"/>
<rect x="626.70" y="277.81" width="8.80" height="56.59" fill="#989b9c"/>
<rect x="637.70" y="279.62" width="8.80" height="54.78" fill="#a3cdc7"/>
<rect x="648.70" y="334.40" width="8.80" height="5.42" fill="#56a09e"/>
<line x1="538.60" y1="273.50" x2="538.60" y2="334.80" stroke="#222" stroke-width="1"/>
<line x1="535.00" y1="334.30" x2="538.60" y2="334.30" stroke="#222" stroke-width="1"/>
<text x="533.60" y="337.20" font-size="9.2" text-anchor="end" fill="#1a1a1a" stroke="#1a1a1a" stroke-width="0.1">0.0</text>
<line x1="535.00" y1="303.90" x2="538.60" y2="303.90" stroke="#222" stroke-width="1"/>
<text x="533.60" y="306.80" font-size="9.2" text-anchor="end" fill="#1a1a1a" stroke="#1a1a1a" stroke-width="0.1">0.5</text>
<line x1="535.00" y1="273.50" x2="538.60" y2="273.50" stroke="#222" stroke-width="1"/>
<text x="533.60" y="276.40" font-size="9.2" text-anchor="end" fill="#1a1a1a" stroke="#1a1a1a" stroke-width="0.1">1.0</text>
<line x1="538.10" y1="334.50" x2="662.00" y2="334.50" stroke="#1a1a1a" stroke-width="1.0"/>
<rect x="543.00" y="394.99" width="8.80" height="33.91" fill="#c55a24"/>
<rect x="554.00" y="401.91" width="8.80" height="26.99" fill="#d4d5d5"/>
<rect x="565.00" y="380.81" width="8.80" height="48.09" fill="#989b9c"/>
<rect x="576.00" y="390.15" width="8.80" height="38.75" fill="#a3cdc7"/>
<rect x="587.00" y="393.61" width="8.80" height="35.29" fill="#56a09e"/>
<rect x="604.70" y="377.35" width="8.80" height="51.55" fill="#c55a24"/>
<rect x="615.70" y="386.69" width="8.80" height="42.21" fill="#d4d5d5"/>
<rect x="626.70" y="375.96" width="8.80" height="52.94" fill="#989b9c"/>
<rect x="637.70" y="375.27" width="8.80" height="53.63" fill="#a3cdc7"/>
<rect x="648.70" y="408.14" width="8.80" height="20.76" fill="#56a09e"/>
<line x1="538.60" y1="359.30" x2="538.60" y2="429.20" stroke="#222" stroke-width="1"/>
<line x1="535.00" y1="428.70" x2="538.60" y2="428.70" stroke="#222" stroke-width="1"/>
<text x="533.60" y="431.60" font-size="9.2" text-anchor="end" fill="#1a1a1a" stroke="#1a1a1a" stroke-width="0.1">0.0</text>
<line x1="535.00" y1="414.82" x2="538.60" y2="414.82" stroke="#222" stroke-width="1"/>
<text x="533.60" y="417.72" font-size="9.2" text-anchor="end" fill="#1a1a1a" stroke="#1a1a1a" stroke-width="0.1">0.2</text>
<line x1="535.00" y1="400.94" x2="538.60" y2="400.94" stroke="#222" stroke-width="1"/>
<text x="533.60" y="403.84" font-size="9.2" text-anchor="end" fill="#1a1a1a" stroke="#1a1a1a" stroke-width="0.1">0.4</text>
<line x1="535.00" y1="387.06" x2="538.60" y2="387.06" stroke="#222" stroke-width="1"/>
<text x="533.60" y="389.96" font-size="9.2" text-anchor="end" fill="#1a1a1a" stroke="#1a1a1a" stroke-width="0.1">0.6</text>
<line x1="535.00" y1="373.18" x2="538.60" y2="373.18" stroke="#222" stroke-width="1"/>
<text x="533.60" y="376.08" font-size="9.2" text-anchor="end" fill="#1a1a1a" stroke="#1a1a1a" stroke-width="0.1">0.8</text>
<text x="533.60" y="362.60" font-size="9.2" text-anchor="end" fill="#1a1a1a" stroke="#1a1a1a" stroke-width="0.1">1.0</text>
<line x1="538.10" y1="428.70" x2="662.80" y2="428.70" stroke="#222" stroke-width="1.1"/>
<line x1="569.30" y1="429.20" x2="569.30" y2="431.20" stroke="#222" stroke-width="1"/>
<text x="0" y="0" font-size="11.1" text-anchor="end" fill="#1a1a1a" stroke="#1a1a1a" stroke-width="0.1" transform="translate(573.90 437.00) rotate(-45)">CD4</text>
<line x1="631.20" y1="429.20" x2="631.20" y2="431.20" stroke="#222" stroke-width="1"/>
<text x="0" y="0" font-size="11.1" text-anchor="end" fill="#1a1a1a" stroke="#1a1a1a" stroke-width="0.1" transform="translate(635.80 437.00) rotate(-45)">CD8</text>
<text x="497.20" y="352.00" font-size="12.8" text-anchor="middle" fill="#1a1a1a" stroke="#1a1a1a" stroke-width="0.1" transform="rotate(-90 497.20 352.00)">Correlation (Pearson’s <tspan font-style="italic">R</tspan>)</text>
<text x="513.20" y="308.00" font-size="10.7" text-anchor="middle" fill="#1a1a1a" stroke="#1a1a1a" stroke-width="0.1" transform="rotate(-90 513.20 308.00)">Lung cancer</text>
<text x="513.20" y="394.30" font-size="10.7" text-anchor="middle" fill="#1a1a1a" stroke="#1a1a1a" stroke-width="0.1" transform="rotate(-90 513.20 394.30)">Melanoma</text>
<text x="-0.30" y="487.20" font-size="13" text-anchor="start" fill="#000" stroke="#000" stroke-width="0.1" font-weight="bold">e</text>
<rect x="58.50" y="530.90" width="8.00" height="81.90" fill="url(#gRB)"/>
<text x="54.70" y="534.20" font-size="9.2" text-anchor="end" fill="#1a1a1a" stroke="#1a1a1a" stroke-width="0.1">1</text>
<text x="54.70" y="616.10" font-size="9.2" text-anchor="end" fill="#1a1a1a" stroke="#1a1a1a" stroke-width="0.1">-1</text>
<text x="27.40" y="535.50" font-size="12.8" text-anchor="end" fill="#1a1a1a" stroke="#1a1a1a" stroke-width="0.1" transform="rotate(-90 27.40 535.50)">Correlation</text>
<text x="37.60" y="536.80" font-size="12.8" text-anchor="end" fill="#1a1a1a" stroke="#1a1a1a" stroke-width="0.1" transform="rotate(-90 37.60 536.80)">(Pearson’s <tspan font-style="italic">R</tspan>)</text>
<rect x="148.40" y="488.10" width="14.50" height="14.50" fill="none" stroke="#e9e9e9" stroke-width="0.6"/>
<rect x="133.90" y="502.60" width="14.50" height="14.50" fill="none" stroke="#e9e9e9" stroke-width="0.6"/>
<rect x="148.40" y="502.60" width="14.50" height="14.50" fill="none" stroke="#e9e9e9" stroke-width="0.6"/>
<rect x="119.40" y="517.10" width="14.50" height="14.50" fill="none" stroke="#e9e9e9" stroke-width="0.6"/>
<rect x="133.90" y="517.10" width="14.50" height="14.50" fill="none" stroke="#e9e9e9" stroke-width="0.6"/>
<rect x="148.40" y="517.10" width="14.50" height="14.50" fill="none" stroke="#e9e9e9" stroke-width="0.6"/>
<rect x="104.90" y="531.60" width="14.50" height="14.50" fill="none" stroke="#e9e9e9" stroke-width="0.6"/>
<rect x="119.40" y="531.60" width="14.50" height="14.50" fill="none" stroke="#e9e9e9" stroke-width="0.6"/>
<rect x="133.90" y="531.60" width="14.50" height="14.50" fill="none" stroke="#e9e9e9" stroke-width="0.6"/>
<rect x="148.40" y="531.60" width="14.50" height="14.50" fill="none" stroke="#e9e9e9" stroke-width="0.6"/>
<rect x="90.40" y="546.10" width="14.50" height="14.50" fill="none" stroke="#e9e9e9" stroke-width="0.6"/>
<rect x="104.90" y="546.10" width="14.50" height="14.50" fill="none" stroke="#e9e9e9" stroke-width="0.6"/>
<rect x="119.40" y="546.10" width="14.50" height="14.50" fill="none" stroke="#e9e9e9" stroke-width="0.6"/>
<rect x="133.90" y="546.10" width="14.50" height="14.50" fill="none" stroke="#e9e9e9" stroke-width="0.6"/>
<rect x="148.40" y="546.10" width="14.50" height="14.50" fill="none" stroke="#e9e9e9" stroke-width="0.6"/>
<circle cx="155.65" cy="495.35" r="6.60" fill="#6a0a24"/>
<circle cx="141.15" cy="509.85" r="6.60" fill="#6a0a24"/>
<circle cx="126.65" cy="524.35" r="6.60" fill="#6a0a24"/>
<circle cx="112.15" cy="538.85" r="6.60" fill="#6a0a24"/>
<circle cx="97.65" cy="553.35" r="6.60" fill="#6a0a24"/>
<circle cx="155.65" cy="509.85" r="5.00" fill="#d9644e"/>
<circle cx="126.65" cy="538.85" r="3.00" fill="#b8d8ea"/>
<circle cx="141.15" cy="538.85" r="5.45" fill="#c9303c"/>
<circle cx="155.65" cy="538.85" r="5.45" fill="#c9303c"/>
<circle cx="112.15" cy="553.35" r="4.00" fill="#efa283"/>
<circle cx="141.15" cy="553.35" r="3.30" fill="#f6c4ab"/>
<rect x="148.30" y="488.10" width="15.10" height="72.50" fill="none" stroke="#555" stroke-width="0.95"/>
<rect x="242.60" y="488.10" width="14.50" height="14.50" fill="none" stroke="#e9e9e9" stroke-width="0.6"/>
<rect x="228.10" y="502.60" width="14.50" height="14.50" fill="none" stroke="#e9e9e9" stroke-width="0.6"/>
<rect x="242.60" y="502.60" width="14.50" height="14.50" fill="none" stroke="#e9e9e9" stroke-width="0.6"/>
<rect x="213.60" y="517.10" width="14.50" height="14.50" fill="none" stroke="#e9e9e9" stroke-width="0.6"/>
<rect x="228.10" y="517.10" width="14.50" height="14.50" fill="none" stroke="#e9e9e9" stroke-width="0.6"/>
<rect x="242.60" y="517.10" width="14.50" height="14.50" fill="none" stroke="#e9e9e9" stroke-width="0.6"/>
<rect x="199.10" y="531.60" width="14.50" height="14.50" fill="none" stroke="#e9e9e9" stroke-width="0.6"/>
<rect x="213.60" y="531.60" width="14.50" height="14.50" fill="none" stroke="#e9e9e9" stroke-width="0.6"/>
<rect x="228.10" y="531.60" width="14.50" height="14.50" fill="none" stroke="#e9e9e9" stroke-width="0.6"/>
<rect x="242.60" y="531.60" width="14.50" height="14.50" fill="none" stroke="#e9e9e9" stroke-width="0.6"/>
<rect x="184.60" y="546.10" width="14.50" height="14.50" fill="none" stroke="#e9e9e9" stroke-width="0.6"/>
<rect x="199.10" y="546.10" width="14.50" height="14.50" fill="none" stroke="#e9e9e9" stroke-width="0.6"/>
<rect x="213.60" y="546.10" width="14.50" height="14.50" fill="none" stroke="#e9e9e9" stroke-width="0.6"/>
<rect x="228.10" y="546.10" width="14.50" height="14.50" fill="none" stroke="#e9e9e9" stroke-width="0.6"/>
<rect x="242.60" y="546.10" width="14.50" height="14.50" fill="none" stroke="#e9e9e9" stroke-width="0.6"/>
<circle cx="249.85" cy="495.35" r="6.60" fill="#6a0a24"/>
<circle cx="235.35" cy="509.85" r="6.60" fill="#6a0a24"/>
<circle cx="220.85" cy="524.35" r="6.60" fill="#6a0a24"/>
<circle cx="206.35" cy="538.85" r="6.60" fill="#6a0a24"/>
<circle cx="191.85" cy="553.35" r="6.60" fill="#6a0a24"/>
<circle cx="249.85" cy="509.85" r="5.00" fill="#d6604d"/>
<circle cx="235.35" cy="524.35" r="6.00" fill="#8e0c2a"/>
<circle cx="249.85" cy="524.35" r="5.30" fill="#d25a4a"/>
<circle cx="220.85" cy="538.85" r="6.00" fill="#8f0d2c"/>
<circle cx="235.35" cy="538.85" r="6.00" fill="#a3142e"/>
<circle cx="249.85" cy="538.85" r="5.50" fill="#c83040"/>
<rect x="242.50" y="488.10" width="15.10" height="72.50" fill="none" stroke="#555" stroke-width="0.95"/>
<rect x="337.30" y="488.10" width="14.50" height="14.50" fill="none" stroke="#e9e9e9" stroke-width="0.6"/>
<rect x="322.80" y="502.60" width="14.50" height="14.50" fill="none" stroke="#e9e9e9" stroke-width="0.6"/>
<rect x="337.30" y="502.60" width="14.50" height="14.50" fill="none" stroke="#e9e9e9" stroke-width="0.6"/>
<rect x="308.30" y="517.10" width="14.50" height="14.50" fill="none" stroke="#e9e9e9" stroke-width="0.6"/>
<rect x="322.80" y="517.10" width="14.50" height="14.50" fill="none" stroke="#e9e9e9" stroke-width="0.6"/>
<rect x="337.30" y="517.10" width="14.50" height="14.50" fill="none" stroke="#e9e9e9" stroke-width="0.6"/>
<rect x="293.80" y="531.60" width="14.50" height="14.50" fill="none" stroke="#e9e9e9" stroke-width="0.6"/>
<rect x="308.30" y="531.60" width="14.50" height="14.50" fill="none" stroke="#e9e9e9" stroke-width="0.6"/>
<rect x="322.80" y="531.60" width="14.50" height="14.50" fill="none" stroke="#e9e9e9" stroke-width="0.6"/>
<rect x="337.30" y="531.60" width="14.50" height="14.50" fill="none" stroke="#e9e9e9" stroke-width="0.6"/>
<rect x="279.30" y="546.10" width="14.50" height="14.50" fill="none" stroke="#e9e9e9" stroke-width="0.6"/>
<rect x="293.80" y="546.10" width="14.50" height="14.50" fill="none" stroke="#e9e9e9" stroke-width="0.6"/>
<rect x="308.30" y="546.10" width="14.50" height="14.50" fill="none" stroke="#e9e9e9" stroke-width="0.6"/>
<rect x="322.80" y="546.10" width="14.50" height="14.50" fill="none" stroke="#e9e9e9" stroke-width="0.6"/>
<rect x="337.30" y="546.10" width="14.50" height="14.50" fill="none" stroke="#e9e9e9" stroke-width="0.6"/>
<circle cx="344.55" cy="495.35" r="6.60" fill="#6a0a24"/>
<circle cx="330.05" cy="509.85" r="6.60" fill="#6a0a24"/>
<circle cx="315.55" cy="524.35" r="6.60" fill="#6a0a24"/>
<circle cx="301.05" cy="538.85" r="6.60" fill="#6a0a24"/>
<circle cx="286.55" cy="553.35" r="6.60" fill="#6a0a24"/>
<circle cx="344.55" cy="509.85" r="5.85" fill="#b8182e"/>
<circle cx="344.55" cy="524.35" r="2.55" fill="#f7cdb6"/>
<circle cx="315.55" cy="538.85" r="2.55" fill="#f7cdb6"/>
<circle cx="330.05" cy="538.85" r="4.75" fill="#e07b62"/>
<circle cx="344.55" cy="538.85" r="4.95" fill="#d6604d"/>
<circle cx="301.05" cy="553.35" r="4.75" fill="#de6e55"/>
<circle cx="330.05" cy="553.35" r="5.25" fill="#dc6a55"/>
<circle cx="344.55" cy="553.35" r="5.50" fill="#c8363e"/>
<rect x="337.20" y="488.10" width="15.10" height="72.50" fill="none" stroke="#555" stroke-width="0.95"/>
<rect x="148.30" y="574.30" width="14.50" height="14.50" fill="none" stroke="#e9e9e9" stroke-width="0.6"/>
<rect x="133.80" y="588.80" width="14.50" height="14.50" fill="none" stroke="#e9e9e9" stroke-width="0.6"/>
<rect x="148.30" y="588.80" width="14.50" height="14.50" fill="none" stroke="#e9e9e9" stroke-width="0.6"/>
<rect x="119.30" y="603.30" width="14.50" height="14.50" fill="none" stroke="#e9e9e9" stroke-width="0.6"/>
<rect x="133.80" y="603.30" width="14.50" height="14.50" fill="none" stroke="#e9e9e9" stroke-width="0.6"/>
<rect x="148.30" y="603.30" width="14.50" height="14.50" fill="none" stroke="#e9e9e9" stroke-width="0.6"/>
<rect x="104.80" y="617.80" width="14.50" height="14.50" fill="none" stroke="#e9e9e9" stroke-width="0.6"/>
<rect x="119.30" y="617.80" width="14.50" height="14.50" fill="none" stroke="#e9e9e9" stroke-width="0.6"/>
<rect x="133.80" y="617.80" width="14.50" height="14.50" fill="none" stroke="#e9e9e9" stroke-width="0.6"/>
<rect x="148.30" y="617.80" width="14.50" height="14.50" fill="none" stroke="#e9e9e9" stroke-width="0.6"/>
<rect x="90.30" y="632.30" width="14.50" height="14.50" fill="none" stroke="#e9e9e9" stroke-width="0.6"/>
<rect x="104.80" y="632.30" width="14.50" height="14.50" fill="none" stroke="#e9e9e9" stroke-width="0.6"/>
<rect x="119.30" y="632.30" width="14.50" height="14.50" fill="none" stroke="#e9e9e9" stroke-width="0.6"/>
<rect x="133.80" y="632.30" width="14.50" height="14.50" fill="none" stroke="#e9e9e9" stroke-width="0.6"/>
<rect x="148.30" y="632.30" width="14.50" height="14.50" fill="none" stroke="#e9e9e9" stroke-width="0.6"/>
<circle cx="155.55" cy="581.55" r="6.60" fill="#6a0a24"/>
<circle cx="141.05" cy="596.05" r="6.60" fill="#6a0a24"/>
<circle cx="126.55" cy="610.55" r="6.60" fill="#6a0a24"/>
<circle cx="112.05" cy="625.05" r="6.60" fill="#6a0a24"/>
<circle cx="97.55" cy="639.55" r="6.60" fill="#6a0a24"/>
<circle cx="155.55" cy="596.05" r="3.50" fill="#f0a88a"/>
<circle cx="155.55" cy="610.55" r="3.35" fill="#a8cfe5"/>
<circle cx="141.05" cy="625.05" r="3.15" fill="#f4b9a0"/>
<circle cx="155.55" cy="625.05" r="3.90" fill="#eb9574"/>
<circle cx="112.05" cy="639.55" r="2.75" fill="#c5dff0"/>
<circle cx="155.55" cy="639.55" r="3.75" fill="#8ec2de"/>
<rect x="148.20" y="574.30" width="15.10" height="72.50" fill="none" stroke="#555" stroke-width="0.95"/>
<rect x="242.60" y="574.30" width="14.50" height="14.50" fill="none" stroke="#e9e9e9" stroke-width="0.6"/>
<rect x="228.10" y="588.80" width="14.50" height="14.50" fill="none" stroke="#e9e9e9" stroke-width="0.6"/>
<rect x="242.60" y="588.80" width="14.50" height="14.50" fill="none" stroke="#e9e9e9" stroke-width="0.6"/>
<rect x="213.60" y="603.30" width="14.50" height="14.50" fill="none" stroke="#e9e9e9" stroke-width="0.6"/>
<rect x="228.10" y="603.30" width="14.50" height="14.50" fill="none" stroke="#e9e9e9" stroke-width="0.6"/>
<rect x="242.60" y="603.30" width="14.50" height="14.50" fill="none" stroke="#e9e9e9" stroke-width="0.6"/>
<rect x="199.10" y="617.80" width="14.50" height="14.50" fill="none" stroke="#e9e9e9" stroke-width="0.6"/>
<rect x="213.60" y="617.80" width="14.50" height="14.50" fill="none" stroke="#e9e9e9" stroke-width="0.6"/>
<rect x="228.10" y="617.80" width="14.50" height="14.50" fill="none" stroke="#e9e9e9" stroke-width="0.6"/>
<rect x="242.60" y="617.80" width="14.50" height="14.50" fill="none" stroke="#e9e9e9" stroke-width="0.6"/>
<rect x="184.60" y="632.30" width="14.50" height="14.50" fill="none" stroke="#e9e9e9" stroke-width="0.6"/>
<rect x="199.10" y="632.30" width="14.50" height="14.50" fill="none" stroke="#e9e9e9" stroke-width="0.6"/>
<rect x="213.60" y="632.30" width="14.50" height="14.50" fill="none" stroke="#e9e9e9" stroke-width="0.6"/>
<rect x="228.10" y="632.30" width="14.50" height="14.50" fill="none" stroke="#e9e9e9" stroke-width="0.6"/>
<rect x="242.60" y="632.30" width="14.50" height="14.50" fill="none" stroke="#e9e9e9" stroke-width="0.6"/>
<circle cx="249.85" cy="581.55" r="6.60" fill="#6a0a24"/>
<circle cx="235.35" cy="596.05" r="6.60" fill="#6a0a24"/>
<circle cx="220.85" cy="610.55" r="6.60" fill="#6a0a24"/>
<circle cx="206.35" cy="625.05" r="6.60" fill="#6a0a24"/>
<circle cx="191.85" cy="639.55" r="6.60" fill="#6a0a24"/>
<circle cx="249.85" cy="596.05" r="5.15" fill="#cc3a3e"/>
<circle cx="235.35" cy="610.55" r="3.75" fill="#f0a080"/>
<circle cx="249.85" cy="610.55" r="2.90" fill="#f6c3a8"/>
<circle cx="220.85" cy="625.05" r="5.00" fill="#d9664f"/>
<circle cx="235.35" cy="625.05" r="3.15" fill="#f5bda4"/>
<circle cx="206.35" cy="639.55" r="3.35" fill="#f6c1a6"/>
<circle cx="220.85" cy="639.55" r="3.75" fill="#f0a385"/>
<circle cx="235.35" cy="639.55" r="4.00" fill="#ee9b7c"/>
<circle cx="249.85" cy="639.55" r="3.75" fill="#ee9878"/>
<rect x="242.50" y="574.30" width="15.10" height="72.50" fill="none" stroke="#555" stroke-width="0.95"/>
<rect x="337.30" y="574.30" width="14.50" height="14.50" fill="none" stroke="#e9e9e9" stroke-width="0.6"/>
<rect x="322.80" y="588.80" width="14.50" height="14.50" fill="none" stroke="#e9e9e9" stroke-width="0.6"/>
<rect x="337.30" y="588.80" width="14.50" height="14.50" fill="none" stroke="#e9e9e9" stroke-width="0.6"/>
<rect x="308.30" y="603.30" width="14.50" height="14.50" fill="none" stroke="#e9e9e9" stroke-width="0.6"/>
<rect x="322.80" y="603.30" width="14.50" height="14.50" fill="none" stroke="#e9e9e9" stroke-width="0.6"/>
<rect x="337.30" y="603.30" width="14.50" height="14.50" fill="none" stroke="#e9e9e9" stroke-width="0.6"/>
<rect x="293.80" y="617.80" width="14.50" height="14.50" fill="none" stroke="#e9e9e9" stroke-width="0.6"/>
<rect x="308.30" y="617.80" width="14.50" height="14.50" fill="none" stroke="#e9e9e9" stroke-width="0.6"/>
<rect x="322.80" y="617.80" width="14.50" height="14.50" fill="none" stroke="#e9e9e9" stroke-width="0.6"/>
<rect x="337.30" y="617.80" width="14.50" height="14.50" fill="none" stroke="#e9e9e9" stroke-width="0.6"/>
<rect x="279.30" y="632.30" width="14.50" height="14.50" fill="none" stroke="#e9e9e9" stroke-width="0.6"/>
<rect x="293.80" y="632.30" width="14.50" height="14.50" fill="none" stroke="#e9e9e9" stroke-width="0.6"/>
<rect x="308.30" y="632.30" width="14.50" height="14.50" fill="none" stroke="#e9e9e9" stroke-width="0.6"/>
<rect x="322.80" y="632.30" width="14.50" height="14.50" fill="none" stroke="#e9e9e9" stroke-width="0.6"/>
<rect x="337.30" y="632.30" width="14.50" height="14.50" fill="none" stroke="#e9e9e9" stroke-width="0.6"/>
<circle cx="344.55" cy="581.55" r="6.60" fill="#6a0a24"/>
<circle cx="330.05" cy="596.05" r="6.60" fill="#6a0a24"/>
<circle cx="315.55" cy="610.55" r="6.60" fill="#6a0a24"/>
<circle cx="301.05" cy="625.05" r="6.60" fill="#6a0a24"/>
<circle cx="286.55" cy="639.55" r="6.60" fill="#6a0a24"/>
<circle cx="344.55" cy="596.05" r="4.60" fill="#d6604d"/>
<circle cx="330.05" cy="625.05" r="3.75" fill="#f2ab8f"/>
<circle cx="344.55" cy="625.05" r="4.15" fill="#ec9a7b"/>
<circle cx="315.55" cy="639.55" r="2.90" fill="#f7d0bd"/>
<circle cx="344.55" cy="639.55" r="3.35" fill="#a6cee4"/>
<rect x="337.20" y="574.30" width="15.10" height="72.50" fill="none" stroke="#555" stroke-width="0.95"/>
<text x="109.60" y="492.30" font-size="10.7" text-anchor="middle" fill="#1a1a1a" stroke="#1a1a1a" stroke-width="0.1">Monocytes</text>
<text x="206.40" y="492.30" font-size="10.7" text-anchor="middle" fill="#1a1a1a" stroke="#1a1a1a" stroke-width="0.1">Macrophages</text>
<text x="303.10" y="492.30" font-size="10.7" text-anchor="middle" fill="#1a1a1a" stroke="#1a1a1a" stroke-width="0.1">Neutrophils</text>
<text x="109.20" y="579.60" font-size="10.7" text-anchor="middle" fill="#1a1a1a" stroke="#1a1a1a" stroke-width="0.1">CD4</text>
<text x="109.20" y="589.00" font-size="10.7" text-anchor="middle" fill="#1a1a1a" stroke="#1a1a1a" stroke-width="0.1">T Cells</text>
<text x="206.00" y="579.60" font-size="10.7" text-anchor="middle" fill="#1a1a1a" stroke="#1a1a1a" stroke-width="0.1">CD8</text>
<text x="206.00" y="589.00" font-size="10.7" text-anchor="middle" fill="#1a1a1a" stroke="#1a1a1a" stroke-width="0.1">T Cells</text>
<text x="303.00" y="579.10" font-size="10.7" text-anchor="middle" fill="#1a1a1a" stroke="#1a1a1a" stroke-width="0.1">B Cells</text>
<text x="356.20" y="496.83" font-size="9.2" text-anchor="start" fill="#1a1a1a" stroke="#1a1a1a" stroke-width="0.1">Syllogist</text>
<text x="356.20" y="511.48" font-size="9.2" text-anchor="start" fill="#1a1a1a" stroke="#1a1a1a" stroke-width="0.1">EPIC</text>
<text x="356.20" y="526.12" font-size="9.2" text-anchor="start" fill="#1a1a1a" stroke="#1a1a1a" stroke-width="0.1">QuanTIseq</text>
<text x="356.20" y="540.77" font-size="9.2" text-anchor="start" fill="#1a1a1a" stroke="#1a1a1a" stroke-width="0.1">xCell</text>
<text x="356.20" y="555.42" font-size="9.2" text-anchor="start" fill="#1a1a1a" stroke="#1a1a1a" stroke-width="0.1">Cibersort</text>
<text x="356.20" y="583.02" font-size="9.2" text-anchor="start" fill="#1a1a1a" stroke="#1a1a1a" stroke-width="0.1">Syllogist</text>
<text x="356.20" y="597.67" font-size="9.2" text-anchor="start" fill="#1a1a1a" stroke="#1a1a1a" stroke-width="0.1">EPIC</text>
<text x="356.20" y="612.32" font-size="9.2" text-anchor="start" fill="#1a1a1a" stroke="#1a1a1a" stroke-width="0.1">QuanTIseq</text>
<text x="356.20" y="626.97" font-size="9.2" text-anchor="start" fill="#1a1a1a" stroke="#1a1a1a" stroke-width="0.1">xCell</text>
<text x="356.20" y="641.62" font-size="9.2" text-anchor="start" fill="#1a1a1a" stroke="#1a1a1a" stroke-width="0.1">Cibersort</text>
<text x="0" y="0" font-size="9.2" text-anchor="end" fill="#1a1a1a" stroke="#1a1a1a" stroke-width="0.1" transform="translate(101.85 654.40) rotate(-45)">CB</text>
<text x="0" y="0" font-size="9.2" text-anchor="end" fill="#1a1a1a" stroke="#1a1a1a" stroke-width="0.1" transform="translate(116.35 654.40) rotate(-45)">XC</text>
<text x="0" y="0" font-size="9.2" text-anchor="end" fill="#1a1a1a" stroke="#1a1a1a" stroke-width="0.1" transform="translate(130.85 654.40) rotate(-45)">QS</text>
<text x="0" y="0" font-size="9.2" text-anchor="end" fill="#1a1a1a" stroke="#1a1a1a" stroke-width="0.1" transform="translate(145.35 654.40) rotate(-45)">EP</text>
<text x="0" y="0" font-size="9.2" text-anchor="end" fill="#1a1a1a" stroke="#1a1a1a" stroke-width="0.1" transform="translate(159.85 654.40) rotate(-45)">Syllogist</text>
<text x="0" y="0" font-size="9.2" text-anchor="end" fill="#1a1a1a" stroke="#1a1a1a" stroke-width="0.1" transform="translate(201.55 654.40) rotate(-45)">CB</text>
<text x="0" y="0" font-size="9.2" text-anchor="end" fill="#1a1a1a" stroke="#1a1a1a" stroke-width="0.1" transform="translate(216.05 654.40) rotate(-45)">XC</text>
<text x="0" y="0" font-size="9.2" text-anchor="end" fill="#1a1a1a" stroke="#1a1a1a" stroke-width="0.1" transform="translate(230.55 654.40) rotate(-45)">QS</text>
<text x="0" y="0" font-size="9.2" text-anchor="end" fill="#1a1a1a" stroke="#1a1a1a" stroke-width="0.1" transform="translate(245.05 654.40) rotate(-45)">EP</text>
<text x="0" y="0" font-size="9.2" text-anchor="end" fill="#1a1a1a" stroke="#1a1a1a" stroke-width="0.1" transform="translate(259.55 654.40) rotate(-45)">Syllogist</text>
<text x="0" y="0" font-size="9.2" text-anchor="end" fill="#1a1a1a" stroke="#1a1a1a" stroke-width="0.1" transform="translate(291.05 654.40) rotate(-45)">CB</text>
<text x="0" y="0" font-size="9.2" text-anchor="end" fill="#1a1a1a" stroke="#1a1a1a" stroke-width="0.1" transform="translate(305.55 654.40) rotate(-45)">XC</text>
<text x="0" y="0" font-size="9.2" text-anchor="end" fill="#1a1a1a" stroke="#1a1a1a" stroke-width="0.1" transform="translate(320.05 654.40) rotate(-45)">QS</text>
<text x="0" y="0" font-size="9.2" text-anchor="end" fill="#1a1a1a" stroke="#1a1a1a" stroke-width="0.1" transform="translate(334.55 654.40) rotate(-45)">EP</text>
<text x="0" y="0" font-size="9.2" text-anchor="end" fill="#1a1a1a" stroke="#1a1a1a" stroke-width="0.1" transform="translate(349.05 654.40) rotate(-45)">Syllogist</text>
<text x="421.40" y="486.80" font-size="13" text-anchor="start" fill="#000" stroke="#000" stroke-width="0.1" font-weight="bold">f</text>
<line x1="471.50" y1="483.40" x2="471.50" y2="647.00" stroke="#1a1a1a" stroke-width="1.0"/>
<line x1="471.00" y1="646.50" x2="637.00" y2="646.50" stroke="#1a1a1a" stroke-width="1.0"/>
<text x="466.00" y="492.20" font-size="10.4" text-anchor="end" fill="#1a1a1a" stroke="#1a1a1a" stroke-width="0.1">1000</text>
<text x="466.00" y="532.80" font-size="10.4" text-anchor="end" fill="#1a1a1a" stroke="#1a1a1a" stroke-width="0.1">100</text>
<text x="466.00" y="567.90" font-size="10.4" text-anchor="end" fill="#1a1a1a" stroke="#1a1a1a" stroke-width="0.1">10</text>
<text x="466.00" y="607.70" font-size="10.4" text-anchor="end" fill="#1a1a1a" stroke="#1a1a1a" stroke-width="0.1">1</text>
<text x="466.00" y="649.70" font-size="10.4" text-anchor="end" fill="#1a1a1a" stroke="#1a1a1a" stroke-width="0.1">0.1</text>
<text x="473.10" y="661.00" font-size="10.4" text-anchor="middle" fill="#1a1a1a" stroke="#1a1a1a" stroke-width="0.1">10</text>
<text x="526.40" y="661.00" font-size="10.4" text-anchor="middle" fill="#1a1a1a" stroke="#1a1a1a" stroke-width="0.1">1</text>
<text x="584.20" y="661.00" font-size="10.4" text-anchor="middle" fill="#1a1a1a" stroke="#1a1a1a" stroke-width="0.1">0.1</text>
<text x="644.00" y="661.00" font-size="10.4" text-anchor="middle" fill="#1a1a1a" stroke="#1a1a1a" stroke-width="0.1">0.01</text>
<text x="565.10" y="675.30" font-size="10.7" text-anchor="middle" fill="#1a1a1a" stroke="#1a1a1a" stroke-width="0.1">Spike in (%)</text>
<text x="444.80" y="563.20" font-size="10.7" text-anchor="middle" fill="#1a1a1a" stroke="#1a1a1a" stroke-width="0.1" transform="rotate(-90 444.80 563.20)">-log(<tspan font-style="italic">P</tspan> value)</text>
<line x1="472.60" y1="596.20" x2="635.10" y2="596.20" stroke="#111" stroke-width="1.2" stroke-dasharray="5.6 5.6"/>
<line x1="471.50" y1="596.20" x2="472.70" y2="596.20" stroke="#111" stroke-width="1.2"/>
<path d="M476.40,525.20 C479.40,524.82 488.40,522.45 494.40,522.90 C500.40,523.35 506.40,525.92 512.40,527.90 C518.40,529.88 524.40,529.53 530.40,534.80 C536.40,540.07 542.40,552.75 548.40,559.50 C554.40,566.25 560.40,568.65 566.40,575.30 C572.40,581.95 578.40,592.00 584.40,599.40 C590.40,606.80 599.40,616.32 602.40,619.70" fill="none" stroke="#ed7d31" stroke-width="1.5"/>
<circle cx="476.40" cy="525.20" r="2.35" fill="#ed7d31"/>
<circle cx="494.40" cy="522.90" r="2.35" fill="#ed7d31"/>
<circle cx="512.40" cy="527.90" r="2.35" fill="#ed7d31"/>
<circle cx="530.40" cy="534.80" r="2.35" fill="#ed7d31"/>
<circle cx="548.40" cy="559.50" r="2.35" fill="#ed7d31"/>
<circle cx="566.40" cy="575.30" r="2.35" fill="#ed7d31"/>
<circle cx="584.40" cy="599.40" r="2.35" fill="#ed7d31"/>
<circle cx="602.40" cy="619.70" r="2.35" fill="#ed7d31"/>
<path d="M476.40,519.80 C479.40,520.10 488.40,519.37 494.40,521.60 C500.40,523.83 506.40,528.15 512.40,533.20 C518.40,538.25 524.40,541.37 530.40,551.90 C536.40,562.43 542.40,585.85 548.40,596.40 C554.40,606.95 560.40,609.85 566.40,615.20 C572.40,620.55 578.40,623.90 584.40,628.50 C590.40,633.10 599.40,640.42 602.40,642.80" fill="none" stroke="#ffc000" stroke-width="1.5"/>
<circle cx="476.40" cy="519.80" r="2.35" fill="#ffc000"/>
<circle cx="494.40" cy="521.60" r="2.35" fill="#ffc000"/>
<circle cx="512.40" cy="533.20" r="2.35" fill="#ffc000"/>
<circle cx="530.40" cy="551.90" r="2.35" fill="#ffc000"/>
<circle cx="548.40" cy="596.40" r="2.35" fill="#ffc000"/>
<circle cx="566.40" cy="615.20" r="2.35" fill="#ffc000"/>
<circle cx="584.40" cy="628.50" r="2.35" fill="#ffc000"/>
<circle cx="602.40" cy="642.80" r="2.35" fill="#ffc000"/>
<path d="M476.40,541.90 C479.40,542.95 488.40,546.70 494.40,548.20 C500.40,549.70 506.40,548.08 512.40,550.90 C518.40,553.72 524.40,561.80 530.40,565.10 C536.40,568.40 542.40,566.75 548.40,570.70 C554.40,574.65 560.40,582.82 566.40,588.80 C572.40,594.78 578.40,600.60 584.40,606.60 C590.40,612.60 599.40,621.77 602.40,624.80" fill="none" stroke="#4472c4" stroke-width="1.5"/>
<circle cx="476.40" cy="541.90" r="2.35" fill="#4472c4"/>
<circle cx="494.40" cy="548.20" r="2.35" fill="#4472c4"/>
<circle cx="512.40" cy="550.90" r="2.35" fill="#4472c4"/>
<circle cx="530.40" cy="565.10" r="2.35" fill="#4472c4"/>
<circle cx="548.40" cy="570.70" r="2.35" fill="#4472c4"/>
<circle cx="566.40" cy="588.80" r="2.35" fill="#4472c4"/>
<circle cx="584.40" cy="606.60" r="2.35" fill="#4472c4"/>
<circle cx="602.40" cy="624.80" r="2.35" fill="#4472c4"/>
<path d="M476.40,525.00 C479.40,524.00 488.40,519.35 494.40,519.00 C500.40,518.65 506.40,521.73 512.40,522.90 C518.40,524.07 524.40,525.15 530.40,526.00 C536.40,526.85 542.40,525.98 548.40,528.00 C554.40,530.02 560.40,533.45 566.40,538.10 C572.40,542.75 578.40,551.17 584.40,555.90 C590.40,560.63 599.40,564.73 602.40,566.50" fill="none" stroke="#a5a5a5" stroke-width="1.5"/>
<circle cx="476.40" cy="525.00" r="2.35" fill="#a5a5a5"/>
<circle cx="494.40" cy="519.00" r="2.35" fill="#a5a5a5"/>
<circle cx="512.40" cy="522.90" r="2.35" fill="#a5a5a5"/>
<circle cx="530.40" cy="526.00" r="2.35" fill="#a5a5a5"/>
<circle cx="548.40" cy="528.00" r="2.35" fill="#a5a5a5"/>
<circle cx="566.40" cy="538.10" r="2.35" fill="#a5a5a5"/>
<circle cx="584.40" cy="555.90" r="2.35" fill="#a5a5a5"/>
<circle cx="602.40" cy="566.50" r="2.35" fill="#a5a5a5"/>
<path d="M476.40,519.60 C479.40,520.27 488.40,521.68 494.40,523.60 C500.40,525.52 506.40,528.55 512.40,531.10 C518.40,533.65 524.40,536.47 530.40,538.90 C536.40,541.33 542.40,543.12 548.40,545.70 C554.40,548.28 560.40,550.52 566.40,554.40 C572.40,558.28 578.40,565.68 584.40,569.00 C590.40,572.32 599.40,573.42 602.40,574.30" fill="none" stroke="#5b9bd5" stroke-width="1.5"/>
<circle cx="476.40" cy="519.60" r="2.35" fill="#5b9bd5"/>
<circle cx="494.40" cy="523.60" r="2.35" fill="#5b9bd5"/>
<circle cx="512.40" cy="531.10" r="2.35" fill="#5b9bd5"/>
<circle cx="530.40" cy="538.90" r="2.35" fill="#5b9bd5"/>
<circle cx="548.40" cy="545.70" r="2.35" fill="#5b9bd5"/>
<circle cx="566.40" cy="554.40" r="2.35" fill="#5b9bd5"/>
<circle cx="584.40" cy="569.00" r="2.35" fill="#5b9bd5"/>
<circle cx="602.40" cy="574.30" r="2.35" fill="#5b9bd5"/>
<text x="609.30" y="568.10" font-size="9.2" text-anchor="start" fill="#a5a5a5" stroke="#a5a5a5" stroke-width="0.1">pDC</text>
<text x="609.30" y="581.10" font-size="9.2" text-anchor="start" fill="#5b9bd5" stroke="#5b9bd5" stroke-width="0.1">CD4 T (Naive)</text>
<text x="609.30" y="620.90" font-size="9.2" text-anchor="start" fill="#ed7d31" stroke="#ed7d31" stroke-width="0.1">Neutrophils</text>
<text x="609.30" y="632.90" font-size="9.2" text-anchor="start" fill="#4472c4" stroke="#4472c4" stroke-width="0.1">HSCs</text>
<text x="609.30" y="643.30" font-size="9.2" text-anchor="start" fill="#ffc000" stroke="#ffc000" stroke-width="0.1">B Cells (Naive)</text>
</svg>
</body></html>
